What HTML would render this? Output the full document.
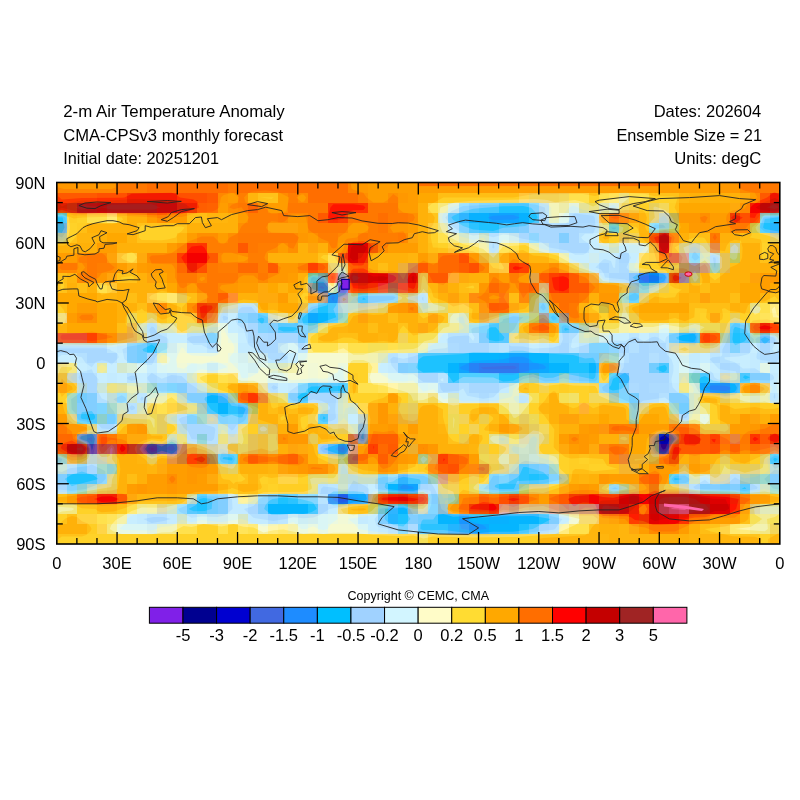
<!DOCTYPE html>
<html><head><meta charset="utf-8"><style>
html,body{margin:0;padding:0;background:#fff;width:800px;height:800px;overflow:hidden}
svg{position:absolute;left:0;top:0;will-change:transform}
text{font-family:"Liberation Sans",sans-serif;fill:#000}
</style></head><body>
<svg width="800" height="800" viewBox="0 0 800 800">

<g shape-rendering="crispEdges">
<rect x="56.8" y="182.5" width="60.6" height="10.4" fill="#FF9100"/>
<rect x="117.0" y="182.5" width="30.5" height="10.4" fill="#FF7D00"/>
<rect x="147.2" y="182.5" width="80.7" height="10.4" fill="#FF6E00"/>
<rect x="227.5" y="182.5" width="10.4" height="10.4" fill="#FF7D00"/>
<rect x="237.6" y="182.5" width="110.9" height="10.4" fill="#FF6E00"/>
<rect x="348.0" y="182.5" width="20.5" height="10.4" fill="#FF9100"/>
<rect x="368.1" y="182.5" width="351.9" height="10.4" fill="#FF9900"/>
<rect x="719.5" y="182.5" width="20.5" height="10.4" fill="#FF9100"/>
<rect x="739.6" y="182.5" width="40.6" height="10.4" fill="#FF7D00"/>
<rect x="56.8" y="192.5" width="40.6" height="10.4" fill="#FF5100"/>
<rect x="97.0" y="192.5" width="30.5" height="10.4" fill="#FF4300"/>
<rect x="127.1" y="192.5" width="50.6" height="10.4" fill="#F02600"/>
<rect x="177.3" y="192.5" width="30.5" height="10.4" fill="#FF4300"/>
<rect x="207.4" y="192.5" width="10.4" height="10.4" fill="#FF5100"/>
<rect x="217.5" y="192.5" width="10.4" height="10.4" fill="#FF9100"/>
<rect x="227.5" y="192.5" width="10.4" height="10.4" fill="#FF9900"/>
<rect x="237.6" y="192.5" width="10.4" height="10.4" fill="#FF8500"/>
<rect x="247.6" y="192.5" width="10.4" height="10.4" fill="#FFBC14"/>
<rect x="257.6" y="192.5" width="20.5" height="10.4" fill="#FFCE25"/>
<rect x="277.7" y="192.5" width="10.4" height="10.4" fill="#FF9900"/>
<rect x="287.8" y="192.5" width="10.4" height="10.4" fill="#FF8500"/>
<rect x="297.8" y="192.5" width="10.4" height="10.4" fill="#FF9900"/>
<rect x="307.8" y="192.5" width="50.6" height="10.4" fill="#FF6E00"/>
<rect x="358.1" y="192.5" width="10.4" height="10.4" fill="#FF8500"/>
<rect x="368.1" y="192.5" width="20.5" height="10.4" fill="#FF9900"/>
<rect x="388.2" y="192.5" width="10.4" height="10.4" fill="#FF8500"/>
<rect x="398.2" y="192.5" width="10.4" height="10.4" fill="#FF9100"/>
<rect x="408.3" y="192.5" width="10.4" height="10.4" fill="#FF9900"/>
<rect x="418.3" y="192.5" width="20.5" height="10.4" fill="#FFA800"/>
<rect x="438.4" y="192.5" width="80.7" height="10.4" fill="#FFC81E"/>
<rect x="518.7" y="192.5" width="10.4" height="10.4" fill="#FFD353"/>
<rect x="528.8" y="192.5" width="30.5" height="10.4" fill="#EFD066"/>
<rect x="558.9" y="192.5" width="10.4" height="10.4" fill="#EFD76D"/>
<rect x="568.9" y="192.5" width="20.5" height="10.4" fill="#FFE459"/>
<rect x="589.0" y="192.5" width="10.4" height="10.4" fill="#FFCE25"/>
<rect x="599.0" y="192.5" width="10.4" height="10.4" fill="#FFE459"/>
<rect x="609.1" y="192.5" width="10.4" height="10.4" fill="#FFE86C"/>
<rect x="619.1" y="192.5" width="10.4" height="10.4" fill="#E6E6A2"/>
<rect x="629.2" y="192.5" width="20.5" height="10.4" fill="#FFE459"/>
<rect x="649.3" y="192.5" width="30.5" height="10.4" fill="#FFCE25"/>
<rect x="679.4" y="192.5" width="10.4" height="10.4" fill="#FFBC14"/>
<rect x="689.4" y="192.5" width="50.6" height="10.4" fill="#FFB60D"/>
<rect x="739.6" y="192.5" width="10.4" height="10.4" fill="#FFAB12"/>
<rect x="749.7" y="192.5" width="10.4" height="10.4" fill="#FF9900"/>
<rect x="759.7" y="192.5" width="10.4" height="10.4" fill="#FF5100"/>
<rect x="769.8" y="192.5" width="10.4" height="10.4" fill="#EA1D00"/>
<rect x="56.8" y="202.6" width="10.4" height="10.4" fill="#D32C00"/>
<rect x="66.8" y="202.6" width="10.4" height="10.4" fill="#C53A0E"/>
<rect x="76.9" y="202.6" width="10.4" height="10.4" fill="#A91B1B"/>
<rect x="86.9" y="202.6" width="10.4" height="10.4" fill="#AE1616"/>
<rect x="97.0" y="202.6" width="10.4" height="10.4" fill="#B60E0E"/>
<rect x="107.0" y="202.6" width="50.6" height="10.4" fill="#A91B1B"/>
<rect x="157.2" y="202.6" width="20.5" height="10.4" fill="#C70D0D"/>
<rect x="177.3" y="202.6" width="10.4" height="10.4" fill="#DE290D"/>
<rect x="187.3" y="202.6" width="10.4" height="10.4" fill="#EA2B00"/>
<rect x="197.4" y="202.6" width="10.4" height="10.4" fill="#FF5700"/>
<rect x="207.4" y="202.6" width="10.4" height="10.4" fill="#FF5E00"/>
<rect x="217.5" y="202.6" width="10.4" height="10.4" fill="#FF9900"/>
<rect x="227.5" y="202.6" width="10.4" height="10.4" fill="#FF8500"/>
<rect x="237.6" y="202.6" width="10.4" height="10.4" fill="#FF7C00"/>
<rect x="247.6" y="202.6" width="10.4" height="10.4" fill="#FF5E00"/>
<rect x="257.6" y="202.6" width="10.4" height="10.4" fill="#FF8500"/>
<rect x="267.7" y="202.6" width="20.5" height="10.4" fill="#FF9900"/>
<rect x="287.8" y="202.6" width="40.6" height="10.4" fill="#FF7D00"/>
<rect x="327.9" y="202.6" width="40.6" height="10.4" fill="#FF1D00"/>
<rect x="368.1" y="202.6" width="30.5" height="10.4" fill="#FF7D00"/>
<rect x="398.2" y="202.6" width="20.5" height="10.4" fill="#FF9900"/>
<rect x="418.3" y="202.6" width="10.4" height="10.4" fill="#FFB60D"/>
<rect x="428.3" y="202.6" width="10.4" height="10.4" fill="#FFE459"/>
<rect x="438.4" y="202.6" width="10.4" height="10.4" fill="#F3EFA2"/>
<rect x="448.4" y="202.6" width="10.4" height="10.4" fill="#D5EEEC"/>
<rect x="458.5" y="202.6" width="10.4" height="10.4" fill="#88D9FF"/>
<rect x="468.5" y="202.6" width="10.4" height="10.4" fill="#76CDFF"/>
<rect x="478.6" y="202.6" width="20.5" height="10.4" fill="#62CBFF"/>
<rect x="498.6" y="202.6" width="30.5" height="10.4" fill="#2AC4FF"/>
<rect x="528.8" y="202.6" width="10.4" height="10.4" fill="#75D4FF"/>
<rect x="538.8" y="202.6" width="10.4" height="10.4" fill="#B9DDF1"/>
<rect x="548.8" y="202.6" width="10.4" height="10.4" fill="#EFF1B4"/>
<rect x="558.9" y="202.6" width="10.4" height="10.4" fill="#E6E59C"/>
<rect x="568.9" y="202.6" width="10.4" height="10.4" fill="#D7EFEA"/>
<rect x="579.0" y="202.6" width="10.4" height="10.4" fill="#DAD882"/>
<rect x="589.0" y="202.6" width="10.4" height="10.4" fill="#E6D967"/>
<rect x="599.0" y="202.6" width="10.4" height="10.4" fill="#CEDFB7"/>
<rect x="609.1" y="202.6" width="10.4" height="10.4" fill="#CEEAEC"/>
<rect x="619.1" y="202.6" width="10.4" height="10.4" fill="#EDD470"/>
<rect x="629.2" y="202.6" width="10.4" height="10.4" fill="#F3D056"/>
<rect x="639.2" y="202.6" width="10.4" height="10.4" fill="#FFCE25"/>
<rect x="649.3" y="202.6" width="10.4" height="10.4" fill="#DECB6D"/>
<rect x="659.3" y="202.6" width="10.4" height="10.4" fill="#EFD76D"/>
<rect x="669.3" y="202.6" width="10.4" height="10.4" fill="#FFC81E"/>
<rect x="679.4" y="202.6" width="50.6" height="10.4" fill="#FFA800"/>
<rect x="729.6" y="202.6" width="10.4" height="10.4" fill="#FFAB12"/>
<rect x="739.6" y="202.6" width="10.4" height="10.4" fill="#FF9100"/>
<rect x="749.7" y="202.6" width="10.4" height="10.4" fill="#F00000"/>
<rect x="759.7" y="202.6" width="10.4" height="10.4" fill="#BB0909"/>
<rect x="769.8" y="202.6" width="10.4" height="10.4" fill="#A91B1B"/>
<rect x="56.8" y="212.6" width="10.4" height="10.4" fill="#2AC4FF"/>
<rect x="66.8" y="212.6" width="10.4" height="10.4" fill="#FFC81E"/>
<rect x="76.9" y="212.6" width="10.4" height="10.4" fill="#FFCE25"/>
<rect x="86.9" y="212.6" width="20.5" height="10.4" fill="#FFE459"/>
<rect x="107.0" y="212.6" width="10.4" height="10.4" fill="#FFF08E"/>
<rect x="117.0" y="212.6" width="10.4" height="10.4" fill="#FFCE25"/>
<rect x="127.1" y="212.6" width="20.5" height="10.4" fill="#FFB60D"/>
<rect x="147.2" y="212.6" width="10.4" height="10.4" fill="#FF9900"/>
<rect x="157.2" y="212.6" width="10.4" height="10.4" fill="#FF8500"/>
<rect x="167.3" y="212.6" width="20.5" height="10.4" fill="#FF9900"/>
<rect x="187.3" y="212.6" width="20.5" height="10.4" fill="#FFC81E"/>
<rect x="207.4" y="212.6" width="20.5" height="10.4" fill="#FFBC14"/>
<rect x="227.5" y="212.6" width="10.4" height="10.4" fill="#FFB60D"/>
<rect x="237.6" y="212.6" width="10.4" height="10.4" fill="#FF9900"/>
<rect x="247.6" y="212.6" width="30.5" height="10.4" fill="#FF8500"/>
<rect x="277.7" y="212.6" width="10.4" height="10.4" fill="#FF7D00"/>
<rect x="287.8" y="212.6" width="20.5" height="10.4" fill="#FF9100"/>
<rect x="307.8" y="212.6" width="10.4" height="10.4" fill="#FF7D00"/>
<rect x="317.9" y="212.6" width="10.4" height="10.4" fill="#FF5100"/>
<rect x="327.9" y="212.6" width="10.4" height="10.4" fill="#FF1D00"/>
<rect x="338.0" y="212.6" width="10.4" height="10.4" fill="#FF2B00"/>
<rect x="348.0" y="212.6" width="30.5" height="10.4" fill="#FF7D00"/>
<rect x="378.1" y="212.6" width="10.4" height="10.4" fill="#FF6E00"/>
<rect x="388.2" y="212.6" width="20.5" height="10.4" fill="#FF7D00"/>
<rect x="408.3" y="212.6" width="10.4" height="10.4" fill="#FF8500"/>
<rect x="418.3" y="212.6" width="10.4" height="10.4" fill="#FFB60D"/>
<rect x="428.3" y="212.6" width="10.4" height="10.4" fill="#FFBC14"/>
<rect x="438.4" y="212.6" width="10.4" height="10.4" fill="#CEEAEC"/>
<rect x="448.4" y="212.6" width="10.4" height="10.4" fill="#51C5FF"/>
<rect x="458.5" y="212.6" width="10.4" height="10.4" fill="#44B2FF"/>
<rect x="468.5" y="212.6" width="20.5" height="10.4" fill="#0CABFF"/>
<rect x="488.6" y="212.6" width="30.5" height="10.4" fill="#1699FF"/>
<rect x="518.7" y="212.6" width="10.4" height="10.4" fill="#0CABFF"/>
<rect x="528.8" y="212.6" width="10.4" height="10.4" fill="#2AC4FF"/>
<rect x="538.8" y="212.6" width="10.4" height="10.4" fill="#B4E0FF"/>
<rect x="548.8" y="212.6" width="10.4" height="10.4" fill="#EFF1B4"/>
<rect x="558.9" y="212.6" width="10.4" height="10.4" fill="#E4F8EA"/>
<rect x="568.9" y="212.6" width="30.5" height="10.4" fill="#ADDBFF"/>
<rect x="599.0" y="212.6" width="10.4" height="10.4" fill="#FFA325"/>
<rect x="609.1" y="212.6" width="10.4" height="10.4" fill="#FF600D"/>
<rect x="619.1" y="212.6" width="10.4" height="10.4" fill="#FF8114"/>
<rect x="629.2" y="212.6" width="10.4" height="10.4" fill="#FFA10D"/>
<rect x="639.2" y="212.6" width="10.4" height="10.4" fill="#FFBC14"/>
<rect x="649.3" y="212.6" width="10.4" height="10.4" fill="#DEC466"/>
<rect x="659.3" y="212.6" width="10.4" height="10.4" fill="#B9C7BD"/>
<rect x="669.3" y="212.6" width="10.4" height="10.4" fill="#A6A159"/>
<rect x="679.4" y="212.6" width="20.5" height="10.4" fill="#FF9100"/>
<rect x="699.5" y="212.6" width="10.4" height="10.4" fill="#FF8500"/>
<rect x="709.5" y="212.6" width="20.5" height="10.4" fill="#FF9900"/>
<rect x="729.6" y="212.6" width="10.4" height="10.4" fill="#EA2B00"/>
<rect x="739.6" y="212.6" width="10.4" height="10.4" fill="#FF4300"/>
<rect x="749.7" y="212.6" width="10.4" height="10.4" fill="#FF2B00"/>
<rect x="759.7" y="212.6" width="10.4" height="10.4" fill="#62CBFF"/>
<rect x="769.8" y="212.6" width="10.4" height="10.4" fill="#3EC6FF"/>
<rect x="56.8" y="222.7" width="10.4" height="10.4" fill="#58A1CA"/>
<rect x="66.8" y="222.7" width="10.4" height="10.4" fill="#FFCE25"/>
<rect x="76.9" y="222.7" width="10.4" height="10.4" fill="#FFC81E"/>
<rect x="86.9" y="222.7" width="50.6" height="10.4" fill="#FFB60D"/>
<rect x="137.1" y="222.7" width="50.6" height="10.4" fill="#FFCE25"/>
<rect x="187.3" y="222.7" width="50.6" height="10.4" fill="#FFB60D"/>
<rect x="237.6" y="222.7" width="30.5" height="10.4" fill="#FF8500"/>
<rect x="267.7" y="222.7" width="30.5" height="10.4" fill="#FFA10D"/>
<rect x="297.8" y="222.7" width="10.4" height="10.4" fill="#FF9900"/>
<rect x="307.8" y="222.7" width="40.6" height="10.4" fill="#FF7D00"/>
<rect x="348.0" y="222.7" width="20.5" height="10.4" fill="#FF9900"/>
<rect x="368.1" y="222.7" width="10.4" height="10.4" fill="#FF8500"/>
<rect x="378.1" y="222.7" width="10.4" height="10.4" fill="#FF7D00"/>
<rect x="388.2" y="222.7" width="20.5" height="10.4" fill="#FF9100"/>
<rect x="408.3" y="222.7" width="10.4" height="10.4" fill="#FF9900"/>
<rect x="418.3" y="222.7" width="10.4" height="10.4" fill="#FFB60D"/>
<rect x="428.3" y="222.7" width="10.4" height="10.4" fill="#FFD248"/>
<rect x="438.4" y="222.7" width="10.4" height="10.4" fill="#E6E6A2"/>
<rect x="448.4" y="222.7" width="10.4" height="10.4" fill="#BEE7FF"/>
<rect x="458.5" y="222.7" width="10.4" height="10.4" fill="#75D4FF"/>
<rect x="468.5" y="222.7" width="10.4" height="10.4" fill="#3EC6FF"/>
<rect x="478.6" y="222.7" width="20.5" height="10.4" fill="#2AC4FF"/>
<rect x="498.6" y="222.7" width="20.5" height="10.4" fill="#62CBFF"/>
<rect x="518.7" y="222.7" width="10.4" height="10.4" fill="#76CDFF"/>
<rect x="528.8" y="222.7" width="50.6" height="10.4" fill="#ADDBFF"/>
<rect x="579.0" y="222.7" width="20.5" height="10.4" fill="#B4E0FF"/>
<rect x="599.0" y="222.7" width="10.4" height="10.4" fill="#DAD882"/>
<rect x="609.1" y="222.7" width="10.4" height="10.4" fill="#42B9BD"/>
<rect x="619.1" y="222.7" width="10.4" height="10.4" fill="#BDC054"/>
<rect x="629.2" y="222.7" width="10.4" height="10.4" fill="#FFCE25"/>
<rect x="639.2" y="222.7" width="10.4" height="10.4" fill="#FFBC14"/>
<rect x="649.3" y="222.7" width="10.4" height="10.4" fill="#73D7FF"/>
<rect x="659.3" y="222.7" width="10.4" height="10.4" fill="#81C0BD"/>
<rect x="669.3" y="222.7" width="10.4" height="10.4" fill="#A6BE66"/>
<rect x="679.4" y="222.7" width="10.4" height="10.4" fill="#FFA800"/>
<rect x="689.4" y="222.7" width="20.5" height="10.4" fill="#FF9400"/>
<rect x="709.5" y="222.7" width="20.5" height="10.4" fill="#FF9900"/>
<rect x="729.6" y="222.7" width="20.5" height="10.4" fill="#FF7D00"/>
<rect x="749.7" y="222.7" width="10.4" height="10.4" fill="#BDC256"/>
<rect x="759.7" y="222.7" width="10.4" height="10.4" fill="#2AC4FF"/>
<rect x="769.8" y="222.7" width="10.4" height="10.4" fill="#34B2FF"/>
<rect x="56.8" y="232.7" width="10.4" height="10.4" fill="#B0B26D"/>
<rect x="66.8" y="232.7" width="10.4" height="10.4" fill="#FFCE25"/>
<rect x="76.9" y="232.7" width="20.5" height="10.4" fill="#FFBC14"/>
<rect x="97.0" y="232.7" width="10.4" height="10.4" fill="#FFB60D"/>
<rect x="107.0" y="232.7" width="20.5" height="10.4" fill="#FFA800"/>
<rect x="127.1" y="232.7" width="10.4" height="10.4" fill="#FFBC14"/>
<rect x="137.1" y="232.7" width="40.6" height="10.4" fill="#FFCE25"/>
<rect x="177.3" y="232.7" width="10.4" height="10.4" fill="#FFBC14"/>
<rect x="187.3" y="232.7" width="10.4" height="10.4" fill="#FF9900"/>
<rect x="197.4" y="232.7" width="20.5" height="10.4" fill="#FF8500"/>
<rect x="217.5" y="232.7" width="10.4" height="10.4" fill="#FF9900"/>
<rect x="227.5" y="232.7" width="10.4" height="10.4" fill="#FF8500"/>
<rect x="237.6" y="232.7" width="60.6" height="10.4" fill="#FF7D00"/>
<rect x="297.8" y="232.7" width="10.4" height="10.4" fill="#FF9100"/>
<rect x="307.8" y="232.7" width="10.4" height="10.4" fill="#FF9900"/>
<rect x="317.9" y="232.7" width="20.5" height="10.4" fill="#FF8500"/>
<rect x="338.0" y="232.7" width="20.5" height="10.4" fill="#FF9100"/>
<rect x="358.1" y="232.7" width="10.4" height="10.4" fill="#FF7D00"/>
<rect x="368.1" y="232.7" width="30.5" height="10.4" fill="#FF8500"/>
<rect x="398.2" y="232.7" width="10.4" height="10.4" fill="#FF7D00"/>
<rect x="408.3" y="232.7" width="10.4" height="10.4" fill="#FFA412"/>
<rect x="418.3" y="232.7" width="10.4" height="10.4" fill="#FFB60D"/>
<rect x="428.3" y="232.7" width="10.4" height="10.4" fill="#FFCE25"/>
<rect x="438.4" y="232.7" width="10.4" height="10.4" fill="#FFE459"/>
<rect x="448.4" y="232.7" width="10.4" height="10.4" fill="#F3EFA2"/>
<rect x="458.5" y="232.7" width="10.4" height="10.4" fill="#D5E3B7"/>
<rect x="468.5" y="232.7" width="10.4" height="10.4" fill="#D5EEEC"/>
<rect x="478.6" y="232.7" width="10.4" height="10.4" fill="#D5E3B7"/>
<rect x="488.6" y="232.7" width="10.4" height="10.4" fill="#BEE7FF"/>
<rect x="498.6" y="232.7" width="10.4" height="10.4" fill="#DEF7F1"/>
<rect x="508.7" y="232.7" width="10.4" height="10.4" fill="#D2EBEA"/>
<rect x="518.7" y="232.7" width="10.4" height="10.4" fill="#ADDBFF"/>
<rect x="528.8" y="232.7" width="10.4" height="10.4" fill="#88D9FF"/>
<rect x="538.8" y="232.7" width="20.5" height="10.4" fill="#ADDBFF"/>
<rect x="558.9" y="232.7" width="10.4" height="10.4" fill="#76CDFF"/>
<rect x="568.9" y="232.7" width="10.4" height="10.4" fill="#ADDBFF"/>
<rect x="579.0" y="232.7" width="20.5" height="10.4" fill="#C5ECFF"/>
<rect x="599.0" y="232.7" width="10.4" height="10.4" fill="#FFB60D"/>
<rect x="609.1" y="232.7" width="10.4" height="10.4" fill="#FFC81E"/>
<rect x="619.1" y="232.7" width="10.4" height="10.4" fill="#DEB759"/>
<rect x="629.2" y="232.7" width="10.4" height="10.4" fill="#EFD066"/>
<rect x="639.2" y="232.7" width="10.4" height="10.4" fill="#FFBA12"/>
<rect x="649.3" y="232.7" width="10.4" height="10.4" fill="#F04200"/>
<rect x="659.3" y="232.7" width="10.4" height="10.4" fill="#B60E0E"/>
<rect x="669.3" y="232.7" width="10.4" height="10.4" fill="#FF8114"/>
<rect x="679.4" y="232.7" width="10.4" height="10.4" fill="#FFB60D"/>
<rect x="689.4" y="232.7" width="20.5" height="10.4" fill="#FFC81E"/>
<rect x="709.5" y="232.7" width="10.4" height="10.4" fill="#FF6600"/>
<rect x="719.5" y="232.7" width="20.5" height="10.4" fill="#FFB60D"/>
<rect x="739.6" y="232.7" width="30.5" height="10.4" fill="#FFC81E"/>
<rect x="769.8" y="232.7" width="10.4" height="10.4" fill="#DEC466"/>
<rect x="56.8" y="242.8" width="40.6" height="10.4" fill="#FFB60D"/>
<rect x="97.0" y="242.8" width="20.5" height="10.4" fill="#FF9900"/>
<rect x="117.0" y="242.8" width="50.6" height="10.4" fill="#FFB60D"/>
<rect x="167.3" y="242.8" width="10.4" height="10.4" fill="#FF9900"/>
<rect x="177.3" y="242.8" width="10.4" height="10.4" fill="#FF8500"/>
<rect x="187.3" y="242.8" width="20.5" height="10.4" fill="#FF1D00"/>
<rect x="207.4" y="242.8" width="30.5" height="10.4" fill="#FF8500"/>
<rect x="237.6" y="242.8" width="10.4" height="10.4" fill="#FF5100"/>
<rect x="247.6" y="242.8" width="10.4" height="10.4" fill="#FF7D00"/>
<rect x="257.6" y="242.8" width="20.5" height="10.4" fill="#FF8500"/>
<rect x="277.7" y="242.8" width="10.4" height="10.4" fill="#FF9900"/>
<rect x="287.8" y="242.8" width="10.4" height="10.4" fill="#FF8500"/>
<rect x="297.8" y="242.8" width="10.4" height="10.4" fill="#FFB60D"/>
<rect x="307.8" y="242.8" width="10.4" height="10.4" fill="#FFA10D"/>
<rect x="317.9" y="242.8" width="10.4" height="10.4" fill="#FFB60D"/>
<rect x="327.9" y="242.8" width="10.4" height="10.4" fill="#FF8500"/>
<rect x="338.0" y="242.8" width="10.4" height="10.4" fill="#FF9900"/>
<rect x="348.0" y="242.8" width="20.5" height="10.4" fill="#D30000"/>
<rect x="368.1" y="242.8" width="10.4" height="10.4" fill="#F05100"/>
<rect x="378.1" y="242.8" width="10.4" height="10.4" fill="#FF8500"/>
<rect x="388.2" y="242.8" width="30.5" height="10.4" fill="#FF9900"/>
<rect x="418.3" y="242.8" width="10.4" height="10.4" fill="#FFB60D"/>
<rect x="428.3" y="242.8" width="10.4" height="10.4" fill="#FFC81E"/>
<rect x="438.4" y="242.8" width="10.4" height="10.4" fill="#FFCE25"/>
<rect x="448.4" y="242.8" width="10.4" height="10.4" fill="#FFD248"/>
<rect x="458.5" y="242.8" width="10.4" height="10.4" fill="#FFE459"/>
<rect x="468.5" y="242.8" width="10.4" height="10.4" fill="#FFE86C"/>
<rect x="478.6" y="242.8" width="10.4" height="10.4" fill="#F3EFA2"/>
<rect x="488.6" y="242.8" width="10.4" height="10.4" fill="#B4E0FF"/>
<rect x="498.6" y="242.8" width="10.4" height="10.4" fill="#FFE86C"/>
<rect x="508.7" y="242.8" width="10.4" height="10.4" fill="#FFE459"/>
<rect x="518.7" y="242.8" width="10.4" height="10.4" fill="#FFCE25"/>
<rect x="528.8" y="242.8" width="10.4" height="10.4" fill="#EFEDA1"/>
<rect x="538.8" y="242.8" width="10.4" height="10.4" fill="#D2EBEA"/>
<rect x="548.8" y="242.8" width="10.4" height="10.4" fill="#B4E0FF"/>
<rect x="558.9" y="242.8" width="30.5" height="10.4" fill="#ADDBFF"/>
<rect x="589.0" y="242.8" width="10.4" height="10.4" fill="#C5ECFF"/>
<rect x="599.0" y="242.8" width="10.4" height="10.4" fill="#CEEAEC"/>
<rect x="609.1" y="242.8" width="10.4" height="10.4" fill="#CEDFB7"/>
<rect x="619.1" y="242.8" width="10.4" height="10.4" fill="#C5ECFF"/>
<rect x="629.2" y="242.8" width="10.4" height="10.4" fill="#CCEBF1"/>
<rect x="639.2" y="242.8" width="10.4" height="10.4" fill="#D5EEEC"/>
<rect x="649.3" y="242.8" width="10.4" height="10.4" fill="#F3BC42"/>
<rect x="659.3" y="242.8" width="10.4" height="10.4" fill="#C70D0D"/>
<rect x="669.3" y="242.8" width="10.4" height="10.4" fill="#FFD248"/>
<rect x="679.4" y="242.8" width="10.4" height="10.4" fill="#CECCA6"/>
<rect x="689.4" y="242.8" width="10.4" height="10.4" fill="#B9C7BD"/>
<rect x="699.5" y="242.8" width="10.4" height="10.4" fill="#D5D1A6"/>
<rect x="709.5" y="242.8" width="10.4" height="10.4" fill="#DA7E63"/>
<rect x="719.5" y="242.8" width="10.4" height="10.4" fill="#FFBC14"/>
<rect x="729.6" y="242.8" width="10.4" height="10.4" fill="#B9C7BD"/>
<rect x="739.6" y="242.8" width="20.5" height="10.4" fill="#FFB60D"/>
<rect x="759.7" y="242.8" width="10.4" height="10.4" fill="#FFCE25"/>
<rect x="769.8" y="242.8" width="10.4" height="10.4" fill="#FFB60D"/>
<rect x="56.8" y="252.8" width="20.5" height="10.4" fill="#FF9900"/>
<rect x="76.9" y="252.8" width="10.4" height="10.4" fill="#FF8500"/>
<rect x="86.9" y="252.8" width="20.5" height="10.4" fill="#FF7D00"/>
<rect x="107.0" y="252.8" width="10.4" height="10.4" fill="#FFA10D"/>
<rect x="117.0" y="252.8" width="10.4" height="10.4" fill="#FFD248"/>
<rect x="127.1" y="252.8" width="10.4" height="10.4" fill="#FFE459"/>
<rect x="137.1" y="252.8" width="10.4" height="10.4" fill="#FFAB12"/>
<rect x="147.2" y="252.8" width="30.5" height="10.4" fill="#FF7D00"/>
<rect x="177.3" y="252.8" width="10.4" height="10.4" fill="#FF2B00"/>
<rect x="187.3" y="252.8" width="20.5" height="10.4" fill="#F00000"/>
<rect x="207.4" y="252.8" width="10.4" height="10.4" fill="#FF5100"/>
<rect x="217.5" y="252.8" width="20.5" height="10.4" fill="#FF9100"/>
<rect x="237.6" y="252.8" width="10.4" height="10.4" fill="#FF9900"/>
<rect x="247.6" y="252.8" width="20.5" height="10.4" fill="#FF8500"/>
<rect x="267.7" y="252.8" width="50.6" height="10.4" fill="#FFB60D"/>
<rect x="317.9" y="252.8" width="10.4" height="10.4" fill="#FFCE25"/>
<rect x="327.9" y="252.8" width="10.4" height="10.4" fill="#FFE86C"/>
<rect x="338.0" y="252.8" width="10.4" height="10.4" fill="#F04D12"/>
<rect x="348.0" y="252.8" width="10.4" height="10.4" fill="#D30000"/>
<rect x="358.1" y="252.8" width="10.4" height="10.4" fill="#EA1D00"/>
<rect x="368.1" y="252.8" width="40.6" height="10.4" fill="#FFB60D"/>
<rect x="408.3" y="252.8" width="10.4" height="10.4" fill="#FFBC14"/>
<rect x="418.3" y="252.8" width="10.4" height="10.4" fill="#FF9900"/>
<rect x="428.3" y="252.8" width="10.4" height="10.4" fill="#FFAB12"/>
<rect x="438.4" y="252.8" width="20.5" height="10.4" fill="#FF6600"/>
<rect x="458.5" y="252.8" width="10.4" height="10.4" fill="#FF4300"/>
<rect x="468.5" y="252.8" width="10.4" height="10.4" fill="#FF9100"/>
<rect x="478.6" y="252.8" width="10.4" height="10.4" fill="#E6B342"/>
<rect x="488.6" y="252.8" width="10.4" height="10.4" fill="#DACB75"/>
<rect x="498.6" y="252.8" width="10.4" height="10.4" fill="#FFAB12"/>
<rect x="508.7" y="252.8" width="10.4" height="10.4" fill="#FF9100"/>
<rect x="518.7" y="252.8" width="10.4" height="10.4" fill="#FFAB12"/>
<rect x="528.8" y="252.8" width="20.5" height="10.4" fill="#FFBC14"/>
<rect x="548.8" y="252.8" width="10.4" height="10.4" fill="#FFCE25"/>
<rect x="558.9" y="252.8" width="10.4" height="10.4" fill="#F3EE9C"/>
<rect x="568.9" y="252.8" width="20.5" height="10.4" fill="#C5ECFF"/>
<rect x="589.0" y="252.8" width="10.4" height="10.4" fill="#CEEAEC"/>
<rect x="599.0" y="252.8" width="20.5" height="10.4" fill="#BEE7FF"/>
<rect x="619.1" y="252.8" width="10.4" height="10.4" fill="#ADDBFF"/>
<rect x="629.2" y="252.8" width="10.4" height="10.4" fill="#C5ECFF"/>
<rect x="639.2" y="252.8" width="10.4" height="10.4" fill="#FFDA5A"/>
<rect x="649.3" y="252.8" width="10.4" height="10.4" fill="#FFD353"/>
<rect x="659.3" y="252.8" width="10.4" height="10.4" fill="#FF7912"/>
<rect x="669.3" y="252.8" width="10.4" height="10.4" fill="#DA5263"/>
<rect x="679.4" y="252.8" width="10.4" height="10.4" fill="#C5809C"/>
<rect x="689.4" y="252.8" width="10.4" height="10.4" fill="#75D4FF"/>
<rect x="699.5" y="252.8" width="10.4" height="10.4" fill="#D5E3B7"/>
<rect x="709.5" y="252.8" width="10.4" height="10.4" fill="#ADDBFF"/>
<rect x="719.5" y="252.8" width="10.4" height="10.4" fill="#DAB863"/>
<rect x="729.6" y="252.8" width="10.4" height="10.4" fill="#A6BE66"/>
<rect x="739.6" y="252.8" width="20.5" height="10.4" fill="#FFB60D"/>
<rect x="759.7" y="252.8" width="10.4" height="10.4" fill="#FFCE25"/>
<rect x="769.8" y="252.8" width="10.4" height="10.4" fill="#FFB60D"/>
<rect x="56.8" y="262.8" width="20.5" height="10.4" fill="#FF7D00"/>
<rect x="76.9" y="262.8" width="10.4" height="10.4" fill="#FF9100"/>
<rect x="86.9" y="262.8" width="10.4" height="10.4" fill="#FF7D00"/>
<rect x="97.0" y="262.8" width="20.5" height="10.4" fill="#FF8500"/>
<rect x="117.0" y="262.8" width="10.4" height="10.4" fill="#FF9900"/>
<rect x="127.1" y="262.8" width="10.4" height="10.4" fill="#FFAB12"/>
<rect x="137.1" y="262.8" width="10.4" height="10.4" fill="#FF9900"/>
<rect x="147.2" y="262.8" width="30.5" height="10.4" fill="#FF9100"/>
<rect x="177.3" y="262.8" width="10.4" height="10.4" fill="#FF6600"/>
<rect x="187.3" y="262.8" width="10.4" height="10.4" fill="#E82600"/>
<rect x="197.4" y="262.8" width="10.4" height="10.4" fill="#FF4300"/>
<rect x="207.4" y="262.8" width="10.4" height="10.4" fill="#FF7D00"/>
<rect x="217.5" y="262.8" width="20.5" height="10.4" fill="#FF8500"/>
<rect x="237.6" y="262.8" width="20.5" height="10.4" fill="#FF6800"/>
<rect x="257.6" y="262.8" width="10.4" height="10.4" fill="#FF8500"/>
<rect x="267.7" y="262.8" width="10.4" height="10.4" fill="#FF5100"/>
<rect x="277.7" y="262.8" width="20.5" height="10.4" fill="#FF9100"/>
<rect x="297.8" y="262.8" width="10.4" height="10.4" fill="#FF7D00"/>
<rect x="307.8" y="262.8" width="10.4" height="10.4" fill="#FF2B00"/>
<rect x="317.9" y="262.8" width="10.4" height="10.4" fill="#FF5700"/>
<rect x="327.9" y="262.8" width="10.4" height="10.4" fill="#E6D490"/>
<rect x="338.0" y="262.8" width="10.4" height="10.4" fill="#DAE0A9"/>
<rect x="348.0" y="262.8" width="10.4" height="10.4" fill="#FF5700"/>
<rect x="358.1" y="262.8" width="10.4" height="10.4" fill="#FF5100"/>
<rect x="368.1" y="262.8" width="10.4" height="10.4" fill="#FFB60D"/>
<rect x="378.1" y="262.8" width="10.4" height="10.4" fill="#FFC81E"/>
<rect x="388.2" y="262.8" width="10.4" height="10.4" fill="#FFB60D"/>
<rect x="398.2" y="262.8" width="10.4" height="10.4" fill="#E6B356"/>
<rect x="408.3" y="262.8" width="10.4" height="10.4" fill="#C57E63"/>
<rect x="418.3" y="262.8" width="10.4" height="10.4" fill="#FF5100"/>
<rect x="428.3" y="262.8" width="10.4" height="10.4" fill="#FF7D00"/>
<rect x="438.4" y="262.8" width="20.5" height="10.4" fill="#FF6600"/>
<rect x="458.5" y="262.8" width="10.4" height="10.4" fill="#FF5700"/>
<rect x="468.5" y="262.8" width="10.4" height="10.4" fill="#FF4300"/>
<rect x="478.6" y="262.8" width="10.4" height="10.4" fill="#FF7D00"/>
<rect x="488.6" y="262.8" width="10.4" height="10.4" fill="#FFD248"/>
<rect x="498.6" y="262.8" width="10.4" height="10.4" fill="#FFD65B"/>
<rect x="508.7" y="262.8" width="10.4" height="10.4" fill="#FF1D00"/>
<rect x="518.7" y="262.8" width="10.4" height="10.4" fill="#FF2B00"/>
<rect x="528.8" y="262.8" width="20.5" height="10.4" fill="#FF9900"/>
<rect x="548.8" y="262.8" width="10.4" height="10.4" fill="#FF8500"/>
<rect x="558.9" y="262.8" width="10.4" height="10.4" fill="#FFA814"/>
<rect x="568.9" y="262.8" width="10.4" height="10.4" fill="#F3D056"/>
<rect x="579.0" y="262.8" width="10.4" height="10.4" fill="#D5E3B7"/>
<rect x="589.0" y="262.8" width="10.4" height="10.4" fill="#BEE7FF"/>
<rect x="599.0" y="262.8" width="10.4" height="10.4" fill="#ADDBFF"/>
<rect x="609.1" y="262.8" width="10.4" height="10.4" fill="#BEE7FF"/>
<rect x="619.1" y="262.8" width="10.4" height="10.4" fill="#B4E0FF"/>
<rect x="629.2" y="262.8" width="10.4" height="10.4" fill="#DEEECA"/>
<rect x="639.2" y="262.8" width="20.5" height="10.4" fill="#FFCE25"/>
<rect x="659.3" y="262.8" width="10.4" height="10.4" fill="#FFC81E"/>
<rect x="669.3" y="262.8" width="10.4" height="10.4" fill="#E6C554"/>
<rect x="679.4" y="262.8" width="10.4" height="10.4" fill="#987163"/>
<rect x="689.4" y="262.8" width="10.4" height="10.4" fill="#81689C"/>
<rect x="699.5" y="262.8" width="10.4" height="10.4" fill="#BA92A6"/>
<rect x="709.5" y="262.8" width="10.4" height="10.4" fill="#81C0BD"/>
<rect x="719.5" y="262.8" width="10.4" height="10.4" fill="#DAB863"/>
<rect x="729.6" y="262.8" width="50.6" height="10.4" fill="#FFB60D"/>
<rect x="56.8" y="272.9" width="10.4" height="10.4" fill="#FFC81E"/>
<rect x="66.8" y="272.9" width="10.4" height="10.4" fill="#FFBC14"/>
<rect x="76.9" y="272.9" width="20.5" height="10.4" fill="#FF7D00"/>
<rect x="97.0" y="272.9" width="10.4" height="10.4" fill="#FF9100"/>
<rect x="107.0" y="272.9" width="10.4" height="10.4" fill="#FFA412"/>
<rect x="117.0" y="272.9" width="20.5" height="10.4" fill="#FFCE25"/>
<rect x="137.1" y="272.9" width="10.4" height="10.4" fill="#FFB60D"/>
<rect x="147.2" y="272.9" width="10.4" height="10.4" fill="#FFA10D"/>
<rect x="157.2" y="272.9" width="10.4" height="10.4" fill="#FFA800"/>
<rect x="167.3" y="272.9" width="10.4" height="10.4" fill="#FF9400"/>
<rect x="177.3" y="272.9" width="20.5" height="10.4" fill="#FF7D00"/>
<rect x="197.4" y="272.9" width="10.4" height="10.4" fill="#FF9100"/>
<rect x="207.4" y="272.9" width="30.5" height="10.4" fill="#FF7D00"/>
<rect x="237.6" y="272.9" width="20.5" height="10.4" fill="#FF9100"/>
<rect x="257.6" y="272.9" width="10.4" height="10.4" fill="#FF7D00"/>
<rect x="267.7" y="272.9" width="20.5" height="10.4" fill="#FF9100"/>
<rect x="287.8" y="272.9" width="10.4" height="10.4" fill="#FF9900"/>
<rect x="297.8" y="272.9" width="10.4" height="10.4" fill="#FFB60D"/>
<rect x="307.8" y="272.9" width="10.4" height="10.4" fill="#42B9BD"/>
<rect x="317.9" y="272.9" width="10.4" height="10.4" fill="#428DBD"/>
<rect x="327.9" y="272.9" width="10.4" height="10.4" fill="#FF4234"/>
<rect x="338.0" y="272.9" width="10.4" height="10.4" fill="#CD9BA0"/>
<rect x="348.0" y="272.9" width="10.4" height="10.4" fill="#A91B1B"/>
<rect x="358.1" y="272.9" width="10.4" height="10.4" fill="#C70D0D"/>
<rect x="368.1" y="272.9" width="10.4" height="10.4" fill="#DB0000"/>
<rect x="378.1" y="272.9" width="10.4" height="10.4" fill="#D30000"/>
<rect x="388.2" y="272.9" width="10.4" height="10.4" fill="#BB3742"/>
<rect x="398.2" y="272.9" width="10.4" height="10.4" fill="#964359"/>
<rect x="408.3" y="272.9" width="10.4" height="10.4" fill="#D30000"/>
<rect x="418.3" y="272.9" width="10.4" height="10.4" fill="#DEC466"/>
<rect x="428.3" y="272.9" width="20.5" height="10.4" fill="#FF5100"/>
<rect x="448.4" y="272.9" width="10.4" height="10.4" fill="#FFAF46"/>
<rect x="458.5" y="272.9" width="10.4" height="10.4" fill="#FFAB12"/>
<rect x="468.5" y="272.9" width="20.5" height="10.4" fill="#FFB60D"/>
<rect x="488.6" y="272.9" width="10.4" height="10.4" fill="#FF8500"/>
<rect x="498.6" y="272.9" width="10.4" height="10.4" fill="#FF9900"/>
<rect x="508.7" y="272.9" width="10.4" height="10.4" fill="#FF8500"/>
<rect x="518.7" y="272.9" width="10.4" height="10.4" fill="#FF9900"/>
<rect x="528.8" y="272.9" width="10.4" height="10.4" fill="#DAA463"/>
<rect x="538.8" y="272.9" width="10.4" height="10.4" fill="#FF5100"/>
<rect x="548.8" y="272.9" width="10.4" height="10.4" fill="#FF2B00"/>
<rect x="558.9" y="272.9" width="10.4" height="10.4" fill="#FF1D00"/>
<rect x="568.9" y="272.9" width="10.4" height="10.4" fill="#FF5100"/>
<rect x="579.0" y="272.9" width="10.4" height="10.4" fill="#FF7D00"/>
<rect x="589.0" y="272.9" width="10.4" height="10.4" fill="#F3A542"/>
<rect x="599.0" y="272.9" width="10.4" height="10.4" fill="#BEE7FF"/>
<rect x="609.1" y="272.9" width="20.5" height="10.4" fill="#ADDBFF"/>
<rect x="629.2" y="272.9" width="10.4" height="10.4" fill="#7FC3FF"/>
<rect x="639.2" y="272.9" width="10.4" height="10.4" fill="#3468ED"/>
<rect x="649.3" y="272.9" width="10.4" height="10.4" fill="#086FEF"/>
<rect x="659.3" y="272.9" width="10.4" height="10.4" fill="#409EFF"/>
<rect x="669.3" y="272.9" width="10.4" height="10.4" fill="#D32C00"/>
<rect x="679.4" y="272.9" width="10.4" height="10.4" fill="#767DDE"/>
<rect x="689.4" y="272.9" width="10.4" height="10.4" fill="#B0AC66"/>
<rect x="699.5" y="272.9" width="10.4" height="10.4" fill="#FFB60D"/>
<rect x="709.5" y="272.9" width="10.4" height="10.4" fill="#FFCE25"/>
<rect x="719.5" y="272.9" width="30.5" height="10.4" fill="#FFB60D"/>
<rect x="749.7" y="272.9" width="10.4" height="10.4" fill="#FFA10D"/>
<rect x="759.7" y="272.9" width="10.4" height="10.4" fill="#FF9900"/>
<rect x="769.8" y="272.9" width="10.4" height="10.4" fill="#FF9100"/>
<rect x="56.8" y="282.9" width="10.4" height="10.4" fill="#FFCE25"/>
<rect x="66.8" y="282.9" width="10.4" height="10.4" fill="#FFB60D"/>
<rect x="76.9" y="282.9" width="10.4" height="10.4" fill="#FFC81E"/>
<rect x="86.9" y="282.9" width="10.4" height="10.4" fill="#FFB60D"/>
<rect x="97.0" y="282.9" width="10.4" height="10.4" fill="#FFE459"/>
<rect x="107.0" y="282.9" width="10.4" height="10.4" fill="#FFD248"/>
<rect x="117.0" y="282.9" width="40.6" height="10.4" fill="#FFB60D"/>
<rect x="157.2" y="282.9" width="10.4" height="10.4" fill="#FFBA12"/>
<rect x="167.3" y="282.9" width="10.4" height="10.4" fill="#FFA800"/>
<rect x="177.3" y="282.9" width="10.4" height="10.4" fill="#FF8500"/>
<rect x="187.3" y="282.9" width="10.4" height="10.4" fill="#FF9900"/>
<rect x="197.4" y="282.9" width="20.5" height="10.4" fill="#FF7D00"/>
<rect x="217.5" y="282.9" width="20.5" height="10.4" fill="#FF9100"/>
<rect x="237.6" y="282.9" width="20.5" height="10.4" fill="#FF9900"/>
<rect x="257.6" y="282.9" width="10.4" height="10.4" fill="#FFAB12"/>
<rect x="267.7" y="282.9" width="10.4" height="10.4" fill="#FFA800"/>
<rect x="277.7" y="282.9" width="10.4" height="10.4" fill="#FFBA12"/>
<rect x="287.8" y="282.9" width="10.4" height="10.4" fill="#FFA800"/>
<rect x="297.8" y="282.9" width="10.4" height="10.4" fill="#FFBC14"/>
<rect x="307.8" y="282.9" width="10.4" height="10.4" fill="#A6815C"/>
<rect x="317.9" y="282.9" width="10.4" height="10.4" fill="#4E62AC"/>
<rect x="327.9" y="282.9" width="10.4" height="10.4" fill="#FFF4A1"/>
<rect x="338.0" y="282.9" width="10.4" height="10.4" fill="#906DD5"/>
<rect x="348.0" y="282.9" width="10.4" height="10.4" fill="#FF2C00"/>
<rect x="358.1" y="282.9" width="10.4" height="10.4" fill="#EA2C00"/>
<rect x="368.1" y="282.9" width="10.4" height="10.4" fill="#F03B00"/>
<rect x="378.1" y="282.9" width="10.4" height="10.4" fill="#E63742"/>
<rect x="388.2" y="282.9" width="10.4" height="10.4" fill="#8F4359"/>
<rect x="398.2" y="282.9" width="10.4" height="10.4" fill="#E63742"/>
<rect x="408.3" y="282.9" width="10.4" height="10.4" fill="#F02600"/>
<rect x="418.3" y="282.9" width="10.4" height="10.4" fill="#DAC670"/>
<rect x="428.3" y="282.9" width="10.4" height="10.4" fill="#FFBC14"/>
<rect x="438.4" y="282.9" width="10.4" height="10.4" fill="#FFA10D"/>
<rect x="448.4" y="282.9" width="10.4" height="10.4" fill="#FFB60D"/>
<rect x="458.5" y="282.9" width="10.4" height="10.4" fill="#FFC81E"/>
<rect x="468.5" y="282.9" width="10.4" height="10.4" fill="#FFCE25"/>
<rect x="478.6" y="282.9" width="10.4" height="10.4" fill="#FF9100"/>
<rect x="488.6" y="282.9" width="10.4" height="10.4" fill="#FF6600"/>
<rect x="498.6" y="282.9" width="10.4" height="10.4" fill="#FF7D00"/>
<rect x="508.7" y="282.9" width="10.4" height="10.4" fill="#FF9100"/>
<rect x="518.7" y="282.9" width="10.4" height="10.4" fill="#FF6800"/>
<rect x="528.8" y="282.9" width="10.4" height="10.4" fill="#FF5700"/>
<rect x="538.8" y="282.9" width="10.4" height="10.4" fill="#CEB8A6"/>
<rect x="548.8" y="282.9" width="10.4" height="10.4" fill="#FF2B00"/>
<rect x="558.9" y="282.9" width="10.4" height="10.4" fill="#FF1D00"/>
<rect x="568.9" y="282.9" width="20.5" height="10.4" fill="#FF5100"/>
<rect x="589.0" y="282.9" width="10.4" height="10.4" fill="#FF8200"/>
<rect x="599.0" y="282.9" width="20.5" height="10.4" fill="#FF9900"/>
<rect x="619.1" y="282.9" width="10.4" height="10.4" fill="#E6B342"/>
<rect x="629.2" y="282.9" width="10.4" height="10.4" fill="#83A8A6"/>
<rect x="639.2" y="282.9" width="10.4" height="10.4" fill="#81CECA"/>
<rect x="649.3" y="282.9" width="10.4" height="10.4" fill="#C5D6AF"/>
<rect x="659.3" y="282.9" width="10.4" height="10.4" fill="#E6C756"/>
<rect x="669.3" y="282.9" width="10.4" height="10.4" fill="#FFCE25"/>
<rect x="679.4" y="282.9" width="10.4" height="10.4" fill="#FFC81E"/>
<rect x="689.4" y="282.9" width="10.4" height="10.4" fill="#FFB60D"/>
<rect x="699.5" y="282.9" width="10.4" height="10.4" fill="#FFC81E"/>
<rect x="709.5" y="282.9" width="30.5" height="10.4" fill="#FFB60D"/>
<rect x="739.6" y="282.9" width="20.5" height="10.4" fill="#FFA800"/>
<rect x="759.7" y="282.9" width="10.4" height="10.4" fill="#FF9900"/>
<rect x="769.8" y="282.9" width="10.4" height="10.4" fill="#FFA800"/>
<rect x="56.8" y="293.0" width="40.6" height="10.4" fill="#FFA800"/>
<rect x="97.0" y="293.0" width="20.5" height="10.4" fill="#FFBA12"/>
<rect x="117.0" y="293.0" width="10.4" height="10.4" fill="#FFB60D"/>
<rect x="127.1" y="293.0" width="10.4" height="10.4" fill="#FFC81E"/>
<rect x="137.1" y="293.0" width="10.4" height="10.4" fill="#FFB60D"/>
<rect x="147.2" y="293.0" width="10.4" height="10.4" fill="#FFD65B"/>
<rect x="157.2" y="293.0" width="10.4" height="10.4" fill="#FFE86C"/>
<rect x="167.3" y="293.0" width="10.4" height="10.4" fill="#FFF08E"/>
<rect x="177.3" y="293.0" width="10.4" height="10.4" fill="#DEC466"/>
<rect x="187.3" y="293.0" width="10.4" height="10.4" fill="#FFC81E"/>
<rect x="197.4" y="293.0" width="10.4" height="10.4" fill="#FFA412"/>
<rect x="207.4" y="293.0" width="10.4" height="10.4" fill="#FF7D00"/>
<rect x="217.5" y="293.0" width="10.4" height="10.4" fill="#FF5700"/>
<rect x="227.5" y="293.0" width="10.4" height="10.4" fill="#FF8346"/>
<rect x="237.6" y="293.0" width="20.5" height="10.4" fill="#FFB60D"/>
<rect x="257.6" y="293.0" width="20.5" height="10.4" fill="#FFAB12"/>
<rect x="277.7" y="293.0" width="10.4" height="10.4" fill="#FF9900"/>
<rect x="287.8" y="293.0" width="10.4" height="10.4" fill="#FFBC14"/>
<rect x="297.8" y="293.0" width="10.4" height="10.4" fill="#FFCE25"/>
<rect x="307.8" y="293.0" width="10.4" height="10.4" fill="#FF8F12"/>
<rect x="317.9" y="293.0" width="10.4" height="10.4" fill="#BD7F54"/>
<rect x="327.9" y="293.0" width="10.4" height="10.4" fill="#2A81EF"/>
<rect x="338.0" y="293.0" width="10.4" height="10.4" fill="#9884A6"/>
<rect x="348.0" y="293.0" width="10.4" height="10.4" fill="#98BEA6"/>
<rect x="358.1" y="293.0" width="10.4" height="10.4" fill="#2AC4FF"/>
<rect x="368.1" y="293.0" width="30.5" height="10.4" fill="#76CDFF"/>
<rect x="398.2" y="293.0" width="10.4" height="10.4" fill="#DACB75"/>
<rect x="408.3" y="293.0" width="10.4" height="10.4" fill="#B9C7BD"/>
<rect x="418.3" y="293.0" width="10.4" height="10.4" fill="#B4E0FF"/>
<rect x="428.3" y="293.0" width="10.4" height="10.4" fill="#FFC81E"/>
<rect x="438.4" y="293.0" width="10.4" height="10.4" fill="#FFB60D"/>
<rect x="448.4" y="293.0" width="10.4" height="10.4" fill="#FFA10D"/>
<rect x="458.5" y="293.0" width="10.4" height="10.4" fill="#FFBC14"/>
<rect x="468.5" y="293.0" width="10.4" height="10.4" fill="#FF8114"/>
<rect x="478.6" y="293.0" width="10.4" height="10.4" fill="#FF8500"/>
<rect x="488.6" y="293.0" width="10.4" height="10.4" fill="#FF9100"/>
<rect x="498.6" y="293.0" width="10.4" height="10.4" fill="#FF7812"/>
<rect x="508.7" y="293.0" width="10.4" height="10.4" fill="#FFC81E"/>
<rect x="518.7" y="293.0" width="10.4" height="10.4" fill="#FF7B0D"/>
<rect x="528.8" y="293.0" width="10.4" height="10.4" fill="#A6A159"/>
<rect x="538.8" y="293.0" width="10.4" height="10.4" fill="#98BEA6"/>
<rect x="548.8" y="293.0" width="30.5" height="10.4" fill="#FF6E00"/>
<rect x="579.0" y="293.0" width="10.4" height="10.4" fill="#FF7D00"/>
<rect x="589.0" y="293.0" width="10.4" height="10.4" fill="#FFB60D"/>
<rect x="599.0" y="293.0" width="20.5" height="10.4" fill="#FF9100"/>
<rect x="619.1" y="293.0" width="10.4" height="10.4" fill="#98D1B7"/>
<rect x="629.2" y="293.0" width="10.4" height="10.4" fill="#3EC6FF"/>
<rect x="639.2" y="293.0" width="10.4" height="10.4" fill="#DEC466"/>
<rect x="649.3" y="293.0" width="10.4" height="10.4" fill="#FFBC14"/>
<rect x="659.3" y="293.0" width="20.5" height="10.4" fill="#FFC81E"/>
<rect x="679.4" y="293.0" width="10.4" height="10.4" fill="#FFB60D"/>
<rect x="689.4" y="293.0" width="10.4" height="10.4" fill="#FFBC14"/>
<rect x="699.5" y="293.0" width="10.4" height="10.4" fill="#FFA10D"/>
<rect x="709.5" y="293.0" width="20.5" height="10.4" fill="#FFB60D"/>
<rect x="729.6" y="293.0" width="10.4" height="10.4" fill="#FFC81E"/>
<rect x="739.6" y="293.0" width="20.5" height="10.4" fill="#FFA800"/>
<rect x="759.7" y="293.0" width="10.4" height="10.4" fill="#FFBC14"/>
<rect x="769.8" y="293.0" width="10.4" height="10.4" fill="#FFCE25"/>
<rect x="56.8" y="303.0" width="10.4" height="10.4" fill="#FFC81E"/>
<rect x="66.8" y="303.0" width="10.4" height="10.4" fill="#FFA800"/>
<rect x="76.9" y="303.0" width="20.5" height="10.4" fill="#FF9900"/>
<rect x="97.0" y="303.0" width="20.5" height="10.4" fill="#FFA800"/>
<rect x="117.0" y="303.0" width="20.5" height="10.4" fill="#FFB60D"/>
<rect x="137.1" y="303.0" width="10.4" height="10.4" fill="#FFC81E"/>
<rect x="147.2" y="303.0" width="10.4" height="10.4" fill="#FFA412"/>
<rect x="157.2" y="303.0" width="10.4" height="10.4" fill="#FF7D00"/>
<rect x="167.3" y="303.0" width="10.4" height="10.4" fill="#FFB60D"/>
<rect x="177.3" y="303.0" width="10.4" height="10.4" fill="#FFC81E"/>
<rect x="187.3" y="303.0" width="10.4" height="10.4" fill="#FF8500"/>
<rect x="197.4" y="303.0" width="10.4" height="10.4" fill="#F02600"/>
<rect x="207.4" y="303.0" width="10.4" height="10.4" fill="#E83B00"/>
<rect x="217.5" y="303.0" width="10.4" height="10.4" fill="#C5C29C"/>
<rect x="227.5" y="303.0" width="10.4" height="10.4" fill="#CAD3BD"/>
<rect x="237.6" y="303.0" width="20.5" height="10.4" fill="#ADDBFF"/>
<rect x="257.6" y="303.0" width="10.4" height="10.4" fill="#FFA800"/>
<rect x="267.7" y="303.0" width="10.4" height="10.4" fill="#FFBA12"/>
<rect x="277.7" y="303.0" width="20.5" height="10.4" fill="#FFA800"/>
<rect x="297.8" y="303.0" width="10.4" height="10.4" fill="#E6B342"/>
<rect x="307.8" y="303.0" width="10.4" height="10.4" fill="#76CDFF"/>
<rect x="317.9" y="303.0" width="10.4" height="10.4" fill="#2AC4FF"/>
<rect x="327.9" y="303.0" width="10.4" height="10.4" fill="#62CBFF"/>
<rect x="338.0" y="303.0" width="10.4" height="10.4" fill="#B9D5CA"/>
<rect x="348.0" y="303.0" width="10.4" height="10.4" fill="#C5D6AF"/>
<rect x="358.1" y="303.0" width="10.4" height="10.4" fill="#C5C29C"/>
<rect x="368.1" y="303.0" width="10.4" height="10.4" fill="#D7CE9C"/>
<rect x="378.1" y="303.0" width="10.4" height="10.4" fill="#DACB75"/>
<rect x="388.2" y="303.0" width="10.4" height="10.4" fill="#FF9900"/>
<rect x="398.2" y="303.0" width="10.4" height="10.4" fill="#FF9100"/>
<rect x="408.3" y="303.0" width="10.4" height="10.4" fill="#FF7D00"/>
<rect x="418.3" y="303.0" width="10.4" height="10.4" fill="#C5D6AF"/>
<rect x="428.3" y="303.0" width="10.4" height="10.4" fill="#D7E2AF"/>
<rect x="438.4" y="303.0" width="10.4" height="10.4" fill="#DAD882"/>
<rect x="448.4" y="303.0" width="10.4" height="10.4" fill="#FFD248"/>
<rect x="458.5" y="303.0" width="10.4" height="10.4" fill="#FFD65B"/>
<rect x="468.5" y="303.0" width="10.4" height="10.4" fill="#FFC81E"/>
<rect x="478.6" y="303.0" width="10.4" height="10.4" fill="#FF8F12"/>
<rect x="488.6" y="303.0" width="10.4" height="10.4" fill="#FF5200"/>
<rect x="498.6" y="303.0" width="10.4" height="10.4" fill="#FF5700"/>
<rect x="508.7" y="303.0" width="10.4" height="10.4" fill="#FFA814"/>
<rect x="518.7" y="303.0" width="10.4" height="10.4" fill="#FFBC14"/>
<rect x="528.8" y="303.0" width="10.4" height="10.4" fill="#A6A159"/>
<rect x="538.8" y="303.0" width="10.4" height="10.4" fill="#62CBFF"/>
<rect x="548.8" y="303.0" width="10.4" height="10.4" fill="#FF9900"/>
<rect x="558.9" y="303.0" width="10.4" height="10.4" fill="#FF6E00"/>
<rect x="568.9" y="303.0" width="10.4" height="10.4" fill="#FF7D00"/>
<rect x="579.0" y="303.0" width="10.4" height="10.4" fill="#FFBC14"/>
<rect x="589.0" y="303.0" width="10.4" height="10.4" fill="#FFCE25"/>
<rect x="599.0" y="303.0" width="10.4" height="10.4" fill="#BDAE42"/>
<rect x="609.1" y="303.0" width="10.4" height="10.4" fill="#FFB60D"/>
<rect x="619.1" y="303.0" width="10.4" height="10.4" fill="#DECB6D"/>
<rect x="629.2" y="303.0" width="10.4" height="10.4" fill="#FFB60D"/>
<rect x="639.2" y="303.0" width="50.6" height="10.4" fill="#FFA800"/>
<rect x="689.4" y="303.0" width="40.6" height="10.4" fill="#FFC81E"/>
<rect x="729.6" y="303.0" width="10.4" height="10.4" fill="#FFB60D"/>
<rect x="739.6" y="303.0" width="10.4" height="10.4" fill="#FFBC14"/>
<rect x="749.7" y="303.0" width="10.4" height="10.4" fill="#DEE1A1"/>
<rect x="759.7" y="303.0" width="10.4" height="10.4" fill="#FFE459"/>
<rect x="769.8" y="303.0" width="10.4" height="10.4" fill="#FFF4A1"/>
<rect x="56.8" y="313.0" width="10.4" height="10.4" fill="#EFE4A7"/>
<rect x="66.8" y="313.0" width="10.4" height="10.4" fill="#FF9900"/>
<rect x="76.9" y="313.0" width="20.5" height="10.4" fill="#FF8500"/>
<rect x="97.0" y="313.0" width="20.5" height="10.4" fill="#FFA800"/>
<rect x="117.0" y="313.0" width="10.4" height="10.4" fill="#FFB60D"/>
<rect x="127.1" y="313.0" width="10.4" height="10.4" fill="#E6D967"/>
<rect x="137.1" y="313.0" width="10.4" height="10.4" fill="#FFCE25"/>
<rect x="147.2" y="313.0" width="10.4" height="10.4" fill="#DECB6D"/>
<rect x="157.2" y="313.0" width="10.4" height="10.4" fill="#FFBC14"/>
<rect x="167.3" y="313.0" width="10.4" height="10.4" fill="#FFCE25"/>
<rect x="177.3" y="313.0" width="20.5" height="10.4" fill="#FFD248"/>
<rect x="197.4" y="313.0" width="10.4" height="10.4" fill="#EA4200"/>
<rect x="207.4" y="313.0" width="10.4" height="10.4" fill="#E67842"/>
<rect x="217.5" y="313.0" width="10.4" height="10.4" fill="#ADDBFF"/>
<rect x="227.5" y="313.0" width="10.4" height="10.4" fill="#C5ECFF"/>
<rect x="237.6" y="313.0" width="10.4" height="10.4" fill="#88D9FF"/>
<rect x="247.6" y="313.0" width="10.4" height="10.4" fill="#76CDFF"/>
<rect x="257.6" y="313.0" width="10.4" height="10.4" fill="#3EC6FF"/>
<rect x="267.7" y="313.0" width="10.4" height="10.4" fill="#CCD5BD"/>
<rect x="277.7" y="313.0" width="10.4" height="10.4" fill="#DEE1BD"/>
<rect x="287.8" y="313.0" width="10.4" height="10.4" fill="#F3CE54"/>
<rect x="297.8" y="313.0" width="10.4" height="10.4" fill="#3EC6FF"/>
<rect x="307.8" y="313.0" width="10.4" height="10.4" fill="#12A0FF"/>
<rect x="317.9" y="313.0" width="10.4" height="10.4" fill="#08B2FF"/>
<rect x="327.9" y="313.0" width="10.4" height="10.4" fill="#2AC4FF"/>
<rect x="338.0" y="313.0" width="10.4" height="10.4" fill="#83CEB7"/>
<rect x="348.0" y="313.0" width="10.4" height="10.4" fill="#FFB60D"/>
<rect x="358.1" y="313.0" width="10.4" height="10.4" fill="#FFA10D"/>
<rect x="368.1" y="313.0" width="20.5" height="10.4" fill="#FFB60D"/>
<rect x="388.2" y="313.0" width="10.4" height="10.4" fill="#FFC81E"/>
<rect x="398.2" y="313.0" width="20.5" height="10.4" fill="#FFB60D"/>
<rect x="418.3" y="313.0" width="10.4" height="10.4" fill="#FFC81E"/>
<rect x="428.3" y="313.0" width="10.4" height="10.4" fill="#FFA10D"/>
<rect x="438.4" y="313.0" width="10.4" height="10.4" fill="#FFBC14"/>
<rect x="448.4" y="313.0" width="10.4" height="10.4" fill="#DEEECA"/>
<rect x="458.5" y="313.0" width="10.4" height="10.4" fill="#CCE2CA"/>
<rect x="468.5" y="313.0" width="10.4" height="10.4" fill="#FFB60D"/>
<rect x="478.6" y="313.0" width="10.4" height="10.4" fill="#E69F42"/>
<rect x="488.6" y="313.0" width="10.4" height="10.4" fill="#DAB863"/>
<rect x="498.6" y="313.0" width="10.4" height="10.4" fill="#83CEB7"/>
<rect x="508.7" y="313.0" width="10.4" height="10.4" fill="#76CDFF"/>
<rect x="518.7" y="313.0" width="10.4" height="10.4" fill="#8DCFAF"/>
<rect x="528.8" y="313.0" width="10.4" height="10.4" fill="#A6BE66"/>
<rect x="538.8" y="313.0" width="10.4" height="10.4" fill="#847B9C"/>
<rect x="548.8" y="313.0" width="10.4" height="10.4" fill="#2AC4FF"/>
<rect x="558.9" y="313.0" width="10.4" height="10.4" fill="#8384A6"/>
<rect x="568.9" y="313.0" width="10.4" height="10.4" fill="#FF7D00"/>
<rect x="579.0" y="313.0" width="10.4" height="10.4" fill="#FF9100"/>
<rect x="589.0" y="313.0" width="10.4" height="10.4" fill="#FFAB12"/>
<rect x="599.0" y="313.0" width="10.4" height="10.4" fill="#FFCE25"/>
<rect x="609.1" y="313.0" width="10.4" height="10.4" fill="#FFBC14"/>
<rect x="619.1" y="313.0" width="10.4" height="10.4" fill="#D7E2AF"/>
<rect x="629.2" y="313.0" width="10.4" height="10.4" fill="#E6C756"/>
<rect x="639.2" y="313.0" width="30.5" height="10.4" fill="#FFB60D"/>
<rect x="669.3" y="313.0" width="10.4" height="10.4" fill="#FFC81E"/>
<rect x="679.4" y="313.0" width="10.4" height="10.4" fill="#FFB60D"/>
<rect x="689.4" y="313.0" width="10.4" height="10.4" fill="#FFC81E"/>
<rect x="699.5" y="313.0" width="10.4" height="10.4" fill="#FFCE25"/>
<rect x="709.5" y="313.0" width="10.4" height="10.4" fill="#FFA814"/>
<rect x="719.5" y="313.0" width="10.4" height="10.4" fill="#FFCE25"/>
<rect x="729.6" y="313.0" width="10.4" height="10.4" fill="#DECB6D"/>
<rect x="739.6" y="313.0" width="10.4" height="10.4" fill="#FFCE25"/>
<rect x="749.7" y="313.0" width="10.4" height="10.4" fill="#FFE459"/>
<rect x="759.7" y="313.0" width="10.4" height="10.4" fill="#FFE86C"/>
<rect x="769.8" y="313.0" width="10.4" height="10.4" fill="#FFF08E"/>
<rect x="56.8" y="323.1" width="10.4" height="10.4" fill="#FFBA12"/>
<rect x="66.8" y="323.1" width="50.6" height="10.4" fill="#FFA800"/>
<rect x="117.0" y="323.1" width="10.4" height="10.4" fill="#FFC81E"/>
<rect x="127.1" y="323.1" width="10.4" height="10.4" fill="#E6B356"/>
<rect x="137.1" y="323.1" width="10.4" height="10.4" fill="#CEDFB7"/>
<rect x="147.2" y="323.1" width="10.4" height="10.4" fill="#ADDBFF"/>
<rect x="157.2" y="323.1" width="20.5" height="10.4" fill="#DEE1A1"/>
<rect x="177.3" y="323.1" width="10.4" height="10.4" fill="#FFD248"/>
<rect x="187.3" y="323.1" width="20.5" height="10.4" fill="#DAD882"/>
<rect x="207.4" y="323.1" width="10.4" height="10.4" fill="#C5D6AF"/>
<rect x="217.5" y="323.1" width="10.4" height="10.4" fill="#EDF9DD"/>
<rect x="227.5" y="323.1" width="10.4" height="10.4" fill="#C5ECFF"/>
<rect x="237.6" y="323.1" width="10.4" height="10.4" fill="#BEE7FF"/>
<rect x="247.6" y="323.1" width="10.4" height="10.4" fill="#ADDBFF"/>
<rect x="257.6" y="323.1" width="10.4" height="10.4" fill="#75D4FF"/>
<rect x="267.7" y="323.1" width="10.4" height="10.4" fill="#76CDFF"/>
<rect x="277.7" y="323.1" width="20.5" height="10.4" fill="#3EC6FF"/>
<rect x="297.8" y="323.1" width="10.4" height="10.4" fill="#7CD9FF"/>
<rect x="307.8" y="323.1" width="10.4" height="10.4" fill="#81CECA"/>
<rect x="317.9" y="323.1" width="10.4" height="10.4" fill="#E6D967"/>
<rect x="327.9" y="323.1" width="20.5" height="10.4" fill="#FFBC14"/>
<rect x="348.0" y="323.1" width="20.5" height="10.4" fill="#FFB60D"/>
<rect x="368.1" y="323.1" width="10.4" height="10.4" fill="#FFC81E"/>
<rect x="378.1" y="323.1" width="20.5" height="10.4" fill="#FFB60D"/>
<rect x="398.2" y="323.1" width="10.4" height="10.4" fill="#FFCE25"/>
<rect x="408.3" y="323.1" width="10.4" height="10.4" fill="#FFB60D"/>
<rect x="418.3" y="323.1" width="10.4" height="10.4" fill="#FFA814"/>
<rect x="428.3" y="323.1" width="10.4" height="10.4" fill="#FFBC14"/>
<rect x="438.4" y="323.1" width="20.5" height="10.4" fill="#EDE682"/>
<rect x="458.5" y="323.1" width="10.4" height="10.4" fill="#D5E3B7"/>
<rect x="468.5" y="323.1" width="10.4" height="10.4" fill="#98DCEC"/>
<rect x="478.6" y="323.1" width="10.4" height="10.4" fill="#73D7FF"/>
<rect x="488.6" y="323.1" width="10.4" height="10.4" fill="#2AC4FF"/>
<rect x="498.6" y="323.1" width="10.4" height="10.4" fill="#8DCFAF"/>
<rect x="508.7" y="323.1" width="10.4" height="10.4" fill="#81CECA"/>
<rect x="518.7" y="323.1" width="10.4" height="10.4" fill="#FFB60D"/>
<rect x="528.8" y="323.1" width="10.4" height="10.4" fill="#FF6800"/>
<rect x="538.8" y="323.1" width="10.4" height="10.4" fill="#FF5200"/>
<rect x="548.8" y="323.1" width="10.4" height="10.4" fill="#FF9100"/>
<rect x="558.9" y="323.1" width="10.4" height="10.4" fill="#3EC6FF"/>
<rect x="568.9" y="323.1" width="10.4" height="10.4" fill="#62CBFF"/>
<rect x="579.0" y="323.1" width="10.4" height="10.4" fill="#98BEA6"/>
<rect x="589.0" y="323.1" width="10.4" height="10.4" fill="#CECCA6"/>
<rect x="599.0" y="323.1" width="20.5" height="10.4" fill="#F3E267"/>
<rect x="619.1" y="323.1" width="10.4" height="10.4" fill="#F3EE9C"/>
<rect x="629.2" y="323.1" width="10.4" height="10.4" fill="#FFF08E"/>
<rect x="639.2" y="323.1" width="20.5" height="10.4" fill="#F3EFA2"/>
<rect x="659.3" y="323.1" width="10.4" height="10.4" fill="#DEF7F1"/>
<rect x="669.3" y="323.1" width="10.4" height="10.4" fill="#F3EFA2"/>
<rect x="679.4" y="323.1" width="10.4" height="10.4" fill="#E6D967"/>
<rect x="689.4" y="323.1" width="10.4" height="10.4" fill="#D7E2AF"/>
<rect x="699.5" y="323.1" width="20.5" height="10.4" fill="#E6D967"/>
<rect x="719.5" y="323.1" width="10.4" height="10.4" fill="#E6C756"/>
<rect x="729.6" y="323.1" width="10.4" height="10.4" fill="#3EC6FF"/>
<rect x="739.6" y="323.1" width="10.4" height="10.4" fill="#62CBFF"/>
<rect x="749.7" y="323.1" width="10.4" height="10.4" fill="#F04D12"/>
<rect x="759.7" y="323.1" width="10.4" height="10.4" fill="#E80000"/>
<rect x="769.8" y="323.1" width="10.4" height="10.4" fill="#FF2C00"/>
<rect x="56.8" y="333.1" width="30.5" height="10.4" fill="#E63742"/>
<rect x="86.9" y="333.1" width="10.4" height="10.4" fill="#FF2C00"/>
<rect x="97.0" y="333.1" width="10.4" height="10.4" fill="#FF6800"/>
<rect x="107.0" y="333.1" width="10.4" height="10.4" fill="#FF8500"/>
<rect x="117.0" y="333.1" width="10.4" height="10.4" fill="#E69F42"/>
<rect x="127.1" y="333.1" width="10.4" height="10.4" fill="#DAA463"/>
<rect x="137.1" y="333.1" width="10.4" height="10.4" fill="#DAC670"/>
<rect x="147.2" y="333.1" width="20.5" height="10.4" fill="#B4E0FF"/>
<rect x="167.3" y="333.1" width="20.5" height="10.4" fill="#C5ECFF"/>
<rect x="187.3" y="333.1" width="20.5" height="10.4" fill="#ADDBFF"/>
<rect x="207.4" y="333.1" width="10.4" height="10.4" fill="#75D4FF"/>
<rect x="217.5" y="333.1" width="10.4" height="10.4" fill="#F3FAD6"/>
<rect x="227.5" y="333.1" width="10.4" height="10.4" fill="#E4F8EA"/>
<rect x="237.6" y="333.1" width="10.4" height="10.4" fill="#C5ECFF"/>
<rect x="247.6" y="333.1" width="20.5" height="10.4" fill="#B4E0FF"/>
<rect x="267.7" y="333.1" width="30.5" height="10.4" fill="#ADDBFF"/>
<rect x="297.8" y="333.1" width="10.4" height="10.4" fill="#76CDFF"/>
<rect x="307.8" y="333.1" width="10.4" height="10.4" fill="#FFCE25"/>
<rect x="317.9" y="333.1" width="20.5" height="10.4" fill="#FFBC14"/>
<rect x="338.0" y="333.1" width="20.5" height="10.4" fill="#FFC81E"/>
<rect x="358.1" y="333.1" width="20.5" height="10.4" fill="#FFB60D"/>
<rect x="378.1" y="333.1" width="10.4" height="10.4" fill="#FFBC14"/>
<rect x="388.2" y="333.1" width="10.4" height="10.4" fill="#FFB60D"/>
<rect x="398.2" y="333.1" width="10.4" height="10.4" fill="#EFD066"/>
<rect x="408.3" y="333.1" width="10.4" height="10.4" fill="#FFCE25"/>
<rect x="418.3" y="333.1" width="20.5" height="10.4" fill="#F3E267"/>
<rect x="438.4" y="333.1" width="10.4" height="10.4" fill="#C5ECFF"/>
<rect x="448.4" y="333.1" width="20.5" height="10.4" fill="#ADDBFF"/>
<rect x="468.5" y="333.1" width="10.4" height="10.4" fill="#C5ECFF"/>
<rect x="478.6" y="333.1" width="10.4" height="10.4" fill="#76CDFF"/>
<rect x="488.6" y="333.1" width="10.4" height="10.4" fill="#2AC4FF"/>
<rect x="498.6" y="333.1" width="10.4" height="10.4" fill="#3EC6FF"/>
<rect x="508.7" y="333.1" width="10.4" height="10.4" fill="#EFD76D"/>
<rect x="518.7" y="333.1" width="10.4" height="10.4" fill="#DEC466"/>
<rect x="528.8" y="333.1" width="10.4" height="10.4" fill="#EFD066"/>
<rect x="538.8" y="333.1" width="10.4" height="10.4" fill="#DECB6D"/>
<rect x="548.8" y="333.1" width="10.4" height="10.4" fill="#FFC81E"/>
<rect x="558.9" y="333.1" width="10.4" height="10.4" fill="#B4E0FF"/>
<rect x="568.9" y="333.1" width="10.4" height="10.4" fill="#BEE7FF"/>
<rect x="579.0" y="333.1" width="10.4" height="10.4" fill="#D5E3B7"/>
<rect x="589.0" y="333.1" width="10.4" height="10.4" fill="#CEDFB7"/>
<rect x="599.0" y="333.1" width="10.4" height="10.4" fill="#D5EEEC"/>
<rect x="609.1" y="333.1" width="20.5" height="10.4" fill="#C5ECFF"/>
<rect x="629.2" y="333.1" width="10.4" height="10.4" fill="#B4E0FF"/>
<rect x="639.2" y="333.1" width="10.4" height="10.4" fill="#C5ECFF"/>
<rect x="649.3" y="333.1" width="10.4" height="10.4" fill="#B4E0FF"/>
<rect x="659.3" y="333.1" width="10.4" height="10.4" fill="#C5ECFF"/>
<rect x="669.3" y="333.1" width="10.4" height="10.4" fill="#62CBFF"/>
<rect x="679.4" y="333.1" width="10.4" height="10.4" fill="#08B2FF"/>
<rect x="689.4" y="333.1" width="10.4" height="10.4" fill="#0CABFF"/>
<rect x="699.5" y="333.1" width="10.4" height="10.4" fill="#FF2B00"/>
<rect x="709.5" y="333.1" width="10.4" height="10.4" fill="#FF4300"/>
<rect x="719.5" y="333.1" width="10.4" height="10.4" fill="#98BEA6"/>
<rect x="729.6" y="333.1" width="10.4" height="10.4" fill="#2AC4FF"/>
<rect x="739.6" y="333.1" width="10.4" height="10.4" fill="#3EC6FF"/>
<rect x="749.7" y="333.1" width="10.4" height="10.4" fill="#98D1B7"/>
<rect x="759.7" y="333.1" width="10.4" height="10.4" fill="#49B5FF"/>
<rect x="769.8" y="333.1" width="10.4" height="10.4" fill="#ADDBFF"/>
<rect x="56.8" y="343.2" width="50.6" height="10.4" fill="#ADDBFF"/>
<rect x="107.0" y="343.2" width="10.4" height="10.4" fill="#C5ECFF"/>
<rect x="117.0" y="343.2" width="10.4" height="10.4" fill="#BEE7FF"/>
<rect x="127.1" y="343.2" width="10.4" height="10.4" fill="#76CDFF"/>
<rect x="137.1" y="343.2" width="10.4" height="10.4" fill="#62CBFF"/>
<rect x="147.2" y="343.2" width="10.4" height="10.4" fill="#2AC4FF"/>
<rect x="157.2" y="343.2" width="10.4" height="10.4" fill="#94E4F1"/>
<rect x="167.3" y="343.2" width="10.4" height="10.4" fill="#D2EBEA"/>
<rect x="177.3" y="343.2" width="10.4" height="10.4" fill="#EDF9DD"/>
<rect x="187.3" y="343.2" width="20.5" height="10.4" fill="#C5ECFF"/>
<rect x="207.4" y="343.2" width="10.4" height="10.4" fill="#B4E0FF"/>
<rect x="217.5" y="343.2" width="20.5" height="10.4" fill="#F3FAD6"/>
<rect x="237.6" y="343.2" width="20.5" height="10.4" fill="#BEE7FF"/>
<rect x="257.6" y="343.2" width="20.5" height="10.4" fill="#ADDBFF"/>
<rect x="277.7" y="343.2" width="10.4" height="10.4" fill="#CCEBF1"/>
<rect x="287.8" y="343.2" width="10.4" height="10.4" fill="#DEF7F1"/>
<rect x="297.8" y="343.2" width="10.4" height="10.4" fill="#B4E0FF"/>
<rect x="307.8" y="343.2" width="30.5" height="10.4" fill="#FFE459"/>
<rect x="338.0" y="343.2" width="10.4" height="10.4" fill="#FFF08E"/>
<rect x="348.0" y="343.2" width="20.5" height="10.4" fill="#FFE459"/>
<rect x="368.1" y="343.2" width="20.5" height="10.4" fill="#F3E267"/>
<rect x="388.2" y="343.2" width="10.4" height="10.4" fill="#FFE459"/>
<rect x="398.2" y="343.2" width="20.5" height="10.4" fill="#F3E267"/>
<rect x="418.3" y="343.2" width="10.4" height="10.4" fill="#EDEEA9"/>
<rect x="428.3" y="343.2" width="20.5" height="10.4" fill="#CCEBF1"/>
<rect x="448.4" y="343.2" width="10.4" height="10.4" fill="#B4E0FF"/>
<rect x="458.5" y="343.2" width="30.5" height="10.4" fill="#ADDBFF"/>
<rect x="488.6" y="343.2" width="10.4" height="10.4" fill="#BEE7FF"/>
<rect x="498.6" y="343.2" width="10.4" height="10.4" fill="#C5ECFF"/>
<rect x="508.7" y="343.2" width="20.5" height="10.4" fill="#ADDBFF"/>
<rect x="528.8" y="343.2" width="10.4" height="10.4" fill="#C5ECFF"/>
<rect x="538.8" y="343.2" width="10.4" height="10.4" fill="#BEE7FF"/>
<rect x="548.8" y="343.2" width="10.4" height="10.4" fill="#B4E0FF"/>
<rect x="558.9" y="343.2" width="10.4" height="10.4" fill="#ADDBFF"/>
<rect x="568.9" y="343.2" width="10.4" height="10.4" fill="#C5ECFF"/>
<rect x="579.0" y="343.2" width="10.4" height="10.4" fill="#B4E0FF"/>
<rect x="589.0" y="343.2" width="10.4" height="10.4" fill="#75D4FF"/>
<rect x="599.0" y="343.2" width="10.4" height="10.4" fill="#73D7FF"/>
<rect x="609.1" y="343.2" width="10.4" height="10.4" fill="#88D9FF"/>
<rect x="619.1" y="343.2" width="10.4" height="10.4" fill="#ADDBFF"/>
<rect x="629.2" y="343.2" width="10.4" height="10.4" fill="#BEE7FF"/>
<rect x="639.2" y="343.2" width="10.4" height="10.4" fill="#ADDBFF"/>
<rect x="649.3" y="343.2" width="20.5" height="10.4" fill="#B4E0FF"/>
<rect x="669.3" y="343.2" width="10.4" height="10.4" fill="#D5D1A6"/>
<rect x="679.4" y="343.2" width="10.4" height="10.4" fill="#EFD066"/>
<rect x="689.4" y="343.2" width="20.5" height="10.4" fill="#DECB6D"/>
<rect x="709.5" y="343.2" width="10.4" height="10.4" fill="#CECCA6"/>
<rect x="719.5" y="343.2" width="10.4" height="10.4" fill="#ADDBFF"/>
<rect x="729.6" y="343.2" width="10.4" height="10.4" fill="#75D4FF"/>
<rect x="739.6" y="343.2" width="10.4" height="10.4" fill="#ADDBFF"/>
<rect x="749.7" y="343.2" width="10.4" height="10.4" fill="#C5ECFF"/>
<rect x="759.7" y="343.2" width="10.4" height="10.4" fill="#ADDBFF"/>
<rect x="769.8" y="343.2" width="10.4" height="10.4" fill="#C5ECFF"/>
<rect x="56.8" y="353.2" width="20.5" height="10.4" fill="#C5ECFF"/>
<rect x="76.9" y="353.2" width="10.4" height="10.4" fill="#BEE7FF"/>
<rect x="86.9" y="353.2" width="30.5" height="10.4" fill="#ADDBFF"/>
<rect x="117.0" y="353.2" width="10.4" height="10.4" fill="#C5ECFF"/>
<rect x="127.1" y="353.2" width="10.4" height="10.4" fill="#76CDFF"/>
<rect x="137.1" y="353.2" width="10.4" height="10.4" fill="#62CBFF"/>
<rect x="147.2" y="353.2" width="10.4" height="10.4" fill="#ADDBFF"/>
<rect x="157.2" y="353.2" width="10.4" height="10.4" fill="#F3EFA2"/>
<rect x="167.3" y="353.2" width="10.4" height="10.4" fill="#E4F8EA"/>
<rect x="177.3" y="353.2" width="50.6" height="10.4" fill="#F3FAD6"/>
<rect x="227.5" y="353.2" width="10.4" height="10.4" fill="#E4F8EA"/>
<rect x="237.6" y="353.2" width="10.4" height="10.4" fill="#D7EFEA"/>
<rect x="247.6" y="353.2" width="10.4" height="10.4" fill="#E6F1D6"/>
<rect x="257.6" y="353.2" width="10.4" height="10.4" fill="#D2EBEA"/>
<rect x="267.7" y="353.2" width="20.5" height="10.4" fill="#B4E0FF"/>
<rect x="287.8" y="353.2" width="10.4" height="10.4" fill="#C5ECFF"/>
<rect x="297.8" y="353.2" width="10.4" height="10.4" fill="#E4F8EA"/>
<rect x="307.8" y="353.2" width="40.6" height="10.4" fill="#F3FAD6"/>
<rect x="348.0" y="353.2" width="20.5" height="10.4" fill="#F3EFA2"/>
<rect x="368.1" y="353.2" width="10.4" height="10.4" fill="#EDEEA9"/>
<rect x="378.1" y="353.2" width="10.4" height="10.4" fill="#D5E3B7"/>
<rect x="388.2" y="353.2" width="10.4" height="10.4" fill="#ADDBFF"/>
<rect x="398.2" y="353.2" width="10.4" height="10.4" fill="#BEE7FF"/>
<rect x="408.3" y="353.2" width="10.4" height="10.4" fill="#ADDBFF"/>
<rect x="418.3" y="353.2" width="50.6" height="10.4" fill="#2AC4FF"/>
<rect x="468.5" y="353.2" width="30.5" height="10.4" fill="#08B2FF"/>
<rect x="498.6" y="353.2" width="10.4" height="10.4" fill="#0CABFF"/>
<rect x="508.7" y="353.2" width="20.5" height="10.4" fill="#1699FF"/>
<rect x="528.8" y="353.2" width="20.5" height="10.4" fill="#08B2FF"/>
<rect x="548.8" y="353.2" width="30.5" height="10.4" fill="#2AC4FF"/>
<rect x="579.0" y="353.2" width="20.5" height="10.4" fill="#62CBFF"/>
<rect x="599.0" y="353.2" width="10.4" height="10.4" fill="#98BEA6"/>
<rect x="609.1" y="353.2" width="10.4" height="10.4" fill="#98D1B7"/>
<rect x="619.1" y="353.2" width="10.4" height="10.4" fill="#BEE7FF"/>
<rect x="629.2" y="353.2" width="20.5" height="10.4" fill="#ADDBFF"/>
<rect x="649.3" y="353.2" width="10.4" height="10.4" fill="#BEE7FF"/>
<rect x="659.3" y="353.2" width="10.4" height="10.4" fill="#B4E0FF"/>
<rect x="669.3" y="353.2" width="10.4" height="10.4" fill="#C5ECFF"/>
<rect x="679.4" y="353.2" width="10.4" height="10.4" fill="#D5EEEC"/>
<rect x="689.4" y="353.2" width="10.4" height="10.4" fill="#BEE7FF"/>
<rect x="699.5" y="353.2" width="10.4" height="10.4" fill="#C5ECFF"/>
<rect x="709.5" y="353.2" width="10.4" height="10.4" fill="#B4E0FF"/>
<rect x="719.5" y="353.2" width="10.4" height="10.4" fill="#BEE7FF"/>
<rect x="729.6" y="353.2" width="20.5" height="10.4" fill="#C5ECFF"/>
<rect x="749.7" y="353.2" width="10.4" height="10.4" fill="#BEE7FF"/>
<rect x="759.7" y="353.2" width="20.5" height="10.4" fill="#B4E0FF"/>
<rect x="56.8" y="363.2" width="10.4" height="10.4" fill="#EFD76D"/>
<rect x="66.8" y="363.2" width="10.4" height="10.4" fill="#F3E267"/>
<rect x="76.9" y="363.2" width="10.4" height="10.4" fill="#C5ECFF"/>
<rect x="86.9" y="363.2" width="10.4" height="10.4" fill="#BEE7FF"/>
<rect x="97.0" y="363.2" width="10.4" height="10.4" fill="#EDE682"/>
<rect x="107.0" y="363.2" width="10.4" height="10.4" fill="#C5ECFF"/>
<rect x="117.0" y="363.2" width="10.4" height="10.4" fill="#D5E3B7"/>
<rect x="127.1" y="363.2" width="10.4" height="10.4" fill="#DEEECA"/>
<rect x="137.1" y="363.2" width="10.4" height="10.4" fill="#DEF7F1"/>
<rect x="147.2" y="363.2" width="10.4" height="10.4" fill="#C5ECFF"/>
<rect x="157.2" y="363.2" width="10.4" height="10.4" fill="#DEF7F1"/>
<rect x="167.3" y="363.2" width="10.4" height="10.4" fill="#E4F8EA"/>
<rect x="177.3" y="363.2" width="10.4" height="10.4" fill="#EDF9DD"/>
<rect x="187.3" y="363.2" width="10.4" height="10.4" fill="#DEF7F1"/>
<rect x="197.4" y="363.2" width="10.4" height="10.4" fill="#E4F8EA"/>
<rect x="207.4" y="363.2" width="10.4" height="10.4" fill="#CCEBF1"/>
<rect x="217.5" y="363.2" width="10.4" height="10.4" fill="#E4F8EA"/>
<rect x="227.5" y="363.2" width="10.4" height="10.4" fill="#EDF9DD"/>
<rect x="237.6" y="363.2" width="10.4" height="10.4" fill="#DEF7F1"/>
<rect x="247.6" y="363.2" width="10.4" height="10.4" fill="#D5EEEC"/>
<rect x="257.6" y="363.2" width="10.4" height="10.4" fill="#EDF9DD"/>
<rect x="267.7" y="363.2" width="10.4" height="10.4" fill="#DEEECA"/>
<rect x="277.7" y="363.2" width="10.4" height="10.4" fill="#DEE1A1"/>
<rect x="287.8" y="363.2" width="10.4" height="10.4" fill="#EFEDA1"/>
<rect x="297.8" y="363.2" width="10.4" height="10.4" fill="#F3FAD6"/>
<rect x="307.8" y="363.2" width="10.4" height="10.4" fill="#EDF9DD"/>
<rect x="317.9" y="363.2" width="20.5" height="10.4" fill="#F3FAD6"/>
<rect x="338.0" y="363.2" width="10.4" height="10.4" fill="#E4F8EA"/>
<rect x="348.0" y="363.2" width="20.5" height="10.4" fill="#FFCE25"/>
<rect x="368.1" y="363.2" width="10.4" height="10.4" fill="#FFF08E"/>
<rect x="378.1" y="363.2" width="10.4" height="10.4" fill="#C5ECFF"/>
<rect x="388.2" y="363.2" width="10.4" height="10.4" fill="#BEE7FF"/>
<rect x="398.2" y="363.2" width="10.4" height="10.4" fill="#76CDFF"/>
<rect x="408.3" y="363.2" width="10.4" height="10.4" fill="#75D4FF"/>
<rect x="418.3" y="363.2" width="30.5" height="10.4" fill="#2AC4FF"/>
<rect x="448.4" y="363.2" width="10.4" height="10.4" fill="#08B2FF"/>
<rect x="458.5" y="363.2" width="10.4" height="10.4" fill="#1699FF"/>
<rect x="468.5" y="363.2" width="10.4" height="10.4" fill="#2C7EF3"/>
<rect x="478.6" y="363.2" width="40.6" height="10.4" fill="#3872E9"/>
<rect x="518.7" y="363.2" width="10.4" height="10.4" fill="#2783F7"/>
<rect x="528.8" y="363.2" width="10.4" height="10.4" fill="#1699FF"/>
<rect x="538.8" y="363.2" width="10.4" height="10.4" fill="#12A0FF"/>
<rect x="548.8" y="363.2" width="20.5" height="10.4" fill="#08B2FF"/>
<rect x="568.9" y="363.2" width="20.5" height="10.4" fill="#2AC4FF"/>
<rect x="589.0" y="363.2" width="10.4" height="10.4" fill="#08B2FF"/>
<rect x="599.0" y="363.2" width="10.4" height="10.4" fill="#FF9900"/>
<rect x="609.1" y="363.2" width="10.4" height="10.4" fill="#E68842"/>
<rect x="619.1" y="363.2" width="30.5" height="10.4" fill="#ADDBFF"/>
<rect x="649.3" y="363.2" width="10.4" height="10.4" fill="#62CBFF"/>
<rect x="659.3" y="363.2" width="10.4" height="10.4" fill="#2AC4FF"/>
<rect x="669.3" y="363.2" width="10.4" height="10.4" fill="#C5ECFF"/>
<rect x="679.4" y="363.2" width="10.4" height="10.4" fill="#DEF7F1"/>
<rect x="689.4" y="363.2" width="10.4" height="10.4" fill="#C5ECFF"/>
<rect x="699.5" y="363.2" width="10.4" height="10.4" fill="#DEF7F1"/>
<rect x="709.5" y="363.2" width="10.4" height="10.4" fill="#C5ECFF"/>
<rect x="719.5" y="363.2" width="10.4" height="10.4" fill="#ADDBFF"/>
<rect x="729.6" y="363.2" width="10.4" height="10.4" fill="#B4E0FF"/>
<rect x="739.6" y="363.2" width="10.4" height="10.4" fill="#C5ECFF"/>
<rect x="749.7" y="363.2" width="10.4" height="10.4" fill="#BEE7FF"/>
<rect x="759.7" y="363.2" width="10.4" height="10.4" fill="#EDF9DD"/>
<rect x="769.8" y="363.2" width="10.4" height="10.4" fill="#C5ECFF"/>
<rect x="56.8" y="373.3" width="10.4" height="10.4" fill="#E6B342"/>
<rect x="66.8" y="373.3" width="10.4" height="10.4" fill="#B9C7BD"/>
<rect x="76.9" y="373.3" width="20.5" height="10.4" fill="#ADDBFF"/>
<rect x="97.0" y="373.3" width="10.4" height="10.4" fill="#C5ECFF"/>
<rect x="107.0" y="373.3" width="10.4" height="10.4" fill="#BEE7FF"/>
<rect x="117.0" y="373.3" width="10.4" height="10.4" fill="#C5ECFF"/>
<rect x="127.1" y="373.3" width="10.4" height="10.4" fill="#ADDBFF"/>
<rect x="137.1" y="373.3" width="10.4" height="10.4" fill="#C5ECFF"/>
<rect x="147.2" y="373.3" width="10.4" height="10.4" fill="#B4E0FF"/>
<rect x="157.2" y="373.3" width="10.4" height="10.4" fill="#BEE7FF"/>
<rect x="167.3" y="373.3" width="10.4" height="10.4" fill="#ADDBFF"/>
<rect x="177.3" y="373.3" width="10.4" height="10.4" fill="#B4E0FF"/>
<rect x="187.3" y="373.3" width="10.4" height="10.4" fill="#D5E3B7"/>
<rect x="197.4" y="373.3" width="10.4" height="10.4" fill="#FFE459"/>
<rect x="207.4" y="373.3" width="10.4" height="10.4" fill="#FFCE25"/>
<rect x="217.5" y="373.3" width="10.4" height="10.4" fill="#FFE459"/>
<rect x="227.5" y="373.3" width="10.4" height="10.4" fill="#FFDA5A"/>
<rect x="237.6" y="373.3" width="10.4" height="10.4" fill="#DEF7F1"/>
<rect x="247.6" y="373.3" width="20.5" height="10.4" fill="#EDF9DD"/>
<rect x="267.7" y="373.3" width="20.5" height="10.4" fill="#E4F8EA"/>
<rect x="287.8" y="373.3" width="20.5" height="10.4" fill="#F3FAD6"/>
<rect x="307.8" y="373.3" width="10.4" height="10.4" fill="#EDF9DD"/>
<rect x="317.9" y="373.3" width="10.4" height="10.4" fill="#F3FAD6"/>
<rect x="327.9" y="373.3" width="20.5" height="10.4" fill="#E4F8EA"/>
<rect x="348.0" y="373.3" width="10.4" height="10.4" fill="#FFC81E"/>
<rect x="358.1" y="373.3" width="10.4" height="10.4" fill="#FFCE25"/>
<rect x="368.1" y="373.3" width="20.5" height="10.4" fill="#F3FAD6"/>
<rect x="388.2" y="373.3" width="20.5" height="10.4" fill="#DEF7F1"/>
<rect x="408.3" y="373.3" width="10.4" height="10.4" fill="#E4F8EA"/>
<rect x="418.3" y="373.3" width="20.5" height="10.4" fill="#ADDBFF"/>
<rect x="438.4" y="373.3" width="10.4" height="10.4" fill="#C5ECFF"/>
<rect x="448.4" y="373.3" width="10.4" height="10.4" fill="#2AC4FF"/>
<rect x="458.5" y="373.3" width="40.6" height="10.4" fill="#73D7FF"/>
<rect x="498.6" y="373.3" width="20.5" height="10.4" fill="#2AC4FF"/>
<rect x="518.7" y="373.3" width="10.4" height="10.4" fill="#83CEB7"/>
<rect x="528.8" y="373.3" width="10.4" height="10.4" fill="#83BCA6"/>
<rect x="538.8" y="373.3" width="20.5" height="10.4" fill="#62CBFF"/>
<rect x="558.9" y="373.3" width="10.4" height="10.4" fill="#98D1B7"/>
<rect x="568.9" y="373.3" width="10.4" height="10.4" fill="#76CDFF"/>
<rect x="579.0" y="373.3" width="10.4" height="10.4" fill="#62CBFF"/>
<rect x="589.0" y="373.3" width="10.4" height="10.4" fill="#3EC6FF"/>
<rect x="599.0" y="373.3" width="10.4" height="10.4" fill="#FFC81E"/>
<rect x="609.1" y="373.3" width="10.4" height="10.4" fill="#2AC4FF"/>
<rect x="619.1" y="373.3" width="10.4" height="10.4" fill="#49B5FF"/>
<rect x="629.2" y="373.3" width="40.6" height="10.4" fill="#ADDBFF"/>
<rect x="669.3" y="373.3" width="10.4" height="10.4" fill="#C5ECFF"/>
<rect x="679.4" y="373.3" width="10.4" height="10.4" fill="#DAE0A9"/>
<rect x="689.4" y="373.3" width="10.4" height="10.4" fill="#63CAAF"/>
<rect x="699.5" y="373.3" width="10.4" height="10.4" fill="#2AC4FF"/>
<rect x="709.5" y="373.3" width="10.4" height="10.4" fill="#BEE7FF"/>
<rect x="719.5" y="373.3" width="10.4" height="10.4" fill="#D5D1A6"/>
<rect x="729.6" y="373.3" width="10.4" height="10.4" fill="#CEDFB7"/>
<rect x="739.6" y="373.3" width="10.4" height="10.4" fill="#2AC4FF"/>
<rect x="749.7" y="373.3" width="20.5" height="10.4" fill="#76CDFF"/>
<rect x="769.8" y="373.3" width="10.4" height="10.4" fill="#BEE7FF"/>
<rect x="56.8" y="383.3" width="10.4" height="10.4" fill="#FFA10D"/>
<rect x="66.8" y="383.3" width="10.4" height="10.4" fill="#FFB60D"/>
<rect x="76.9" y="383.3" width="10.4" height="10.4" fill="#B9D5CA"/>
<rect x="86.9" y="383.3" width="10.4" height="10.4" fill="#ADDBFF"/>
<rect x="97.0" y="383.3" width="10.4" height="10.4" fill="#CAE1CA"/>
<rect x="107.0" y="383.3" width="10.4" height="10.4" fill="#E6D967"/>
<rect x="117.0" y="383.3" width="10.4" height="10.4" fill="#DAD882"/>
<rect x="127.1" y="383.3" width="10.4" height="10.4" fill="#E4EBAF"/>
<rect x="137.1" y="383.3" width="10.4" height="10.4" fill="#D5E3B7"/>
<rect x="147.2" y="383.3" width="10.4" height="10.4" fill="#98D1B7"/>
<rect x="157.2" y="383.3" width="10.4" height="10.4" fill="#88D9FF"/>
<rect x="167.3" y="383.3" width="10.4" height="10.4" fill="#73D7FF"/>
<rect x="177.3" y="383.3" width="10.4" height="10.4" fill="#76CDFF"/>
<rect x="187.3" y="383.3" width="10.4" height="10.4" fill="#ADDBFF"/>
<rect x="197.4" y="383.3" width="10.4" height="10.4" fill="#CAE1CA"/>
<rect x="207.4" y="383.3" width="10.4" height="10.4" fill="#E6D967"/>
<rect x="217.5" y="383.3" width="10.4" height="10.4" fill="#FFCE25"/>
<rect x="227.5" y="383.3" width="10.4" height="10.4" fill="#FFB60D"/>
<rect x="237.6" y="383.3" width="10.4" height="10.4" fill="#FF9900"/>
<rect x="247.6" y="383.3" width="10.4" height="10.4" fill="#FFA412"/>
<rect x="257.6" y="383.3" width="10.4" height="10.4" fill="#E4D79C"/>
<rect x="267.7" y="383.3" width="10.4" height="10.4" fill="#ADDBFF"/>
<rect x="277.7" y="383.3" width="10.4" height="10.4" fill="#C5ECFF"/>
<rect x="287.8" y="383.3" width="10.4" height="10.4" fill="#BEE7FF"/>
<rect x="297.8" y="383.3" width="10.4" height="10.4" fill="#73D7FF"/>
<rect x="307.8" y="383.3" width="10.4" height="10.4" fill="#2AC4FF"/>
<rect x="317.9" y="383.3" width="20.5" height="10.4" fill="#3EC6FF"/>
<rect x="338.0" y="383.3" width="10.4" height="10.4" fill="#2AC4FF"/>
<rect x="348.0" y="383.3" width="10.4" height="10.4" fill="#FFBC14"/>
<rect x="358.1" y="383.3" width="20.5" height="10.4" fill="#FFE459"/>
<rect x="378.1" y="383.3" width="10.4" height="10.4" fill="#FFE86C"/>
<rect x="388.2" y="383.3" width="10.4" height="10.4" fill="#FFF4A1"/>
<rect x="398.2" y="383.3" width="20.5" height="10.4" fill="#EFEDA1"/>
<rect x="418.3" y="383.3" width="10.4" height="10.4" fill="#DEF7F1"/>
<rect x="428.3" y="383.3" width="10.4" height="10.4" fill="#E4F8EA"/>
<rect x="438.4" y="383.3" width="20.5" height="10.4" fill="#ADDBFF"/>
<rect x="458.5" y="383.3" width="10.4" height="10.4" fill="#BEE7FF"/>
<rect x="468.5" y="383.3" width="30.5" height="10.4" fill="#ADDBFF"/>
<rect x="498.6" y="383.3" width="10.4" height="10.4" fill="#BEE7FF"/>
<rect x="508.7" y="383.3" width="10.4" height="10.4" fill="#DEEECA"/>
<rect x="518.7" y="383.3" width="10.4" height="10.4" fill="#FFBC14"/>
<rect x="528.8" y="383.3" width="10.4" height="10.4" fill="#FFC81E"/>
<rect x="538.8" y="383.3" width="10.4" height="10.4" fill="#F3D056"/>
<rect x="548.8" y="383.3" width="10.4" height="10.4" fill="#FFCE25"/>
<rect x="558.9" y="383.3" width="10.4" height="10.4" fill="#FFC81E"/>
<rect x="568.9" y="383.3" width="20.5" height="10.4" fill="#FFCE25"/>
<rect x="589.0" y="383.3" width="10.4" height="10.4" fill="#FFC81E"/>
<rect x="599.0" y="383.3" width="10.4" height="10.4" fill="#76CDFF"/>
<rect x="609.1" y="383.3" width="10.4" height="10.4" fill="#2AC4FF"/>
<rect x="619.1" y="383.3" width="10.4" height="10.4" fill="#75D4FF"/>
<rect x="629.2" y="383.3" width="10.4" height="10.4" fill="#B4E0FF"/>
<rect x="639.2" y="383.3" width="10.4" height="10.4" fill="#ADDBFF"/>
<rect x="649.3" y="383.3" width="20.5" height="10.4" fill="#B4E0FF"/>
<rect x="669.3" y="383.3" width="10.4" height="10.4" fill="#BEE7FF"/>
<rect x="679.4" y="383.3" width="10.4" height="10.4" fill="#F3E267"/>
<rect x="689.4" y="383.3" width="10.4" height="10.4" fill="#DEEECA"/>
<rect x="699.5" y="383.3" width="10.4" height="10.4" fill="#12A0FF"/>
<rect x="709.5" y="383.3" width="10.4" height="10.4" fill="#2783F7"/>
<rect x="719.5" y="383.3" width="10.4" height="10.4" fill="#2C7EF3"/>
<rect x="729.6" y="383.3" width="10.4" height="10.4" fill="#0CABFF"/>
<rect x="739.6" y="383.3" width="10.4" height="10.4" fill="#FF9900"/>
<rect x="749.7" y="383.3" width="10.4" height="10.4" fill="#FF7D00"/>
<rect x="759.7" y="383.3" width="10.4" height="10.4" fill="#F3BC42"/>
<rect x="769.8" y="383.3" width="10.4" height="10.4" fill="#C5ECFF"/>
<rect x="56.8" y="393.4" width="10.4" height="10.4" fill="#FFCE25"/>
<rect x="66.8" y="393.4" width="10.4" height="10.4" fill="#8DCFAF"/>
<rect x="76.9" y="393.4" width="10.4" height="10.4" fill="#62CBFF"/>
<rect x="86.9" y="393.4" width="10.4" height="10.4" fill="#76CDFF"/>
<rect x="97.0" y="393.4" width="10.4" height="10.4" fill="#BEE7FF"/>
<rect x="107.0" y="393.4" width="10.4" height="10.4" fill="#B9D5CA"/>
<rect x="117.0" y="393.4" width="10.4" height="10.4" fill="#88D9FF"/>
<rect x="127.1" y="393.4" width="10.4" height="10.4" fill="#CEDFB7"/>
<rect x="137.1" y="393.4" width="10.4" height="10.4" fill="#B4E0FF"/>
<rect x="147.2" y="393.4" width="10.4" height="10.4" fill="#DEEECA"/>
<rect x="157.2" y="393.4" width="10.4" height="10.4" fill="#E4EBAF"/>
<rect x="167.3" y="393.4" width="10.4" height="10.4" fill="#FFE459"/>
<rect x="177.3" y="393.4" width="10.4" height="10.4" fill="#C5D6AF"/>
<rect x="187.3" y="393.4" width="20.5" height="10.4" fill="#76CDFF"/>
<rect x="207.4" y="393.4" width="10.4" height="10.4" fill="#08B2FF"/>
<rect x="217.5" y="393.4" width="10.4" height="10.4" fill="#44B2FF"/>
<rect x="227.5" y="393.4" width="10.4" height="10.4" fill="#83BCA6"/>
<rect x="237.6" y="393.4" width="10.4" height="10.4" fill="#FF5100"/>
<rect x="247.6" y="393.4" width="10.4" height="10.4" fill="#FF1D00"/>
<rect x="257.6" y="393.4" width="10.4" height="10.4" fill="#E67842"/>
<rect x="267.7" y="393.4" width="10.4" height="10.4" fill="#E6C756"/>
<rect x="277.7" y="393.4" width="10.4" height="10.4" fill="#E6D967"/>
<rect x="287.8" y="393.4" width="10.4" height="10.4" fill="#76CDFF"/>
<rect x="297.8" y="393.4" width="10.4" height="10.4" fill="#2AC4FF"/>
<rect x="307.8" y="393.4" width="30.5" height="10.4" fill="#ADDBFF"/>
<rect x="338.0" y="393.4" width="10.4" height="10.4" fill="#CEDFB7"/>
<rect x="348.0" y="393.4" width="30.5" height="10.4" fill="#FFCE25"/>
<rect x="378.1" y="393.4" width="10.4" height="10.4" fill="#FFC81E"/>
<rect x="388.2" y="393.4" width="10.4" height="10.4" fill="#FF9900"/>
<rect x="398.2" y="393.4" width="10.4" height="10.4" fill="#FFCE25"/>
<rect x="408.3" y="393.4" width="10.4" height="10.4" fill="#E6D967"/>
<rect x="418.3" y="393.4" width="10.4" height="10.4" fill="#EFEDA1"/>
<rect x="428.3" y="393.4" width="10.4" height="10.4" fill="#EFD76D"/>
<rect x="438.4" y="393.4" width="10.4" height="10.4" fill="#DEF7F1"/>
<rect x="448.4" y="393.4" width="10.4" height="10.4" fill="#D5E3B7"/>
<rect x="458.5" y="393.4" width="20.5" height="10.4" fill="#BEE7FF"/>
<rect x="478.6" y="393.4" width="10.4" height="10.4" fill="#B4E0FF"/>
<rect x="488.6" y="393.4" width="10.4" height="10.4" fill="#BEE7FF"/>
<rect x="498.6" y="393.4" width="20.5" height="10.4" fill="#DEEECA"/>
<rect x="518.7" y="393.4" width="10.4" height="10.4" fill="#B4E0FF"/>
<rect x="528.8" y="393.4" width="10.4" height="10.4" fill="#F3E267"/>
<rect x="538.8" y="393.4" width="10.4" height="10.4" fill="#FFCE25"/>
<rect x="548.8" y="393.4" width="10.4" height="10.4" fill="#FFB60D"/>
<rect x="558.9" y="393.4" width="10.4" height="10.4" fill="#F3E267"/>
<rect x="568.9" y="393.4" width="10.4" height="10.4" fill="#EDE682"/>
<rect x="579.0" y="393.4" width="10.4" height="10.4" fill="#FFCE25"/>
<rect x="589.0" y="393.4" width="20.5" height="10.4" fill="#EFD76D"/>
<rect x="609.1" y="393.4" width="10.4" height="10.4" fill="#9BBD9C"/>
<rect x="619.1" y="393.4" width="10.4" height="10.4" fill="#73D7FF"/>
<rect x="629.2" y="393.4" width="10.4" height="10.4" fill="#62CBFF"/>
<rect x="639.2" y="393.4" width="20.5" height="10.4" fill="#ADDBFF"/>
<rect x="659.3" y="393.4" width="10.4" height="10.4" fill="#BEE7FF"/>
<rect x="669.3" y="393.4" width="20.5" height="10.4" fill="#76CDFF"/>
<rect x="689.4" y="393.4" width="10.4" height="10.4" fill="#D5E3B7"/>
<rect x="699.5" y="393.4" width="10.4" height="10.4" fill="#FFB60D"/>
<rect x="709.5" y="393.4" width="10.4" height="10.4" fill="#FFBC14"/>
<rect x="719.5" y="393.4" width="10.4" height="10.4" fill="#DEC466"/>
<rect x="729.6" y="393.4" width="10.4" height="10.4" fill="#EFD76D"/>
<rect x="739.6" y="393.4" width="10.4" height="10.4" fill="#E4EBAF"/>
<rect x="749.7" y="393.4" width="10.4" height="10.4" fill="#CCE2CA"/>
<rect x="759.7" y="393.4" width="10.4" height="10.4" fill="#E4EBAF"/>
<rect x="769.8" y="393.4" width="10.4" height="10.4" fill="#B4E0FF"/>
<rect x="56.8" y="403.4" width="10.4" height="10.4" fill="#FFB60D"/>
<rect x="66.8" y="403.4" width="10.4" height="10.4" fill="#8DCFAF"/>
<rect x="76.9" y="403.4" width="20.5" height="10.4" fill="#76CDFF"/>
<rect x="97.0" y="403.4" width="10.4" height="10.4" fill="#73D7FF"/>
<rect x="107.0" y="403.4" width="10.4" height="10.4" fill="#98D1B7"/>
<rect x="117.0" y="403.4" width="10.4" height="10.4" fill="#CEDFB7"/>
<rect x="127.1" y="403.4" width="10.4" height="10.4" fill="#ADDBFF"/>
<rect x="137.1" y="403.4" width="10.4" height="10.4" fill="#D2DFAF"/>
<rect x="147.2" y="403.4" width="10.4" height="10.4" fill="#F3D056"/>
<rect x="157.2" y="403.4" width="10.4" height="10.4" fill="#FFE459"/>
<rect x="167.3" y="403.4" width="10.4" height="10.4" fill="#FFD248"/>
<rect x="177.3" y="403.4" width="10.4" height="10.4" fill="#E6C756"/>
<rect x="187.3" y="403.4" width="10.4" height="10.4" fill="#E6D967"/>
<rect x="197.4" y="403.4" width="10.4" height="10.4" fill="#98BEA6"/>
<rect x="207.4" y="403.4" width="10.4" height="10.4" fill="#2AC4FF"/>
<rect x="217.5" y="403.4" width="10.4" height="10.4" fill="#08B2FF"/>
<rect x="227.5" y="403.4" width="10.4" height="10.4" fill="#3EC6FF"/>
<rect x="237.6" y="403.4" width="10.4" height="10.4" fill="#34B2FF"/>
<rect x="247.6" y="403.4" width="10.4" height="10.4" fill="#9CB163"/>
<rect x="257.6" y="403.4" width="10.4" height="10.4" fill="#FFB60D"/>
<rect x="267.7" y="403.4" width="10.4" height="10.4" fill="#FFC81E"/>
<rect x="277.7" y="403.4" width="10.4" height="10.4" fill="#FFBC14"/>
<rect x="287.8" y="403.4" width="10.4" height="10.4" fill="#FFC81E"/>
<rect x="297.8" y="403.4" width="10.4" height="10.4" fill="#FFB60D"/>
<rect x="307.8" y="403.4" width="10.4" height="10.4" fill="#FFBC14"/>
<rect x="317.9" y="403.4" width="10.4" height="10.4" fill="#CEDFB7"/>
<rect x="327.9" y="403.4" width="10.4" height="10.4" fill="#B4E0FF"/>
<rect x="338.0" y="403.4" width="10.4" height="10.4" fill="#D5E3B7"/>
<rect x="348.0" y="403.4" width="10.4" height="10.4" fill="#CAE1CA"/>
<rect x="358.1" y="403.4" width="10.4" height="10.4" fill="#FFDA5A"/>
<rect x="368.1" y="403.4" width="10.4" height="10.4" fill="#FFAB12"/>
<rect x="378.1" y="403.4" width="10.4" height="10.4" fill="#FF9100"/>
<rect x="388.2" y="403.4" width="10.4" height="10.4" fill="#FFB60D"/>
<rect x="398.2" y="403.4" width="10.4" height="10.4" fill="#E6C756"/>
<rect x="408.3" y="403.4" width="10.4" height="10.4" fill="#DAC670"/>
<rect x="418.3" y="403.4" width="20.5" height="10.4" fill="#FFB60D"/>
<rect x="438.4" y="403.4" width="10.4" height="10.4" fill="#FFC81E"/>
<rect x="448.4" y="403.4" width="10.4" height="10.4" fill="#EFD76D"/>
<rect x="458.5" y="403.4" width="20.5" height="10.4" fill="#FFC81E"/>
<rect x="478.6" y="403.4" width="10.4" height="10.4" fill="#FFB60D"/>
<rect x="488.6" y="403.4" width="10.4" height="10.4" fill="#FFBC14"/>
<rect x="498.6" y="403.4" width="10.4" height="10.4" fill="#F3E267"/>
<rect x="508.7" y="403.4" width="10.4" height="10.4" fill="#E4EBAF"/>
<rect x="518.7" y="403.4" width="10.4" height="10.4" fill="#EDE682"/>
<rect x="528.8" y="403.4" width="10.4" height="10.4" fill="#FFCE25"/>
<rect x="538.8" y="403.4" width="10.4" height="10.4" fill="#FFBC14"/>
<rect x="548.8" y="403.4" width="20.5" height="10.4" fill="#FFB60D"/>
<rect x="568.9" y="403.4" width="10.4" height="10.4" fill="#FFC81E"/>
<rect x="579.0" y="403.4" width="10.4" height="10.4" fill="#FFB646"/>
<rect x="589.0" y="403.4" width="10.4" height="10.4" fill="#FFC81E"/>
<rect x="599.0" y="403.4" width="30.5" height="10.4" fill="#FFB60D"/>
<rect x="629.2" y="403.4" width="10.4" height="10.4" fill="#81C0BD"/>
<rect x="639.2" y="403.4" width="10.4" height="10.4" fill="#DEC466"/>
<rect x="649.3" y="403.4" width="20.5" height="10.4" fill="#FFB60D"/>
<rect x="669.3" y="403.4" width="10.4" height="10.4" fill="#98D1B7"/>
<rect x="679.4" y="403.4" width="10.4" height="10.4" fill="#62CBFF"/>
<rect x="689.4" y="403.4" width="10.4" height="10.4" fill="#D5E3B7"/>
<rect x="699.5" y="403.4" width="10.4" height="10.4" fill="#EDE682"/>
<rect x="709.5" y="403.4" width="10.4" height="10.4" fill="#FFCE25"/>
<rect x="719.5" y="403.4" width="10.4" height="10.4" fill="#FFB60D"/>
<rect x="729.6" y="403.4" width="20.5" height="10.4" fill="#FFC81E"/>
<rect x="749.7" y="403.4" width="10.4" height="10.4" fill="#FFBC14"/>
<rect x="759.7" y="403.4" width="20.5" height="10.4" fill="#FFC81E"/>
<rect x="56.8" y="413.5" width="10.4" height="10.4" fill="#FF9900"/>
<rect x="66.8" y="413.5" width="10.4" height="10.4" fill="#DEC466"/>
<rect x="76.9" y="413.5" width="10.4" height="10.4" fill="#3EC6FF"/>
<rect x="86.9" y="413.5" width="10.4" height="10.4" fill="#2AC4FF"/>
<rect x="97.0" y="413.5" width="10.4" height="10.4" fill="#83CEB7"/>
<rect x="107.0" y="413.5" width="10.4" height="10.4" fill="#62CBFF"/>
<rect x="117.0" y="413.5" width="10.4" height="10.4" fill="#DAC670"/>
<rect x="127.1" y="413.5" width="20.5" height="10.4" fill="#DECB6D"/>
<rect x="147.2" y="413.5" width="10.4" height="10.4" fill="#E6D967"/>
<rect x="157.2" y="413.5" width="10.4" height="10.4" fill="#DAC670"/>
<rect x="167.3" y="413.5" width="10.4" height="10.4" fill="#C5D6AF"/>
<rect x="177.3" y="413.5" width="10.4" height="10.4" fill="#ADDBFF"/>
<rect x="187.3" y="413.5" width="10.4" height="10.4" fill="#75D4FF"/>
<rect x="197.4" y="413.5" width="10.4" height="10.4" fill="#98D1B7"/>
<rect x="207.4" y="413.5" width="10.4" height="10.4" fill="#CECCA6"/>
<rect x="217.5" y="413.5" width="10.4" height="10.4" fill="#75D4FF"/>
<rect x="227.5" y="413.5" width="10.4" height="10.4" fill="#7CD9FF"/>
<rect x="237.6" y="413.5" width="10.4" height="10.4" fill="#62CBFF"/>
<rect x="247.6" y="413.5" width="10.4" height="10.4" fill="#DAB863"/>
<rect x="257.6" y="413.5" width="20.5" height="10.4" fill="#FFB60D"/>
<rect x="277.7" y="413.5" width="10.4" height="10.4" fill="#FFCE25"/>
<rect x="287.8" y="413.5" width="10.4" height="10.4" fill="#FFB60D"/>
<rect x="297.8" y="413.5" width="10.4" height="10.4" fill="#FFCE25"/>
<rect x="307.8" y="413.5" width="10.4" height="10.4" fill="#F3D056"/>
<rect x="317.9" y="413.5" width="10.4" height="10.4" fill="#2AC4FF"/>
<rect x="327.9" y="413.5" width="10.4" height="10.4" fill="#ADDBFF"/>
<rect x="338.0" y="413.5" width="10.4" height="10.4" fill="#D7E2AF"/>
<rect x="348.0" y="413.5" width="10.4" height="10.4" fill="#C5ECFF"/>
<rect x="358.1" y="413.5" width="10.4" height="10.4" fill="#B9C7BD"/>
<rect x="368.1" y="413.5" width="10.4" height="10.4" fill="#FFAB12"/>
<rect x="378.1" y="413.5" width="10.4" height="10.4" fill="#FF9100"/>
<rect x="388.2" y="413.5" width="10.4" height="10.4" fill="#FFA10D"/>
<rect x="398.2" y="413.5" width="10.4" height="10.4" fill="#E6B342"/>
<rect x="408.3" y="413.5" width="10.4" height="10.4" fill="#DAB863"/>
<rect x="418.3" y="413.5" width="20.5" height="10.4" fill="#FFB60D"/>
<rect x="438.4" y="413.5" width="10.4" height="10.4" fill="#FFC81E"/>
<rect x="448.4" y="413.5" width="10.4" height="10.4" fill="#E6D967"/>
<rect x="458.5" y="413.5" width="10.4" height="10.4" fill="#EFD066"/>
<rect x="468.5" y="413.5" width="10.4" height="10.4" fill="#FFBC14"/>
<rect x="478.6" y="413.5" width="10.4" height="10.4" fill="#E6C756"/>
<rect x="488.6" y="413.5" width="10.4" height="10.4" fill="#FFC81E"/>
<rect x="498.6" y="413.5" width="10.4" height="10.4" fill="#FFB60D"/>
<rect x="508.7" y="413.5" width="10.4" height="10.4" fill="#E6D967"/>
<rect x="518.7" y="413.5" width="10.4" height="10.4" fill="#DAC670"/>
<rect x="528.8" y="413.5" width="10.4" height="10.4" fill="#E6D967"/>
<rect x="538.8" y="413.5" width="10.4" height="10.4" fill="#FFCE25"/>
<rect x="548.8" y="413.5" width="10.4" height="10.4" fill="#FFB60D"/>
<rect x="558.9" y="413.5" width="20.5" height="10.4" fill="#FFA10D"/>
<rect x="579.0" y="413.5" width="20.5" height="10.4" fill="#FFB60D"/>
<rect x="599.0" y="413.5" width="10.4" height="10.4" fill="#FFA800"/>
<rect x="609.1" y="413.5" width="20.5" height="10.4" fill="#FFB60D"/>
<rect x="629.2" y="413.5" width="10.4" height="10.4" fill="#81C0BD"/>
<rect x="639.2" y="413.5" width="20.5" height="10.4" fill="#FFA800"/>
<rect x="659.3" y="413.5" width="10.4" height="10.4" fill="#FFB60D"/>
<rect x="669.3" y="413.5" width="10.4" height="10.4" fill="#DAB863"/>
<rect x="679.4" y="413.5" width="10.4" height="10.4" fill="#ADDBFF"/>
<rect x="689.4" y="413.5" width="10.4" height="10.4" fill="#EDEEA9"/>
<rect x="699.5" y="413.5" width="10.4" height="10.4" fill="#DEF7F1"/>
<rect x="709.5" y="413.5" width="10.4" height="10.4" fill="#FFCE25"/>
<rect x="719.5" y="413.5" width="20.5" height="10.4" fill="#FFB60D"/>
<rect x="739.6" y="413.5" width="10.4" height="10.4" fill="#FF9900"/>
<rect x="749.7" y="413.5" width="10.4" height="10.4" fill="#FFA10D"/>
<rect x="759.7" y="413.5" width="10.4" height="10.4" fill="#FFB60D"/>
<rect x="769.8" y="413.5" width="10.4" height="10.4" fill="#FF9900"/>
<rect x="56.8" y="423.5" width="10.4" height="10.4" fill="#FF7D00"/>
<rect x="66.8" y="423.5" width="20.5" height="10.4" fill="#FF9100"/>
<rect x="86.9" y="423.5" width="10.4" height="10.4" fill="#E6C756"/>
<rect x="97.0" y="423.5" width="20.5" height="10.4" fill="#ADDBFF"/>
<rect x="117.0" y="423.5" width="10.4" height="10.4" fill="#FFC81E"/>
<rect x="127.1" y="423.5" width="10.4" height="10.4" fill="#FF9900"/>
<rect x="137.1" y="423.5" width="10.4" height="10.4" fill="#FF9100"/>
<rect x="147.2" y="423.5" width="10.4" height="10.4" fill="#E6D967"/>
<rect x="157.2" y="423.5" width="10.4" height="10.4" fill="#DAC670"/>
<rect x="167.3" y="423.5" width="10.4" height="10.4" fill="#FFCE25"/>
<rect x="177.3" y="423.5" width="10.4" height="10.4" fill="#B9D5CA"/>
<rect x="187.3" y="423.5" width="30.5" height="10.4" fill="#ADDBFF"/>
<rect x="217.5" y="423.5" width="10.4" height="10.4" fill="#D7E2AF"/>
<rect x="227.5" y="423.5" width="10.4" height="10.4" fill="#ADDBFF"/>
<rect x="237.6" y="423.5" width="10.4" height="10.4" fill="#EFD76D"/>
<rect x="247.6" y="423.5" width="10.4" height="10.4" fill="#FFC81E"/>
<rect x="257.6" y="423.5" width="10.4" height="10.4" fill="#C5C29C"/>
<rect x="267.7" y="423.5" width="10.4" height="10.4" fill="#DAB863"/>
<rect x="277.7" y="423.5" width="10.4" height="10.4" fill="#FFB60D"/>
<rect x="287.8" y="423.5" width="10.4" height="10.4" fill="#FF9900"/>
<rect x="297.8" y="423.5" width="10.4" height="10.4" fill="#FFCE25"/>
<rect x="307.8" y="423.5" width="10.4" height="10.4" fill="#FFB60D"/>
<rect x="317.9" y="423.5" width="10.4" height="10.4" fill="#FFBC14"/>
<rect x="327.9" y="423.5" width="10.4" height="10.4" fill="#DECB6D"/>
<rect x="338.0" y="423.5" width="10.4" height="10.4" fill="#DEC466"/>
<rect x="348.0" y="423.5" width="10.4" height="10.4" fill="#D7E2AF"/>
<rect x="358.1" y="423.5" width="10.4" height="10.4" fill="#8BAFBD"/>
<rect x="368.1" y="423.5" width="20.5" height="10.4" fill="#FF9900"/>
<rect x="388.2" y="423.5" width="10.4" height="10.4" fill="#FF9100"/>
<rect x="398.2" y="423.5" width="10.4" height="10.4" fill="#FFB60D"/>
<rect x="408.3" y="423.5" width="10.4" height="10.4" fill="#FF9900"/>
<rect x="418.3" y="423.5" width="20.5" height="10.4" fill="#FFB60D"/>
<rect x="438.4" y="423.5" width="10.4" height="10.4" fill="#FFBC14"/>
<rect x="448.4" y="423.5" width="10.4" height="10.4" fill="#E6D967"/>
<rect x="458.5" y="423.5" width="10.4" height="10.4" fill="#FFCE25"/>
<rect x="468.5" y="423.5" width="10.4" height="10.4" fill="#EFD066"/>
<rect x="478.6" y="423.5" width="10.4" height="10.4" fill="#FFC81E"/>
<rect x="488.6" y="423.5" width="10.4" height="10.4" fill="#FFB60D"/>
<rect x="498.6" y="423.5" width="10.4" height="10.4" fill="#FF9900"/>
<rect x="508.7" y="423.5" width="10.4" height="10.4" fill="#FFA412"/>
<rect x="518.7" y="423.5" width="10.4" height="10.4" fill="#E6B342"/>
<rect x="528.8" y="423.5" width="10.4" height="10.4" fill="#DAC670"/>
<rect x="538.8" y="423.5" width="10.4" height="10.4" fill="#EFD76D"/>
<rect x="548.8" y="423.5" width="10.4" height="10.4" fill="#FFC81E"/>
<rect x="558.9" y="423.5" width="20.5" height="10.4" fill="#FFB60D"/>
<rect x="579.0" y="423.5" width="10.4" height="10.4" fill="#FF9900"/>
<rect x="589.0" y="423.5" width="10.4" height="10.4" fill="#FF9100"/>
<rect x="599.0" y="423.5" width="10.4" height="10.4" fill="#FF8F12"/>
<rect x="609.1" y="423.5" width="10.4" height="10.4" fill="#FF6600"/>
<rect x="619.1" y="423.5" width="20.5" height="10.4" fill="#FF6D00"/>
<rect x="639.2" y="423.5" width="30.5" height="10.4" fill="#FF9900"/>
<rect x="669.3" y="423.5" width="10.4" height="10.4" fill="#FF6600"/>
<rect x="679.4" y="423.5" width="10.4" height="10.4" fill="#FF5700"/>
<rect x="689.4" y="423.5" width="10.4" height="10.4" fill="#FF7812"/>
<rect x="699.5" y="423.5" width="20.5" height="10.4" fill="#E6C756"/>
<rect x="719.5" y="423.5" width="10.4" height="10.4" fill="#DEC466"/>
<rect x="729.6" y="423.5" width="20.5" height="10.4" fill="#FF9900"/>
<rect x="749.7" y="423.5" width="10.4" height="10.4" fill="#FF9100"/>
<rect x="759.7" y="423.5" width="10.4" height="10.4" fill="#FF7C00"/>
<rect x="769.8" y="423.5" width="10.4" height="10.4" fill="#FF7D00"/>
<rect x="56.8" y="433.5" width="10.4" height="10.4" fill="#FF6800"/>
<rect x="66.8" y="433.5" width="10.4" height="10.4" fill="#FF6600"/>
<rect x="76.9" y="433.5" width="10.4" height="10.4" fill="#6171A5"/>
<rect x="86.9" y="433.5" width="10.4" height="10.4" fill="#4E62AC"/>
<rect x="97.0" y="433.5" width="10.4" height="10.4" fill="#FF4200"/>
<rect x="107.0" y="433.5" width="10.4" height="10.4" fill="#FF6600"/>
<rect x="117.0" y="433.5" width="10.4" height="10.4" fill="#FF9100"/>
<rect x="127.1" y="433.5" width="20.5" height="10.4" fill="#FFAB12"/>
<rect x="147.2" y="433.5" width="20.5" height="10.4" fill="#FFBC14"/>
<rect x="167.3" y="433.5" width="10.4" height="10.4" fill="#C5D6AF"/>
<rect x="177.3" y="433.5" width="10.4" height="10.4" fill="#E6D967"/>
<rect x="187.3" y="433.5" width="10.4" height="10.4" fill="#ADDBFF"/>
<rect x="197.4" y="433.5" width="10.4" height="10.4" fill="#81CECA"/>
<rect x="207.4" y="433.5" width="10.4" height="10.4" fill="#ADDBFF"/>
<rect x="217.5" y="433.5" width="10.4" height="10.4" fill="#E6D967"/>
<rect x="227.5" y="433.5" width="10.4" height="10.4" fill="#CAD3BD"/>
<rect x="237.6" y="433.5" width="10.4" height="10.4" fill="#E6D967"/>
<rect x="247.6" y="433.5" width="10.4" height="10.4" fill="#DAB863"/>
<rect x="257.6" y="433.5" width="10.4" height="10.4" fill="#E6B342"/>
<rect x="267.7" y="433.5" width="10.4" height="10.4" fill="#DACB75"/>
<rect x="277.7" y="433.5" width="10.4" height="10.4" fill="#FF8500"/>
<rect x="287.8" y="433.5" width="20.5" height="10.4" fill="#FF9100"/>
<rect x="307.8" y="433.5" width="10.4" height="10.4" fill="#DEC466"/>
<rect x="317.9" y="433.5" width="10.4" height="10.4" fill="#FFB60D"/>
<rect x="327.9" y="433.5" width="10.4" height="10.4" fill="#FFBC14"/>
<rect x="338.0" y="433.5" width="10.4" height="10.4" fill="#FFC81E"/>
<rect x="348.0" y="433.5" width="10.4" height="10.4" fill="#BD4236"/>
<rect x="358.1" y="433.5" width="10.4" height="10.4" fill="#65719A"/>
<rect x="368.1" y="433.5" width="10.4" height="10.4" fill="#FF5100"/>
<rect x="378.1" y="433.5" width="20.5" height="10.4" fill="#FF5700"/>
<rect x="398.2" y="433.5" width="10.4" height="10.4" fill="#FF9900"/>
<rect x="408.3" y="433.5" width="10.4" height="10.4" fill="#FFAB12"/>
<rect x="418.3" y="433.5" width="30.5" height="10.4" fill="#FFB60D"/>
<rect x="448.4" y="433.5" width="10.4" height="10.4" fill="#FFCE25"/>
<rect x="458.5" y="433.5" width="10.4" height="10.4" fill="#E6C756"/>
<rect x="468.5" y="433.5" width="10.4" height="10.4" fill="#FFB60D"/>
<rect x="478.6" y="433.5" width="10.4" height="10.4" fill="#FFC81E"/>
<rect x="488.6" y="433.5" width="10.4" height="10.4" fill="#D7E2AF"/>
<rect x="498.6" y="433.5" width="10.4" height="10.4" fill="#C5D6AF"/>
<rect x="508.7" y="433.5" width="10.4" height="10.4" fill="#F3E267"/>
<rect x="518.7" y="433.5" width="10.4" height="10.4" fill="#D5D1A6"/>
<rect x="528.8" y="433.5" width="10.4" height="10.4" fill="#C5D6AF"/>
<rect x="538.8" y="433.5" width="10.4" height="10.4" fill="#DECB6D"/>
<rect x="548.8" y="433.5" width="10.4" height="10.4" fill="#FFC81E"/>
<rect x="558.9" y="433.5" width="10.4" height="10.4" fill="#FF9900"/>
<rect x="568.9" y="433.5" width="10.4" height="10.4" fill="#FF8500"/>
<rect x="579.0" y="433.5" width="10.4" height="10.4" fill="#FF9100"/>
<rect x="589.0" y="433.5" width="10.4" height="10.4" fill="#FF9900"/>
<rect x="599.0" y="433.5" width="20.5" height="10.4" fill="#FFB60D"/>
<rect x="619.1" y="433.5" width="10.4" height="10.4" fill="#DEB759"/>
<rect x="629.2" y="433.5" width="20.5" height="10.4" fill="#FFA800"/>
<rect x="649.3" y="433.5" width="10.4" height="10.4" fill="#BD6825"/>
<rect x="659.3" y="433.5" width="10.4" height="10.4" fill="#0000A1"/>
<rect x="669.3" y="433.5" width="10.4" height="10.4" fill="#9C3B38"/>
<rect x="679.4" y="433.5" width="10.4" height="10.4" fill="#F02600"/>
<rect x="689.4" y="433.5" width="10.4" height="10.4" fill="#E82600"/>
<rect x="699.5" y="433.5" width="10.4" height="10.4" fill="#FF5100"/>
<rect x="709.5" y="433.5" width="10.4" height="10.4" fill="#FF2B00"/>
<rect x="719.5" y="433.5" width="10.4" height="10.4" fill="#FF6A12"/>
<rect x="729.6" y="433.5" width="10.4" height="10.4" fill="#DE7459"/>
<rect x="739.6" y="433.5" width="10.4" height="10.4" fill="#FF7D00"/>
<rect x="749.7" y="433.5" width="10.4" height="10.4" fill="#FF1D00"/>
<rect x="759.7" y="433.5" width="10.4" height="10.4" fill="#FF5100"/>
<rect x="769.8" y="433.5" width="10.4" height="10.4" fill="#EA1D00"/>
<rect x="56.8" y="443.6" width="10.4" height="10.4" fill="#E83B00"/>
<rect x="66.8" y="443.6" width="10.4" height="10.4" fill="#BB0909"/>
<rect x="76.9" y="443.6" width="10.4" height="10.4" fill="#A91B1B"/>
<rect x="86.9" y="443.6" width="10.4" height="10.4" fill="#4C007F"/>
<rect x="97.0" y="443.6" width="10.4" height="10.4" fill="#A4164A"/>
<rect x="107.0" y="443.6" width="10.4" height="10.4" fill="#9D1967"/>
<rect x="117.0" y="443.6" width="10.4" height="10.4" fill="#E80000"/>
<rect x="127.1" y="443.6" width="10.4" height="10.4" fill="#A80025"/>
<rect x="137.1" y="443.6" width="10.4" height="10.4" fill="#870038"/>
<rect x="147.2" y="443.6" width="10.4" height="10.4" fill="#630058"/>
<rect x="157.2" y="443.6" width="10.4" height="10.4" fill="#4C247A"/>
<rect x="167.3" y="443.6" width="10.4" height="10.4" fill="#4E3796"/>
<rect x="177.3" y="443.6" width="10.4" height="10.4" fill="#B05D59"/>
<rect x="187.3" y="443.6" width="10.4" height="10.4" fill="#E69F42"/>
<rect x="197.4" y="443.6" width="10.4" height="10.4" fill="#DAB863"/>
<rect x="207.4" y="443.6" width="10.4" height="10.4" fill="#C5C29C"/>
<rect x="217.5" y="443.6" width="10.4" height="10.4" fill="#CAD3BD"/>
<rect x="227.5" y="443.6" width="10.4" height="10.4" fill="#E6B342"/>
<rect x="237.6" y="443.6" width="10.4" height="10.4" fill="#DACB75"/>
<rect x="247.6" y="443.6" width="10.4" height="10.4" fill="#DAB863"/>
<rect x="257.6" y="443.6" width="10.4" height="10.4" fill="#E6B342"/>
<rect x="267.7" y="443.6" width="10.4" height="10.4" fill="#DACB75"/>
<rect x="277.7" y="443.6" width="10.4" height="10.4" fill="#FFB60D"/>
<rect x="287.8" y="443.6" width="10.4" height="10.4" fill="#FFA412"/>
<rect x="297.8" y="443.6" width="10.4" height="10.4" fill="#FFAB12"/>
<rect x="307.8" y="443.6" width="10.4" height="10.4" fill="#FFB60D"/>
<rect x="317.9" y="443.6" width="10.4" height="10.4" fill="#7EC0FF"/>
<rect x="327.9" y="443.6" width="10.4" height="10.4" fill="#35B0FF"/>
<rect x="338.0" y="443.6" width="10.4" height="10.4" fill="#2A81D8"/>
<rect x="348.0" y="443.6" width="10.4" height="10.4" fill="#CE92A6"/>
<rect x="358.1" y="443.6" width="10.4" height="10.4" fill="#FF9900"/>
<rect x="368.1" y="443.6" width="10.4" height="10.4" fill="#FF2B00"/>
<rect x="378.1" y="443.6" width="10.4" height="10.4" fill="#FF6800"/>
<rect x="388.2" y="443.6" width="10.4" height="10.4" fill="#FF5200"/>
<rect x="398.2" y="443.6" width="10.4" height="10.4" fill="#FFAB12"/>
<rect x="408.3" y="443.6" width="10.4" height="10.4" fill="#E6B342"/>
<rect x="418.3" y="443.6" width="10.4" height="10.4" fill="#FF8500"/>
<rect x="428.3" y="443.6" width="10.4" height="10.4" fill="#FF9100"/>
<rect x="438.4" y="443.6" width="30.5" height="10.4" fill="#FFB60D"/>
<rect x="468.5" y="443.6" width="10.4" height="10.4" fill="#FFBC14"/>
<rect x="478.6" y="443.6" width="10.4" height="10.4" fill="#E6C756"/>
<rect x="488.6" y="443.6" width="10.4" height="10.4" fill="#FFC81E"/>
<rect x="498.6" y="443.6" width="10.4" height="10.4" fill="#EFD066"/>
<rect x="508.7" y="443.6" width="10.4" height="10.4" fill="#C5D6AF"/>
<rect x="518.7" y="443.6" width="10.4" height="10.4" fill="#CEDFB7"/>
<rect x="528.8" y="443.6" width="10.4" height="10.4" fill="#C5D6AF"/>
<rect x="538.8" y="443.6" width="20.5" height="10.4" fill="#FFC81E"/>
<rect x="558.9" y="443.6" width="10.4" height="10.4" fill="#FFAB12"/>
<rect x="568.9" y="443.6" width="10.4" height="10.4" fill="#FF9900"/>
<rect x="579.0" y="443.6" width="10.4" height="10.4" fill="#FF9100"/>
<rect x="589.0" y="443.6" width="10.4" height="10.4" fill="#FFAB12"/>
<rect x="599.0" y="443.6" width="10.4" height="10.4" fill="#FF7912"/>
<rect x="609.1" y="443.6" width="10.4" height="10.4" fill="#FF6600"/>
<rect x="619.1" y="443.6" width="10.4" height="10.4" fill="#FF6D00"/>
<rect x="629.2" y="443.6" width="20.5" height="10.4" fill="#FFA800"/>
<rect x="649.3" y="443.6" width="10.4" height="10.4" fill="#BD7C25"/>
<rect x="659.3" y="443.6" width="10.4" height="10.4" fill="#42006B"/>
<rect x="669.3" y="443.6" width="10.4" height="10.4" fill="#EA1D00"/>
<rect x="679.4" y="443.6" width="30.5" height="10.4" fill="#FF5100"/>
<rect x="709.5" y="443.6" width="10.4" height="10.4" fill="#FF4300"/>
<rect x="719.5" y="443.6" width="10.4" height="10.4" fill="#FF7D00"/>
<rect x="729.6" y="443.6" width="10.4" height="10.4" fill="#FF5E00"/>
<rect x="739.6" y="443.6" width="10.4" height="10.4" fill="#FF8500"/>
<rect x="749.7" y="443.6" width="10.4" height="10.4" fill="#FF6600"/>
<rect x="759.7" y="443.6" width="10.4" height="10.4" fill="#FF6A12"/>
<rect x="769.8" y="443.6" width="10.4" height="10.4" fill="#DE7459"/>
<rect x="56.8" y="453.6" width="10.4" height="10.4" fill="#81C0BD"/>
<rect x="66.8" y="453.6" width="10.4" height="10.4" fill="#E69F42"/>
<rect x="76.9" y="453.6" width="10.4" height="10.4" fill="#BD9A42"/>
<rect x="86.9" y="453.6" width="10.4" height="10.4" fill="#B9C7BD"/>
<rect x="97.0" y="453.6" width="10.4" height="10.4" fill="#C5C29C"/>
<rect x="107.0" y="453.6" width="10.4" height="10.4" fill="#DEC466"/>
<rect x="117.0" y="453.6" width="20.5" height="10.4" fill="#FFB60D"/>
<rect x="137.1" y="453.6" width="10.4" height="10.4" fill="#FFBC14"/>
<rect x="147.2" y="453.6" width="10.4" height="10.4" fill="#DEC466"/>
<rect x="157.2" y="453.6" width="10.4" height="10.4" fill="#FFB60D"/>
<rect x="167.3" y="453.6" width="10.4" height="10.4" fill="#DE8B59"/>
<rect x="177.3" y="453.6" width="10.4" height="10.4" fill="#BD6C42"/>
<rect x="187.3" y="453.6" width="10.4" height="10.4" fill="#FF2C00"/>
<rect x="197.4" y="453.6" width="10.4" height="10.4" fill="#DB4200"/>
<rect x="207.4" y="453.6" width="10.4" height="10.4" fill="#8F6F59"/>
<rect x="217.5" y="453.6" width="10.4" height="10.4" fill="#3EC6FF"/>
<rect x="227.5" y="453.6" width="10.4" height="10.4" fill="#2AC4FF"/>
<rect x="237.6" y="453.6" width="10.4" height="10.4" fill="#FF8500"/>
<rect x="247.6" y="453.6" width="10.4" height="10.4" fill="#FF5100"/>
<rect x="257.6" y="453.6" width="10.4" height="10.4" fill="#FF6800"/>
<rect x="267.7" y="453.6" width="10.4" height="10.4" fill="#FF7D00"/>
<rect x="277.7" y="453.6" width="10.4" height="10.4" fill="#FF6800"/>
<rect x="287.8" y="453.6" width="10.4" height="10.4" fill="#FF5700"/>
<rect x="297.8" y="453.6" width="10.4" height="10.4" fill="#FF8500"/>
<rect x="307.8" y="453.6" width="10.4" height="10.4" fill="#FFB60D"/>
<rect x="317.9" y="453.6" width="10.4" height="10.4" fill="#FFCE25"/>
<rect x="327.9" y="453.6" width="10.4" height="10.4" fill="#DEC466"/>
<rect x="338.0" y="453.6" width="10.4" height="10.4" fill="#9CB163"/>
<rect x="348.0" y="453.6" width="10.4" height="10.4" fill="#874A63"/>
<rect x="358.1" y="453.6" width="10.4" height="10.4" fill="#FF6600"/>
<rect x="368.1" y="453.6" width="10.4" height="10.4" fill="#FF9900"/>
<rect x="378.1" y="453.6" width="10.4" height="10.4" fill="#FF5700"/>
<rect x="388.2" y="453.6" width="10.4" height="10.4" fill="#FF8500"/>
<rect x="398.2" y="453.6" width="10.4" height="10.4" fill="#FF9100"/>
<rect x="408.3" y="453.6" width="10.4" height="10.4" fill="#FF9900"/>
<rect x="418.3" y="453.6" width="10.4" height="10.4" fill="#8DBB9C"/>
<rect x="428.3" y="453.6" width="10.4" height="10.4" fill="#DAA463"/>
<rect x="438.4" y="453.6" width="10.4" height="10.4" fill="#FF2B00"/>
<rect x="448.4" y="453.6" width="10.4" height="10.4" fill="#FF5700"/>
<rect x="458.5" y="453.6" width="10.4" height="10.4" fill="#FF6600"/>
<rect x="468.5" y="453.6" width="10.4" height="10.4" fill="#FF9900"/>
<rect x="478.6" y="453.6" width="10.4" height="10.4" fill="#E6D967"/>
<rect x="488.6" y="453.6" width="10.4" height="10.4" fill="#EFD066"/>
<rect x="498.6" y="453.6" width="10.4" height="10.4" fill="#D7E2AF"/>
<rect x="508.7" y="453.6" width="10.4" height="10.4" fill="#DECB6D"/>
<rect x="518.7" y="453.6" width="10.4" height="10.4" fill="#C5D6AF"/>
<rect x="528.8" y="453.6" width="10.4" height="10.4" fill="#CAE1CA"/>
<rect x="538.8" y="453.6" width="10.4" height="10.4" fill="#CEDFB7"/>
<rect x="548.8" y="453.6" width="10.4" height="10.4" fill="#E6E59C"/>
<rect x="558.9" y="453.6" width="10.4" height="10.4" fill="#FFCE25"/>
<rect x="568.9" y="453.6" width="10.4" height="10.4" fill="#FFC81E"/>
<rect x="579.0" y="453.6" width="10.4" height="10.4" fill="#FFCE25"/>
<rect x="589.0" y="453.6" width="20.5" height="10.4" fill="#FFC81E"/>
<rect x="609.1" y="453.6" width="10.4" height="10.4" fill="#FF7912"/>
<rect x="619.1" y="453.6" width="10.4" height="10.4" fill="#E67842"/>
<rect x="629.2" y="453.6" width="20.5" height="10.4" fill="#E6B342"/>
<rect x="649.3" y="453.6" width="10.4" height="10.4" fill="#C4A142"/>
<rect x="659.3" y="453.6" width="10.4" height="10.4" fill="#FF6600"/>
<rect x="669.3" y="453.6" width="10.4" height="10.4" fill="#EA4200"/>
<rect x="679.4" y="453.6" width="10.4" height="10.4" fill="#FFB60D"/>
<rect x="689.4" y="453.6" width="10.4" height="10.4" fill="#FFA10D"/>
<rect x="699.5" y="453.6" width="10.4" height="10.4" fill="#FFB60D"/>
<rect x="709.5" y="453.6" width="10.4" height="10.4" fill="#FFBC14"/>
<rect x="719.5" y="453.6" width="10.4" height="10.4" fill="#DEC466"/>
<rect x="729.6" y="453.6" width="10.4" height="10.4" fill="#FFBC14"/>
<rect x="739.6" y="453.6" width="10.4" height="10.4" fill="#FFB60D"/>
<rect x="749.7" y="453.6" width="10.4" height="10.4" fill="#FFC81E"/>
<rect x="759.7" y="453.6" width="10.4" height="10.4" fill="#DACB75"/>
<rect x="769.8" y="453.6" width="10.4" height="10.4" fill="#2AC4FF"/>
<rect x="56.8" y="463.7" width="10.4" height="10.4" fill="#CAE1CA"/>
<rect x="66.8" y="463.7" width="10.4" height="10.4" fill="#ADDBFF"/>
<rect x="76.9" y="463.7" width="10.4" height="10.4" fill="#76CDFF"/>
<rect x="86.9" y="463.7" width="10.4" height="10.4" fill="#ADDBFF"/>
<rect x="97.0" y="463.7" width="10.4" height="10.4" fill="#98D1B7"/>
<rect x="107.0" y="463.7" width="10.4" height="10.4" fill="#7AC0BD"/>
<rect x="117.0" y="463.7" width="30.5" height="10.4" fill="#FFB60D"/>
<rect x="147.2" y="463.7" width="10.4" height="10.4" fill="#FFBC14"/>
<rect x="157.2" y="463.7" width="10.4" height="10.4" fill="#FFAB12"/>
<rect x="167.3" y="463.7" width="20.5" height="10.4" fill="#FF9900"/>
<rect x="187.3" y="463.7" width="20.5" height="10.4" fill="#FF9100"/>
<rect x="207.4" y="463.7" width="10.4" height="10.4" fill="#FF9900"/>
<rect x="217.5" y="463.7" width="10.4" height="10.4" fill="#E6C554"/>
<rect x="227.5" y="463.7" width="10.4" height="10.4" fill="#DACB75"/>
<rect x="237.6" y="463.7" width="30.5" height="10.4" fill="#FFB60D"/>
<rect x="267.7" y="463.7" width="10.4" height="10.4" fill="#FFBC14"/>
<rect x="277.7" y="463.7" width="10.4" height="10.4" fill="#FFA10D"/>
<rect x="287.8" y="463.7" width="10.4" height="10.4" fill="#FF9900"/>
<rect x="297.8" y="463.7" width="10.4" height="10.4" fill="#FF9100"/>
<rect x="307.8" y="463.7" width="20.5" height="10.4" fill="#FF8500"/>
<rect x="327.9" y="463.7" width="10.4" height="10.4" fill="#FFA412"/>
<rect x="338.0" y="463.7" width="10.4" height="10.4" fill="#B9D5CA"/>
<rect x="348.0" y="463.7" width="10.4" height="10.4" fill="#E6C756"/>
<rect x="358.1" y="463.7" width="10.4" height="10.4" fill="#FFBC14"/>
<rect x="368.1" y="463.7" width="10.4" height="10.4" fill="#FFB60D"/>
<rect x="378.1" y="463.7" width="10.4" height="10.4" fill="#FF8500"/>
<rect x="388.2" y="463.7" width="10.4" height="10.4" fill="#FF9100"/>
<rect x="398.2" y="463.7" width="10.4" height="10.4" fill="#FFB60D"/>
<rect x="408.3" y="463.7" width="10.4" height="10.4" fill="#FFCE25"/>
<rect x="418.3" y="463.7" width="10.4" height="10.4" fill="#FFC81E"/>
<rect x="428.3" y="463.7" width="10.4" height="10.4" fill="#FF8114"/>
<rect x="438.4" y="463.7" width="10.4" height="10.4" fill="#FF5100"/>
<rect x="448.4" y="463.7" width="10.4" height="10.4" fill="#FF4300"/>
<rect x="458.5" y="463.7" width="10.4" height="10.4" fill="#FF7C00"/>
<rect x="468.5" y="463.7" width="10.4" height="10.4" fill="#FF7912"/>
<rect x="478.6" y="463.7" width="10.4" height="10.4" fill="#D27842"/>
<rect x="488.6" y="463.7" width="10.4" height="10.4" fill="#E6C756"/>
<rect x="498.6" y="463.7" width="10.4" height="10.4" fill="#DAC670"/>
<rect x="508.7" y="463.7" width="10.4" height="10.4" fill="#C5D6AF"/>
<rect x="518.7" y="463.7" width="10.4" height="10.4" fill="#3EC6FF"/>
<rect x="528.8" y="463.7" width="10.4" height="10.4" fill="#62CBFF"/>
<rect x="538.8" y="463.7" width="10.4" height="10.4" fill="#76CDFF"/>
<rect x="548.8" y="463.7" width="10.4" height="10.4" fill="#98D1B7"/>
<rect x="558.9" y="463.7" width="10.4" height="10.4" fill="#FFCE25"/>
<rect x="568.9" y="463.7" width="20.5" height="10.4" fill="#FFC81E"/>
<rect x="589.0" y="463.7" width="30.5" height="10.4" fill="#FFCE25"/>
<rect x="619.1" y="463.7" width="20.5" height="10.4" fill="#F3BC42"/>
<rect x="639.2" y="463.7" width="10.4" height="10.4" fill="#FFB60D"/>
<rect x="649.3" y="463.7" width="10.4" height="10.4" fill="#FF9100"/>
<rect x="659.3" y="463.7" width="20.5" height="10.4" fill="#FF9900"/>
<rect x="679.4" y="463.7" width="10.4" height="10.4" fill="#DAB863"/>
<rect x="689.4" y="463.7" width="10.4" height="10.4" fill="#FF9900"/>
<rect x="699.5" y="463.7" width="10.4" height="10.4" fill="#FFA10D"/>
<rect x="709.5" y="463.7" width="10.4" height="10.4" fill="#E6C756"/>
<rect x="719.5" y="463.7" width="10.4" height="10.4" fill="#E6D967"/>
<rect x="729.6" y="463.7" width="10.4" height="10.4" fill="#DAC670"/>
<rect x="739.6" y="463.7" width="10.4" height="10.4" fill="#E6C756"/>
<rect x="749.7" y="463.7" width="10.4" height="10.4" fill="#DAC670"/>
<rect x="759.7" y="463.7" width="10.4" height="10.4" fill="#E6D967"/>
<rect x="769.8" y="463.7" width="10.4" height="10.4" fill="#B9D5CA"/>
<rect x="56.8" y="473.7" width="10.4" height="10.4" fill="#76CDFF"/>
<rect x="66.8" y="473.7" width="30.5" height="10.4" fill="#2AC4FF"/>
<rect x="97.0" y="473.7" width="10.4" height="10.4" fill="#76CDFF"/>
<rect x="107.0" y="473.7" width="10.4" height="10.4" fill="#DACB75"/>
<rect x="117.0" y="473.7" width="10.4" height="10.4" fill="#FFB60D"/>
<rect x="127.1" y="473.7" width="10.4" height="10.4" fill="#FFC81E"/>
<rect x="137.1" y="473.7" width="10.4" height="10.4" fill="#FFB60D"/>
<rect x="147.2" y="473.7" width="20.5" height="10.4" fill="#FF9900"/>
<rect x="167.3" y="473.7" width="10.4" height="10.4" fill="#FF8500"/>
<rect x="177.3" y="473.7" width="10.4" height="10.4" fill="#FF9900"/>
<rect x="187.3" y="473.7" width="10.4" height="10.4" fill="#FF9100"/>
<rect x="197.4" y="473.7" width="10.4" height="10.4" fill="#FF9900"/>
<rect x="207.4" y="473.7" width="10.4" height="10.4" fill="#FFAB12"/>
<rect x="217.5" y="473.7" width="20.5" height="10.4" fill="#FFC81E"/>
<rect x="237.6" y="473.7" width="10.4" height="10.4" fill="#FFCE25"/>
<rect x="247.6" y="473.7" width="10.4" height="10.4" fill="#FFBC14"/>
<rect x="257.6" y="473.7" width="10.4" height="10.4" fill="#FFCE25"/>
<rect x="267.7" y="473.7" width="10.4" height="10.4" fill="#FFC81E"/>
<rect x="277.7" y="473.7" width="20.5" height="10.4" fill="#FFD353"/>
<rect x="297.8" y="473.7" width="10.4" height="10.4" fill="#FFCE25"/>
<rect x="307.8" y="473.7" width="20.5" height="10.4" fill="#DAD882"/>
<rect x="327.9" y="473.7" width="10.4" height="10.4" fill="#E6D967"/>
<rect x="338.0" y="473.7" width="10.4" height="10.4" fill="#C5D6AF"/>
<rect x="348.0" y="473.7" width="10.4" height="10.4" fill="#B9D5CA"/>
<rect x="358.1" y="473.7" width="20.5" height="10.4" fill="#C5D6AF"/>
<rect x="378.1" y="473.7" width="10.4" height="10.4" fill="#62CBFF"/>
<rect x="388.2" y="473.7" width="10.4" height="10.4" fill="#88D9FF"/>
<rect x="398.2" y="473.7" width="10.4" height="10.4" fill="#44B2FF"/>
<rect x="408.3" y="473.7" width="20.5" height="10.4" fill="#62CBFF"/>
<rect x="428.3" y="473.7" width="10.4" height="10.4" fill="#83BCA6"/>
<rect x="438.4" y="473.7" width="10.4" height="10.4" fill="#CE92A6"/>
<rect x="448.4" y="473.7" width="10.4" height="10.4" fill="#F3BC56"/>
<rect x="458.5" y="473.7" width="10.4" height="10.4" fill="#FFC81E"/>
<rect x="468.5" y="473.7" width="10.4" height="10.4" fill="#EFD066"/>
<rect x="478.6" y="473.7" width="10.4" height="10.4" fill="#FFCE25"/>
<rect x="488.6" y="473.7" width="10.4" height="10.4" fill="#62CBFF"/>
<rect x="498.6" y="473.7" width="10.4" height="10.4" fill="#73D7FF"/>
<rect x="508.7" y="473.7" width="10.4" height="10.4" fill="#62CBFF"/>
<rect x="518.7" y="473.7" width="10.4" height="10.4" fill="#3EC6FF"/>
<rect x="528.8" y="473.7" width="10.4" height="10.4" fill="#2AC4FF"/>
<rect x="538.8" y="473.7" width="10.4" height="10.4" fill="#3EC6FF"/>
<rect x="548.8" y="473.7" width="10.4" height="10.4" fill="#75D4FF"/>
<rect x="558.9" y="473.7" width="10.4" height="10.4" fill="#B0B26D"/>
<rect x="568.9" y="473.7" width="10.4" height="10.4" fill="#FFB60D"/>
<rect x="579.0" y="473.7" width="10.4" height="10.4" fill="#FFBC14"/>
<rect x="589.0" y="473.7" width="10.4" height="10.4" fill="#FFB60D"/>
<rect x="599.0" y="473.7" width="10.4" height="10.4" fill="#FF9100"/>
<rect x="609.1" y="473.7" width="30.5" height="10.4" fill="#FF9900"/>
<rect x="639.2" y="473.7" width="10.4" height="10.4" fill="#FF6800"/>
<rect x="649.3" y="473.7" width="10.4" height="10.4" fill="#FF5700"/>
<rect x="659.3" y="473.7" width="10.4" height="10.4" fill="#FF9100"/>
<rect x="669.3" y="473.7" width="10.4" height="10.4" fill="#2AC4FF"/>
<rect x="679.4" y="473.7" width="10.4" height="10.4" fill="#62CBFF"/>
<rect x="689.4" y="473.7" width="10.4" height="10.4" fill="#DAE0A9"/>
<rect x="699.5" y="473.7" width="10.4" height="10.4" fill="#BEE7FF"/>
<rect x="709.5" y="473.7" width="10.4" height="10.4" fill="#DACE97"/>
<rect x="719.5" y="473.7" width="10.4" height="10.4" fill="#CECCA6"/>
<rect x="729.6" y="473.7" width="10.4" height="10.4" fill="#ADDBFF"/>
<rect x="739.6" y="473.7" width="10.4" height="10.4" fill="#98BEA6"/>
<rect x="749.7" y="473.7" width="10.4" height="10.4" fill="#83BCA6"/>
<rect x="759.7" y="473.7" width="10.4" height="10.4" fill="#83CEB7"/>
<rect x="769.8" y="473.7" width="10.4" height="10.4" fill="#76CDFF"/>
<rect x="56.8" y="483.8" width="10.4" height="10.4" fill="#ADDBFF"/>
<rect x="66.8" y="483.8" width="10.4" height="10.4" fill="#75D4FF"/>
<rect x="76.9" y="483.8" width="10.4" height="10.4" fill="#81CECA"/>
<rect x="86.9" y="483.8" width="10.4" height="10.4" fill="#C5D6AF"/>
<rect x="97.0" y="483.8" width="10.4" height="10.4" fill="#DECB6D"/>
<rect x="107.0" y="483.8" width="10.4" height="10.4" fill="#DEC466"/>
<rect x="117.0" y="483.8" width="10.4" height="10.4" fill="#FFB60D"/>
<rect x="127.1" y="483.8" width="10.4" height="10.4" fill="#FF9900"/>
<rect x="137.1" y="483.8" width="10.4" height="10.4" fill="#FF9100"/>
<rect x="147.2" y="483.8" width="20.5" height="10.4" fill="#FF9900"/>
<rect x="167.3" y="483.8" width="10.4" height="10.4" fill="#FF9100"/>
<rect x="177.3" y="483.8" width="40.6" height="10.4" fill="#FF9900"/>
<rect x="217.5" y="483.8" width="10.4" height="10.4" fill="#FFB60D"/>
<rect x="227.5" y="483.8" width="10.4" height="10.4" fill="#FFC81E"/>
<rect x="237.6" y="483.8" width="20.5" height="10.4" fill="#FFB60D"/>
<rect x="257.6" y="483.8" width="10.4" height="10.4" fill="#FFC81E"/>
<rect x="267.7" y="483.8" width="10.4" height="10.4" fill="#FFCE25"/>
<rect x="277.7" y="483.8" width="30.5" height="10.4" fill="#FFC81E"/>
<rect x="307.8" y="483.8" width="10.4" height="10.4" fill="#E6D967"/>
<rect x="317.9" y="483.8" width="10.4" height="10.4" fill="#ADDBFF"/>
<rect x="327.9" y="483.8" width="10.4" height="10.4" fill="#B4E0FF"/>
<rect x="338.0" y="483.8" width="10.4" height="10.4" fill="#CEDFB7"/>
<rect x="348.0" y="483.8" width="10.4" height="10.4" fill="#ADDBFF"/>
<rect x="358.1" y="483.8" width="10.4" height="10.4" fill="#B4E0FF"/>
<rect x="368.1" y="483.8" width="10.4" height="10.4" fill="#C5ECFF"/>
<rect x="378.1" y="483.8" width="10.4" height="10.4" fill="#76CDFF"/>
<rect x="388.2" y="483.8" width="10.4" height="10.4" fill="#08B2FF"/>
<rect x="398.2" y="483.8" width="10.4" height="10.4" fill="#1D95F7"/>
<rect x="408.3" y="483.8" width="10.4" height="10.4" fill="#1699FF"/>
<rect x="418.3" y="483.8" width="10.4" height="10.4" fill="#ADDBFF"/>
<rect x="428.3" y="483.8" width="10.4" height="10.4" fill="#B4E0FF"/>
<rect x="438.4" y="483.8" width="10.4" height="10.4" fill="#DECB6D"/>
<rect x="448.4" y="483.8" width="10.4" height="10.4" fill="#EFD066"/>
<rect x="458.5" y="483.8" width="10.4" height="10.4" fill="#FFCE25"/>
<rect x="468.5" y="483.8" width="10.4" height="10.4" fill="#E6D967"/>
<rect x="478.6" y="483.8" width="10.4" height="10.4" fill="#98DCEC"/>
<rect x="488.6" y="483.8" width="10.4" height="10.4" fill="#62CBFF"/>
<rect x="498.6" y="483.8" width="20.5" height="10.4" fill="#3EC6FF"/>
<rect x="518.7" y="483.8" width="10.4" height="10.4" fill="#A6C46D"/>
<rect x="528.8" y="483.8" width="20.5" height="10.4" fill="#DEC466"/>
<rect x="548.8" y="483.8" width="10.4" height="10.4" fill="#FFCE25"/>
<rect x="558.9" y="483.8" width="10.4" height="10.4" fill="#FFAB12"/>
<rect x="568.9" y="483.8" width="10.4" height="10.4" fill="#FF9900"/>
<rect x="579.0" y="483.8" width="10.4" height="10.4" fill="#FF9100"/>
<rect x="589.0" y="483.8" width="10.4" height="10.4" fill="#FF9900"/>
<rect x="599.0" y="483.8" width="10.4" height="10.4" fill="#E6C554"/>
<rect x="609.1" y="483.8" width="10.4" height="10.4" fill="#76CDFF"/>
<rect x="619.1" y="483.8" width="10.4" height="10.4" fill="#98BEA6"/>
<rect x="629.2" y="483.8" width="10.4" height="10.4" fill="#DAB863"/>
<rect x="639.2" y="483.8" width="10.4" height="10.4" fill="#FFA10D"/>
<rect x="649.3" y="483.8" width="10.4" height="10.4" fill="#EA7B0D"/>
<rect x="659.3" y="483.8" width="10.4" height="10.4" fill="#E6C756"/>
<rect x="669.3" y="483.8" width="10.4" height="10.4" fill="#E6C554"/>
<rect x="679.4" y="483.8" width="10.4" height="10.4" fill="#CECCA6"/>
<rect x="689.4" y="483.8" width="10.4" height="10.4" fill="#ADDBFF"/>
<rect x="699.5" y="483.8" width="20.5" height="10.4" fill="#76CDFF"/>
<rect x="719.5" y="483.8" width="10.4" height="10.4" fill="#62CBFF"/>
<rect x="729.6" y="483.8" width="10.4" height="10.4" fill="#76CDFF"/>
<rect x="739.6" y="483.8" width="10.4" height="10.4" fill="#3EC6FF"/>
<rect x="749.7" y="483.8" width="10.4" height="10.4" fill="#ADDBFF"/>
<rect x="759.7" y="483.8" width="10.4" height="10.4" fill="#D2DFAF"/>
<rect x="769.8" y="483.8" width="10.4" height="10.4" fill="#94DCCA"/>
<rect x="56.8" y="493.8" width="10.4" height="10.4" fill="#FFB60D"/>
<rect x="66.8" y="493.8" width="10.4" height="10.4" fill="#FF9900"/>
<rect x="76.9" y="493.8" width="10.4" height="10.4" fill="#FF5100"/>
<rect x="86.9" y="493.8" width="10.4" height="10.4" fill="#FF4300"/>
<rect x="97.0" y="493.8" width="20.5" height="10.4" fill="#F00000"/>
<rect x="117.0" y="493.8" width="10.4" height="10.4" fill="#FF5100"/>
<rect x="127.1" y="493.8" width="10.4" height="10.4" fill="#FFA814"/>
<rect x="137.1" y="493.8" width="30.5" height="10.4" fill="#FFBC14"/>
<rect x="167.3" y="493.8" width="10.4" height="10.4" fill="#FFB60D"/>
<rect x="177.3" y="493.8" width="10.4" height="10.4" fill="#FFBC14"/>
<rect x="187.3" y="493.8" width="10.4" height="10.4" fill="#C5D6AF"/>
<rect x="197.4" y="493.8" width="10.4" height="10.4" fill="#2AC4FF"/>
<rect x="207.4" y="493.8" width="10.4" height="10.4" fill="#62CBFF"/>
<rect x="217.5" y="493.8" width="10.4" height="10.4" fill="#76CDFF"/>
<rect x="227.5" y="493.8" width="10.4" height="10.4" fill="#BEE7FF"/>
<rect x="237.6" y="493.8" width="10.4" height="10.4" fill="#FFF08E"/>
<rect x="247.6" y="493.8" width="10.4" height="10.4" fill="#E6E6A2"/>
<rect x="257.6" y="493.8" width="10.4" height="10.4" fill="#88D9FF"/>
<rect x="267.7" y="493.8" width="10.4" height="10.4" fill="#62CBFF"/>
<rect x="277.7" y="493.8" width="10.4" height="10.4" fill="#2AC4FF"/>
<rect x="287.8" y="493.8" width="10.4" height="10.4" fill="#3EC6FF"/>
<rect x="297.8" y="493.8" width="10.4" height="10.4" fill="#75D4FF"/>
<rect x="307.8" y="493.8" width="10.4" height="10.4" fill="#7CD9FF"/>
<rect x="317.9" y="493.8" width="10.4" height="10.4" fill="#C5ECFF"/>
<rect x="327.9" y="493.8" width="10.4" height="10.4" fill="#558CF3"/>
<rect x="338.0" y="493.8" width="10.4" height="10.4" fill="#1F49E2"/>
<rect x="348.0" y="493.8" width="10.4" height="10.4" fill="#1699FF"/>
<rect x="358.1" y="493.8" width="10.4" height="10.4" fill="#12A0FF"/>
<rect x="368.1" y="493.8" width="10.4" height="10.4" fill="#A68459"/>
<rect x="378.1" y="493.8" width="10.4" height="10.4" fill="#E82600"/>
<rect x="388.2" y="493.8" width="10.4" height="10.4" fill="#E80000"/>
<rect x="398.2" y="493.8" width="10.4" height="10.4" fill="#DB0000"/>
<rect x="408.3" y="493.8" width="10.4" height="10.4" fill="#EA1D00"/>
<rect x="418.3" y="493.8" width="10.4" height="10.4" fill="#E63742"/>
<rect x="428.3" y="493.8" width="10.4" height="10.4" fill="#76CDFF"/>
<rect x="438.4" y="493.8" width="10.4" height="10.4" fill="#98BEA6"/>
<rect x="448.4" y="493.8" width="10.4" height="10.4" fill="#83BCA6"/>
<rect x="458.5" y="493.8" width="10.4" height="10.4" fill="#FF8500"/>
<rect x="468.5" y="493.8" width="10.4" height="10.4" fill="#FF7D00"/>
<rect x="478.6" y="493.8" width="10.4" height="10.4" fill="#FF5100"/>
<rect x="488.6" y="493.8" width="10.4" height="10.4" fill="#FF6600"/>
<rect x="498.6" y="493.8" width="10.4" height="10.4" fill="#FF4300"/>
<rect x="508.7" y="493.8" width="10.4" height="10.4" fill="#F02600"/>
<rect x="518.7" y="493.8" width="10.4" height="10.4" fill="#FF4300"/>
<rect x="528.8" y="493.8" width="10.4" height="10.4" fill="#FF7D00"/>
<rect x="538.8" y="493.8" width="10.4" height="10.4" fill="#FF9900"/>
<rect x="548.8" y="493.8" width="10.4" height="10.4" fill="#FF6600"/>
<rect x="558.9" y="493.8" width="10.4" height="10.4" fill="#FF5100"/>
<rect x="568.9" y="493.8" width="10.4" height="10.4" fill="#F02600"/>
<rect x="579.0" y="493.8" width="10.4" height="10.4" fill="#E82600"/>
<rect x="589.0" y="493.8" width="10.4" height="10.4" fill="#F00000"/>
<rect x="599.0" y="493.8" width="20.5" height="10.4" fill="#F02600"/>
<rect x="619.1" y="493.8" width="10.4" height="10.4" fill="#D30000"/>
<rect x="629.2" y="493.8" width="10.4" height="10.4" fill="#BB0909"/>
<rect x="639.2" y="493.8" width="10.4" height="10.4" fill="#F00000"/>
<rect x="649.3" y="493.8" width="10.4" height="10.4" fill="#D30000"/>
<rect x="659.3" y="493.8" width="10.4" height="10.4" fill="#AE1616"/>
<rect x="669.3" y="493.8" width="20.5" height="10.4" fill="#A91B1B"/>
<rect x="689.4" y="493.8" width="10.4" height="10.4" fill="#B60E0E"/>
<rect x="699.5" y="493.8" width="10.4" height="10.4" fill="#D30000"/>
<rect x="709.5" y="493.8" width="20.5" height="10.4" fill="#E80000"/>
<rect x="729.6" y="493.8" width="10.4" height="10.4" fill="#F02600"/>
<rect x="739.6" y="493.8" width="10.4" height="10.4" fill="#FF6600"/>
<rect x="749.7" y="493.8" width="10.4" height="10.4" fill="#FF9100"/>
<rect x="759.7" y="493.8" width="10.4" height="10.4" fill="#FF9900"/>
<rect x="769.8" y="493.8" width="10.4" height="10.4" fill="#FFB60D"/>
<rect x="56.8" y="503.8" width="20.5" height="10.4" fill="#EFEDA1"/>
<rect x="76.9" y="503.8" width="20.5" height="10.4" fill="#FFCE25"/>
<rect x="97.0" y="503.8" width="20.5" height="10.4" fill="#FFBC14"/>
<rect x="117.0" y="503.8" width="10.4" height="10.4" fill="#FFC81E"/>
<rect x="127.1" y="503.8" width="10.4" height="10.4" fill="#FFE459"/>
<rect x="137.1" y="503.8" width="10.4" height="10.4" fill="#EDEEA9"/>
<rect x="147.2" y="503.8" width="10.4" height="10.4" fill="#F3EFA2"/>
<rect x="157.2" y="503.8" width="10.4" height="10.4" fill="#D5D1A6"/>
<rect x="167.3" y="503.8" width="10.4" height="10.4" fill="#CEDFB7"/>
<rect x="177.3" y="503.8" width="10.4" height="10.4" fill="#88D9FF"/>
<rect x="187.3" y="503.8" width="10.4" height="10.4" fill="#3EC6FF"/>
<rect x="197.4" y="503.8" width="10.4" height="10.4" fill="#2AC4FF"/>
<rect x="207.4" y="503.8" width="10.4" height="10.4" fill="#62CBFF"/>
<rect x="217.5" y="503.8" width="10.4" height="10.4" fill="#76CDFF"/>
<rect x="227.5" y="503.8" width="20.5" height="10.4" fill="#BEE7FF"/>
<rect x="247.6" y="503.8" width="10.4" height="10.4" fill="#ADDBFF"/>
<rect x="257.6" y="503.8" width="10.4" height="10.4" fill="#76CDFF"/>
<rect x="267.7" y="503.8" width="40.6" height="10.4" fill="#08B2FF"/>
<rect x="307.8" y="503.8" width="10.4" height="10.4" fill="#2AC4FF"/>
<rect x="317.9" y="503.8" width="10.4" height="10.4" fill="#ADDBFF"/>
<rect x="327.9" y="503.8" width="10.4" height="10.4" fill="#C5ECFF"/>
<rect x="338.0" y="503.8" width="10.4" height="10.4" fill="#EFD066"/>
<rect x="348.0" y="503.8" width="10.4" height="10.4" fill="#FFBC14"/>
<rect x="358.1" y="503.8" width="10.4" height="10.4" fill="#FFB60D"/>
<rect x="368.1" y="503.8" width="10.4" height="10.4" fill="#BDC256"/>
<rect x="378.1" y="503.8" width="10.4" height="10.4" fill="#61BCB7"/>
<rect x="388.2" y="503.8" width="10.4" height="10.4" fill="#44B2FF"/>
<rect x="398.2" y="503.8" width="10.4" height="10.4" fill="#08B2FF"/>
<rect x="408.3" y="503.8" width="10.4" height="10.4" fill="#83A8A6"/>
<rect x="418.3" y="503.8" width="10.4" height="10.4" fill="#D5D1A6"/>
<rect x="428.3" y="503.8" width="10.4" height="10.4" fill="#7CD9FF"/>
<rect x="438.4" y="503.8" width="10.4" height="10.4" fill="#81B1BD"/>
<rect x="448.4" y="503.8" width="10.4" height="10.4" fill="#FF9100"/>
<rect x="458.5" y="503.8" width="10.4" height="10.4" fill="#FF6800"/>
<rect x="468.5" y="503.8" width="10.4" height="10.4" fill="#F02600"/>
<rect x="478.6" y="503.8" width="10.4" height="10.4" fill="#E82600"/>
<rect x="488.6" y="503.8" width="10.4" height="10.4" fill="#F00000"/>
<rect x="498.6" y="503.8" width="10.4" height="10.4" fill="#D596A6"/>
<rect x="508.7" y="503.8" width="10.4" height="10.4" fill="#BA92A6"/>
<rect x="518.7" y="503.8" width="10.4" height="10.4" fill="#D5BDA6"/>
<rect x="528.8" y="503.8" width="20.5" height="10.4" fill="#CEB8A6"/>
<rect x="548.8" y="503.8" width="10.4" height="10.4" fill="#D596A6"/>
<rect x="558.9" y="503.8" width="10.4" height="10.4" fill="#BA92A6"/>
<rect x="568.9" y="503.8" width="10.4" height="10.4" fill="#B4A3B2"/>
<rect x="579.0" y="503.8" width="20.5" height="10.4" fill="#C096A6"/>
<rect x="599.0" y="503.8" width="10.4" height="10.4" fill="#A91B1B"/>
<rect x="609.1" y="503.8" width="10.4" height="10.4" fill="#AE1616"/>
<rect x="619.1" y="503.8" width="10.4" height="10.4" fill="#C70D0D"/>
<rect x="629.2" y="503.8" width="10.4" height="10.4" fill="#EA2C00"/>
<rect x="639.2" y="503.8" width="10.4" height="10.4" fill="#FF8500"/>
<rect x="649.3" y="503.8" width="10.4" height="10.4" fill="#CF0909"/>
<rect x="659.3" y="503.8" width="10.4" height="10.4" fill="#C53E58"/>
<rect x="669.3" y="503.8" width="10.4" height="10.4" fill="#DA4C76"/>
<rect x="679.4" y="503.8" width="10.4" height="10.4" fill="#E65587"/>
<rect x="689.4" y="503.8" width="20.5" height="10.4" fill="#A91B1B"/>
<rect x="709.5" y="503.8" width="20.5" height="10.4" fill="#D30000"/>
<rect x="729.6" y="503.8" width="10.4" height="10.4" fill="#FF1D00"/>
<rect x="739.6" y="503.8" width="10.4" height="10.4" fill="#FFA10D"/>
<rect x="749.7" y="503.8" width="10.4" height="10.4" fill="#CECCA6"/>
<rect x="759.7" y="503.8" width="20.5" height="10.4" fill="#D5E3B7"/>
<rect x="56.8" y="513.9" width="10.4" height="10.4" fill="#FFCE25"/>
<rect x="66.8" y="513.9" width="10.4" height="10.4" fill="#FFB60D"/>
<rect x="76.9" y="513.9" width="20.5" height="10.4" fill="#FFD248"/>
<rect x="97.0" y="513.9" width="10.4" height="10.4" fill="#FFE459"/>
<rect x="107.0" y="513.9" width="10.4" height="10.4" fill="#FFE86C"/>
<rect x="117.0" y="513.9" width="10.4" height="10.4" fill="#F3EE9C"/>
<rect x="127.1" y="513.9" width="10.4" height="10.4" fill="#C5ECFF"/>
<rect x="137.1" y="513.9" width="10.4" height="10.4" fill="#BEE7FF"/>
<rect x="147.2" y="513.9" width="20.5" height="10.4" fill="#ADDBFF"/>
<rect x="167.3" y="513.9" width="10.4" height="10.4" fill="#BEE7FF"/>
<rect x="177.3" y="513.9" width="10.4" height="10.4" fill="#CEDFB7"/>
<rect x="187.3" y="513.9" width="10.4" height="10.4" fill="#C5ECFF"/>
<rect x="197.4" y="513.9" width="10.4" height="10.4" fill="#DEF7F1"/>
<rect x="207.4" y="513.9" width="10.4" height="10.4" fill="#CCEBF1"/>
<rect x="217.5" y="513.9" width="10.4" height="10.4" fill="#D2EBEA"/>
<rect x="227.5" y="513.9" width="10.4" height="10.4" fill="#E4F8EA"/>
<rect x="237.6" y="513.9" width="10.4" height="10.4" fill="#D7E2AF"/>
<rect x="247.6" y="513.9" width="20.5" height="10.4" fill="#BEE7FF"/>
<rect x="267.7" y="513.9" width="10.4" height="10.4" fill="#ADDBFF"/>
<rect x="277.7" y="513.9" width="10.4" height="10.4" fill="#B4E0FF"/>
<rect x="287.8" y="513.9" width="10.4" height="10.4" fill="#DEF7F1"/>
<rect x="297.8" y="513.9" width="10.4" height="10.4" fill="#CCEBF1"/>
<rect x="307.8" y="513.9" width="10.4" height="10.4" fill="#D2EBEA"/>
<rect x="317.9" y="513.9" width="10.4" height="10.4" fill="#DEF7F1"/>
<rect x="327.9" y="513.9" width="10.4" height="10.4" fill="#E4F8EA"/>
<rect x="338.0" y="513.9" width="10.4" height="10.4" fill="#EDF9DD"/>
<rect x="348.0" y="513.9" width="10.4" height="10.4" fill="#E4F8EA"/>
<rect x="358.1" y="513.9" width="10.4" height="10.4" fill="#BEE7FF"/>
<rect x="368.1" y="513.9" width="10.4" height="10.4" fill="#C5ECFF"/>
<rect x="378.1" y="513.9" width="10.4" height="10.4" fill="#76CDFF"/>
<rect x="388.2" y="513.9" width="10.4" height="10.4" fill="#34B2FF"/>
<rect x="398.2" y="513.9" width="10.4" height="10.4" fill="#2AC4FF"/>
<rect x="408.3" y="513.9" width="10.4" height="10.4" fill="#76CDFF"/>
<rect x="418.3" y="513.9" width="20.5" height="10.4" fill="#62CBFF"/>
<rect x="438.4" y="513.9" width="20.5" height="10.4" fill="#08B2FF"/>
<rect x="458.5" y="513.9" width="10.4" height="10.4" fill="#1699FF"/>
<rect x="468.5" y="513.9" width="20.5" height="10.4" fill="#08B2FF"/>
<rect x="488.6" y="513.9" width="20.5" height="10.4" fill="#0CABFF"/>
<rect x="508.7" y="513.9" width="30.5" height="10.4" fill="#08B2FF"/>
<rect x="538.8" y="513.9" width="10.4" height="10.4" fill="#2AC4FF"/>
<rect x="548.8" y="513.9" width="10.4" height="10.4" fill="#76CDFF"/>
<rect x="558.9" y="513.9" width="10.4" height="10.4" fill="#C5ECFF"/>
<rect x="568.9" y="513.9" width="10.4" height="10.4" fill="#EDF9DD"/>
<rect x="579.0" y="513.9" width="20.5" height="10.4" fill="#F3DD90"/>
<rect x="599.0" y="513.9" width="10.4" height="10.4" fill="#FFA814"/>
<rect x="609.1" y="513.9" width="10.4" height="10.4" fill="#FFA10D"/>
<rect x="619.1" y="513.9" width="10.4" height="10.4" fill="#FF9100"/>
<rect x="629.2" y="513.9" width="10.4" height="10.4" fill="#FF2B00"/>
<rect x="639.2" y="513.9" width="10.4" height="10.4" fill="#EA4200"/>
<rect x="649.3" y="513.9" width="10.4" height="10.4" fill="#DB0000"/>
<rect x="659.3" y="513.9" width="10.4" height="10.4" fill="#E80000"/>
<rect x="669.3" y="513.9" width="10.4" height="10.4" fill="#F00000"/>
<rect x="679.4" y="513.9" width="10.4" height="10.4" fill="#FF1D00"/>
<rect x="689.4" y="513.9" width="10.4" height="10.4" fill="#FF7D00"/>
<rect x="699.5" y="513.9" width="10.4" height="10.4" fill="#FF8500"/>
<rect x="709.5" y="513.9" width="20.5" height="10.4" fill="#FF9900"/>
<rect x="729.6" y="513.9" width="10.4" height="10.4" fill="#FF9100"/>
<rect x="739.6" y="513.9" width="10.4" height="10.4" fill="#FFB60D"/>
<rect x="749.7" y="513.9" width="10.4" height="10.4" fill="#F3E267"/>
<rect x="759.7" y="513.9" width="10.4" height="10.4" fill="#EDE682"/>
<rect x="769.8" y="513.9" width="10.4" height="10.4" fill="#F3E267"/>
<rect x="56.8" y="523.9" width="30.5" height="10.4" fill="#FFB60D"/>
<rect x="86.9" y="523.9" width="10.4" height="10.4" fill="#FFC81E"/>
<rect x="97.0" y="523.9" width="10.4" height="10.4" fill="#FFD353"/>
<rect x="107.0" y="523.9" width="10.4" height="10.4" fill="#F3EE9C"/>
<rect x="117.0" y="523.9" width="30.5" height="10.4" fill="#DEF7F1"/>
<rect x="147.2" y="523.9" width="10.4" height="10.4" fill="#D5EEEC"/>
<rect x="157.2" y="523.9" width="20.5" height="10.4" fill="#EFF1B4"/>
<rect x="177.3" y="523.9" width="20.5" height="10.4" fill="#FFE459"/>
<rect x="197.4" y="523.9" width="20.5" height="10.4" fill="#FFCE25"/>
<rect x="217.5" y="523.9" width="10.4" height="10.4" fill="#FFE459"/>
<rect x="227.5" y="523.9" width="10.4" height="10.4" fill="#FFCE25"/>
<rect x="237.6" y="523.9" width="10.4" height="10.4" fill="#FFE86C"/>
<rect x="247.6" y="523.9" width="10.4" height="10.4" fill="#FFE459"/>
<rect x="257.6" y="523.9" width="10.4" height="10.4" fill="#F3FAD6"/>
<rect x="267.7" y="523.9" width="10.4" height="10.4" fill="#FFF4A1"/>
<rect x="277.7" y="523.9" width="10.4" height="10.4" fill="#FFF08E"/>
<rect x="287.8" y="523.9" width="10.4" height="10.4" fill="#F3EFA2"/>
<rect x="297.8" y="523.9" width="10.4" height="10.4" fill="#E4F8EA"/>
<rect x="307.8" y="523.9" width="10.4" height="10.4" fill="#F3FAD6"/>
<rect x="317.9" y="523.9" width="10.4" height="10.4" fill="#DEF7F1"/>
<rect x="327.9" y="523.9" width="30.5" height="10.4" fill="#F3FAD6"/>
<rect x="358.1" y="523.9" width="10.4" height="10.4" fill="#DEF7F1"/>
<rect x="368.1" y="523.9" width="10.4" height="10.4" fill="#C5ECFF"/>
<rect x="378.1" y="523.9" width="10.4" height="10.4" fill="#BEE7FF"/>
<rect x="388.2" y="523.9" width="10.4" height="10.4" fill="#B4E0FF"/>
<rect x="398.2" y="523.9" width="10.4" height="10.4" fill="#75D4FF"/>
<rect x="408.3" y="523.9" width="10.4" height="10.4" fill="#B4E0FF"/>
<rect x="418.3" y="523.9" width="30.5" height="10.4" fill="#3EC6FF"/>
<rect x="448.4" y="523.9" width="10.4" height="10.4" fill="#34B2FF"/>
<rect x="458.5" y="523.9" width="10.4" height="10.4" fill="#40A6F4"/>
<rect x="468.5" y="523.9" width="10.4" height="10.4" fill="#1F94F4"/>
<rect x="478.6" y="523.9" width="10.4" height="10.4" fill="#12A0FF"/>
<rect x="488.6" y="523.9" width="30.5" height="10.4" fill="#08B2FF"/>
<rect x="518.7" y="523.9" width="10.4" height="10.4" fill="#2AC4FF"/>
<rect x="528.8" y="523.9" width="10.4" height="10.4" fill="#62CBFF"/>
<rect x="538.8" y="523.9" width="10.4" height="10.4" fill="#ADDBFF"/>
<rect x="548.8" y="523.9" width="10.4" height="10.4" fill="#B4E0FF"/>
<rect x="558.9" y="523.9" width="10.4" height="10.4" fill="#FFF4A1"/>
<rect x="568.9" y="523.9" width="20.5" height="10.4" fill="#FFE459"/>
<rect x="589.0" y="523.9" width="10.4" height="10.4" fill="#FFBC14"/>
<rect x="599.0" y="523.9" width="20.5" height="10.4" fill="#FFB60D"/>
<rect x="619.1" y="523.9" width="10.4" height="10.4" fill="#FFBC14"/>
<rect x="629.2" y="523.9" width="10.4" height="10.4" fill="#FFA814"/>
<rect x="639.2" y="523.9" width="10.4" height="10.4" fill="#FF9900"/>
<rect x="649.3" y="523.9" width="30.5" height="10.4" fill="#FF7D00"/>
<rect x="679.4" y="523.9" width="10.4" height="10.4" fill="#FF9900"/>
<rect x="689.4" y="523.9" width="10.4" height="10.4" fill="#FFB60D"/>
<rect x="699.5" y="523.9" width="10.4" height="10.4" fill="#FFC81E"/>
<rect x="709.5" y="523.9" width="10.4" height="10.4" fill="#FFCE25"/>
<rect x="719.5" y="523.9" width="10.4" height="10.4" fill="#FFD353"/>
<rect x="729.6" y="523.9" width="10.4" height="10.4" fill="#FFF08E"/>
<rect x="739.6" y="523.9" width="10.4" height="10.4" fill="#FFF4A1"/>
<rect x="749.7" y="523.9" width="10.4" height="10.4" fill="#F3EFA2"/>
<rect x="759.7" y="523.9" width="10.4" height="10.4" fill="#EDEEA9"/>
<rect x="769.8" y="523.9" width="10.4" height="10.4" fill="#EDD470"/>
<rect x="56.8" y="534.0" width="361.9" height="10.4" fill="#FFCE25"/>
<rect x="418.3" y="534.0" width="10.4" height="10.4" fill="#F3E267"/>
<rect x="428.3" y="534.0" width="110.9" height="10.4" fill="#FFCE25"/>
<rect x="538.8" y="534.0" width="70.7" height="10.4" fill="#FFBC14"/>
<rect x="609.1" y="534.0" width="10.4" height="10.4" fill="#FFB60D"/>
<rect x="619.1" y="534.0" width="40.6" height="10.4" fill="#FFBC14"/>
<rect x="659.3" y="534.0" width="30.5" height="10.4" fill="#FFB60D"/>
<rect x="689.4" y="534.0" width="70.7" height="10.4" fill="#FFBC14"/>
<rect x="759.7" y="534.0" width="10.4" height="10.4" fill="#FFCE25"/>
<rect x="769.8" y="534.0" width="10.4" height="10.4" fill="#FFBC14"/>
</g>
<g opacity="0.3">
<clipPath id="mapclip"><rect x="56.8" y="182.5" width="723.0" height="361.5"/></clipPath><g clip-path="url(#mapclip)">
<rect x="56.8" y="182.5" width="723.0" height="361.5" fill="#8020E8"/>
<path fill="#000090" fill-rule="evenodd" d="M778.8 545.0 57.8 545.0 55.8 183.5 778.8 181.5 778.8 545.0Z"/>
<path fill="#0000D0" fill-rule="evenodd" d="M778.8 545.0 57.8 545.0 55.8 183.5 778.8 181.5 778.8 545.0ZM665.5 441.1 666.3 439.1 665.0 437.7 663.0 438.7 663.0 440.6 665.0 442.6 665.5 441.1Z"/>
<path fill="#4169E1" fill-rule="evenodd" d="M778.8 545.0 57.8 545.0 55.8 183.5 778.8 181.5 778.8 545.0ZM344.3 289.4 345.0 287.4 343.4 280.2 340.1 287.4 341.4 289.8 343.4 290.4 344.3 289.4ZM665.3 449.1 669.6 439.1 665.0 435.2 661.0 437.1 659.6 439.1 661.1 447.1 663.0 449.6 665.3 449.1Z"/>
<path fill="#1E8CFF" fill-rule="evenodd" d="M778.8 545.0 57.8 545.0 55.8 183.5 778.8 181.5 778.8 545.0ZM344.1 291.3 346.1 287.4 343.4 276.5 341.4 278.4 338.5 287.4 340.8 291.3 344.1 291.3ZM514.9 369.2 517.1 367.2 513.2 365.7 480.6 367.2 483.2 369.3 514.9 369.2ZM666.5 449.1 671.3 439.1 670.2 437.1 665.0 434.0 659.2 437.1 658.3 441.1 659.8 449.1 663.0 451.1 665.0 451.0 666.5 449.1ZM344.4 449.1 343.4 447.1 339.8 449.1 343.4 450.3 344.4 449.1ZM155.0 449.1 151.7 447.4 150.5 449.1 151.7 450.2 155.0 449.1ZM347.6 499.1 343.4 496.8 338.5 499.1 343.4 500.5 347.6 499.1Z"/>
<path fill="#00BFFF" fill-rule="evenodd" d="M778.8 545.0 57.8 545.0 55.8 183.5 778.8 181.5 778.8 545.0ZM514.4 219.4 519.9 217.5 513.2 214.9 493.2 215.7 487.6 217.5 493.2 220.3 514.4 219.4ZM343.8 293.3 345.9 291.3 347.2 287.4 343.4 273.8 341.4 274.8 340.2 277.4 336.8 289.4 337.4 291.5 339.4 293.2 343.8 293.3ZM655.5 281.4 661.1 279.4 663.1 277.4 653.0 275.1 645.0 275.4 639.7 277.4 640.5 279.4 645.0 282.1 655.5 281.4ZM324.3 287.4 321.4 286.1 319.0 287.4 323.4 288.9 324.3 287.4ZM333.5 301.3 334.7 297.3 333.4 295.9 331.5 297.3 331.6 299.3 333.5 301.3ZM314.3 317.3 313.0 317.3 314.3 317.3ZM517.9 373.2 533.1 369.6 544.4 369.2 546.3 367.2 543.1 364.6 533.1 362.6 529.8 359.3 523.2 356.7 513.2 356.8 503.2 359.3 473.2 360.7 460.0 367.2 460.7 369.2 475.2 372.6 505.2 374.8 513.2 374.8 517.9 373.2ZM730.9 389.2 730.5 387.2 724.9 385.7 712.9 385.3 704.5 387.2 707.3 389.2 714.9 390.3 724.9 390.9 730.9 389.2ZM666.2 451.1 672.9 439.1 671.0 436.0 665.0 432.9 661.0 434.1 657.5 437.1 656.7 439.1 656.9 447.1 657.4 449.1 661.0 451.9 665.0 452.4 666.2 451.1ZM92.2 441.1 92.7 439.1 91.8 436.9 86.7 439.1 89.8 440.1 91.8 442.7 92.2 441.1ZM172.1 451.1 175.1 449.1 173.6 445.8 171.6 444.8 167.6 447.1 166.2 449.1 172.1 451.1ZM344.9 451.1 346.5 449.1 343.4 445.0 337.4 446.8 335.0 449.1 341.4 452.5 343.4 452.7 344.9 451.1ZM156.1 451.1 159.3 449.1 157.7 447.1 153.7 445.4 149.7 446.4 147.7 449.1 151.7 452.6 156.1 451.1ZM413.7 489.1 413.3 486.7 403.3 484.5 400.0 487.1 400.9 489.1 413.7 489.1ZM349.1 501.1 353.4 499.6 362.8 499.1 353.4 497.4 343.4 494.1 335.4 496.2 332.2 499.1 335.4 501.1 341.4 502.7 349.1 501.1ZM486.5 529.0 485.7 527.0 482.9 525.0 471.2 521.3 468.6 519.0 458.5 519.0 461.4 529.0 473.2 530.5 486.5 529.0Z"/>
<path fill="#A0D2FF" fill-rule="evenodd" d="M778.8 545.0 57.8 545.0 57.8 232.1 61.8 233.1 64.6 227.4 62.7 217.5 57.8 217.2 55.8 183.5 778.8 181.5 778.8 217.3 764.8 218.9 763.1 227.4 764.8 229.0 778.8 231.6 778.8 545.0ZM498.3 229.4 503.2 227.8 525.2 226.1 534.4 221.4 537.6 217.5 535.1 212.0 531.1 207.8 523.2 206.1 503.2 206.3 473.2 208.8 463.2 211.4 453.3 215.7 451.4 217.5 453.3 220.1 463.2 225.9 473.2 229.6 493.2 231.0 498.3 229.4ZM313.9 325.3 336.3 317.3 333.4 309.3 336.2 305.3 338.2 297.3 345.4 294.3 348.3 289.4 343.4 271.0 340.0 273.4 333.4 291.9 329.4 292.8 327.8 291.3 327.8 287.4 323.4 281.7 313.4 281.4 311.5 287.4 313.3 289.4 323.4 292.1 327.4 291.7 328.9 293.3 327.4 305.3 313.4 308.9 302.8 317.3 301.9 319.3 303.5 324.2 309.5 325.7 313.9 325.3ZM652.8 285.4 664.2 281.4 665.9 277.4 665.0 275.3 663.0 274.1 655.0 272.7 645.0 272.8 637.0 274.5 632.5 277.4 643.0 285.9 652.8 285.4ZM634.8 297.3 632.8 297.3 634.8 297.3ZM366.1 299.3 363.4 297.6 362.1 299.3 363.4 300.1 366.1 299.3ZM263.3 323.3 264.3 319.3 263.5 318.3 261.5 317.4 257.2 319.3 261.5 323.7 263.3 323.3ZM293.5 331.3 297.5 329.3 295.7 327.3 281.5 326.8 279.2 327.3 277.9 329.3 283.5 331.5 293.5 331.3ZM495.8 341.3 503.2 340.6 504.5 337.3 495.9 327.3 490.8 327.3 487.5 329.3 486.3 337.3 489.2 340.1 495.8 341.3ZM735.3 345.3 744.8 341.3 746.4 339.3 746.4 337.3 743.9 329.3 734.9 326.8 733.5 329.3 732.4 339.3 733.5 343.3 735.3 345.3ZM570.0 329.3 565.1 327.7 564.1 329.3 565.1 330.8 570.0 329.3ZM695.0 341.3 696.0 337.3 694.9 334.3 692.9 333.7 682.9 335.0 676.2 337.3 677.0 339.3 682.9 341.0 692.9 342.0 695.0 341.3ZM766.1 343.3 770.0 339.3 764.8 337.1 760.5 339.3 763.7 343.3 764.8 344.1 766.1 343.3ZM153.2 351.3 155.5 349.3 156.0 347.3 151.7 344.6 142.5 349.3 143.4 351.3 145.7 352.1 151.7 352.4 153.2 351.3ZM507.0 381.2 513.2 380.7 523.2 376.0 533.1 374.3 545.1 378.0 553.1 377.8 565.1 373.6 593.1 379.2 595.1 377.5 595.5 375.2 596.1 367.2 595.3 361.3 593.1 357.8 585.1 358.6 573.1 355.0 533.1 352.8 523.2 350.7 513.2 350.8 503.2 352.6 473.2 351.9 463.2 354.0 423.3 356.3 418.9 359.3 416.3 367.2 417.6 369.2 423.3 372.5 443.3 371.4 448.0 375.2 453.3 382.4 463.2 376.9 493.2 377.6 503.2 381.5 507.0 381.2ZM665.5 371.2 666.9 369.2 666.8 367.2 665.0 364.9 656.7 367.2 656.1 369.2 663.0 372.2 665.5 371.2ZM620.7 389.2 626.3 385.2 629.8 379.2 629.0 376.2 625.0 372.7 613.0 378.7 611.0 385.2 609.2 387.2 609.4 389.2 613.0 390.5 620.7 389.2ZM729.4 393.2 734.9 391.7 736.6 389.2 736.8 387.2 734.9 383.9 712.9 380.5 704.9 376.0 701.0 377.2 699.3 379.2 699.2 387.2 699.9 389.2 702.9 391.1 724.9 394.0 729.4 393.2ZM745.4 379.2 750.2 377.2 744.8 375.2 742.9 377.2 745.4 379.2ZM304.3 399.2 307.1 397.2 307.6 393.2 341.4 390.8 343.4 390.0 343.7 387.2 341.4 386.0 311.4 386.5 306.9 389.2 305.5 392.3 301.5 393.5 296.9 397.2 300.1 399.2 304.3 399.2ZM242.4 417.2 245.7 409.2 243.5 407.3 231.6 405.8 226.6 399.2 221.6 396.1 211.6 395.0 205.3 397.2 204.4 399.2 210.8 409.2 221.6 416.2 223.6 417.1 231.6 414.8 239.5 417.5 242.4 417.2ZM94.3 419.2 95.2 417.2 94.7 415.2 91.8 411.1 81.8 412.2 80.7 417.2 81.8 418.9 91.8 420.0 94.3 419.2ZM325.1 419.2 325.4 417.2 323.4 416.3 322.6 419.2 325.1 419.2ZM363.8 439.1 363.4 431.9 361.0 437.1 361.7 439.1 363.8 439.1ZM665.9 453.1 674.7 439.1 672.3 435.2 665.0 431.7 659.8 433.2 655.8 437.1 654.8 447.1 656.2 451.1 659.0 453.1 663.0 454.1 665.9 453.1ZM92.6 449.1 94.8 439.1 93.3 435.2 91.8 433.8 81.8 435.9 80.4 437.1 80.5 439.1 87.8 441.6 90.6 445.1 91.8 450.8 92.6 449.1ZM173.5 453.1 177.6 449.4 177.6 447.1 175.1 443.1 171.6 441.5 161.7 446.4 151.7 443.1 147.7 445.3 145.0 449.1 147.7 452.5 151.7 455.1 161.7 450.8 171.6 453.7 173.5 453.1ZM345.7 453.1 348.5 449.1 348.2 447.1 343.4 442.8 323.1 449.1 341.4 455.1 343.4 455.1 345.7 453.1ZM232.9 459.1 231.6 457.4 223.6 457.0 222.5 459.1 231.6 460.4 232.9 459.1ZM775.9 461.1 778.1 459.1 774.8 457.7 773.2 459.1 774.8 461.9 775.9 461.1ZM514.0 489.1 517.2 481.1 543.1 480.1 548.7 479.1 548.4 477.1 543.1 471.9 526.4 467.1 523.2 467.1 519.6 475.1 517.2 477.6 507.2 482.8 497.2 484.3 495.2 485.3 494.7 487.1 499.3 489.1 514.0 489.1ZM75.5 485.1 98.4 479.1 93.2 475.1 81.8 471.4 71.8 474.5 64.7 479.1 71.8 486.2 75.5 485.1ZM420.1 489.1 420.6 481.1 419.3 479.2 403.3 476.8 396.4 479.1 393.3 481.6 385.8 483.1 384.6 487.1 386.2 489.1 403.3 490.8 413.3 490.8 420.1 489.1ZM682.4 479.1 674.9 478.0 673.9 479.1 674.9 480.2 682.4 479.1ZM746.4 489.1 744.8 487.1 741.6 489.1 746.4 489.1ZM343.5 505.1 353.4 502.4 363.4 502.0 366.8 499.1 365.9 495.1 363.4 491.9 353.4 491.3 333.4 491.6 328.0 495.1 326.6 499.1 329.4 503.6 333.4 505.2 343.5 505.1ZM204.6 511.0 211.7 509.0 212.4 499.1 203.6 498.0 199.6 499.0 196.0 505.1 188.6 509.0 193.6 511.3 204.6 511.0ZM279.6 515.0 293.5 513.4 303.5 513.9 311.4 512.2 316.9 509.0 313.5 503.1 311.4 501.7 300.2 499.1 283.5 497.5 272.5 499.1 269.0 501.1 265.5 505.1 264.1 509.0 271.5 514.8 279.6 515.0ZM404.7 525.0 410.5 519.0 407.8 515.0 406.9 509.0 403.3 507.8 385.2 509.0 384.6 519.0 387.3 521.8 393.3 524.9 403.3 526.4 404.7 525.0ZM479.7 533.0 493.2 531.8 513.2 531.8 532.9 529.0 551.1 519.0 533.1 515.9 503.2 516.2 485.2 517.5 463.2 516.2 453.3 516.8 443.3 513.9 436.3 515.0 433.3 519.4 423.3 519.4 421.7 521.0 420.6 525.0 420.4 529.0 423.3 530.2 443.3 529.9 465.2 532.8 479.7 533.0Z"/>
<path fill="#D2F5FF" fill-rule="evenodd" d="M778.8 545.0 57.8 545.0 57.8 489.6 71.8 490.7 85.7 489.1 101.7 482.9 105.6 479.1 105.8 477.1 105.2 471.1 91.8 464.4 87.8 465.9 69.8 468.2 61.8 471.9 57.8 471.1 57.8 466.0 60.8 463.1 62.2 459.1 57.8 457.5 57.8 357.5 61.8 355.1 71.8 355.1 81.8 357.2 85.8 363.2 91.8 367.2 95.7 361.9 101.7 360.2 107.7 361.5 111.7 364.7 118.8 357.3 117.7 354.1 115.7 352.3 111.7 351.1 109.8 349.3 103.7 348.2 57.8 348.4 57.8 235.7 62.0 237.4 64.9 233.4 66.9 227.4 65.4 217.5 61.8 216.0 57.8 216.3 55.8 183.5 778.8 181.5 778.8 216.5 763.6 217.5 759.9 227.4 764.8 231.7 778.8 235.0 778.8 348.8 774.8 352.2 772.2 349.3 775.1 343.3 775.3 339.3 773.3 337.3 764.8 336.0 757.8 337.3 755.3 339.3 757.7 349.3 756.4 357.3 757.2 359.3 769.5 361.3 774.8 364.2 778.8 358.9 778.8 456.8 774.8 455.4 769.5 459.1 772.0 465.1 774.8 468.9 778.8 467.0 778.8 470.6 774.8 469.4 764.2 479.1 772.8 488.5 778.8 489.5 778.8 545.0ZM586.0 253.4 590.8 247.4 588.6 243.4 583.1 240.1 581.1 237.4 585.1 233.7 593.1 233.7 595.7 227.4 594.7 217.5 593.1 215.7 575.1 213.6 573.1 214.2 568.4 221.4 565.8 223.4 553.1 225.1 549.1 223.4 546.2 219.4 544.9 207.5 535.1 204.6 523.2 203.3 463.2 205.9 451.3 211.2 445.3 217.5 451.3 225.8 459.2 231.1 465.2 233.5 473.2 235.4 483.2 234.5 493.2 237.3 503.2 234.5 513.2 235.7 521.2 238.4 541.1 242.1 549.0 247.4 567.1 250.5 575.1 254.7 583.1 254.7 586.0 253.4ZM665.7 227.4 663.0 224.7 655.0 224.5 652.5 227.4 655.0 228.4 665.7 227.4ZM616.6 227.4 610.9 227.4 613.0 229.2 615.0 229.3 616.6 227.4ZM494.5 247.4 493.2 240.8 492.2 247.4 493.2 248.6 494.5 247.4ZM646.7 289.4 665.0 283.3 666.9 277.4 665.2 273.4 655.0 271.1 635.0 271.4 629.0 270.2 626.5 267.4 631.0 257.4 628.5 253.4 625.0 251.2 615.8 257.4 615.0 267.9 613.2 267.4 611.0 261.1 605.0 258.9 603.0 259.7 595.4 267.4 601.0 269.6 603.8 273.4 605.0 277.4 625.0 279.4 633.0 282.6 643.0 290.0 646.7 289.4ZM697.2 259.4 699.6 257.4 694.9 251.4 692.9 253.3 691.6 257.4 694.9 260.8 697.2 259.4ZM715.3 267.4 715.8 259.4 715.3 257.4 712.9 257.4 714.5 267.4 715.3 267.4ZM286.0 359.3 287.7 357.3 279.8 349.3 279.9 347.3 281.5 345.6 287.5 343.0 293.5 342.5 301.5 349.9 303.5 349.4 306.4 335.3 309.5 331.4 321.4 325.1 339.4 319.8 343.0 317.3 342.7 309.3 340.5 305.3 339.7 299.3 340.3 297.3 347.4 294.5 349.1 289.4 345.4 273.3 343.4 269.4 339.4 271.4 333.4 289.6 331.4 289.4 323.4 279.1 313.4 277.0 311.4 278.1 309.1 287.4 310.2 289.4 313.4 291.4 325.4 295.0 326.8 297.3 325.9 301.3 323.4 304.1 311.4 307.0 299.5 317.2 297.1 321.3 293.5 323.8 273.5 322.6 267.5 316.9 256.9 313.3 251.5 307.1 241.9 307.3 239.2 309.3 234.9 319.3 237.6 324.9 243.9 329.3 247.5 343.0 249.0 345.3 271.5 360.0 281.5 360.5 286.0 359.3ZM637.5 299.3 639.1 297.3 638.6 295.3 635.0 292.7 625.9 297.3 626.7 299.3 631.0 300.7 635.0 300.8 637.5 299.3ZM368.5 303.3 393.3 299.8 395.7 297.3 393.3 296.3 363.4 296.1 358.0 297.3 356.4 299.3 357.4 301.5 361.4 304.1 368.5 303.3ZM423.4 301.3 423.3 296.8 422.3 297.3 422.1 299.3 423.4 301.3ZM545.3 309.3 545.7 307.3 543.1 302.7 540.2 307.3 543.1 310.5 545.3 309.3ZM228.1 319.3 228.0 317.3 225.6 316.3 223.6 315.7 222.5 317.3 223.6 320.8 228.1 319.3ZM687.1 417.2 689.9 409.2 689.7 399.2 686.9 395.9 676.9 391.7 672.6 387.2 671.4 379.2 673.4 371.2 673.4 365.2 671.5 359.3 667.0 354.4 665.8 345.3 666.1 343.3 669.0 342.6 694.9 344.4 696.7 341.3 697.3 337.3 694.9 330.7 678.9 332.5 669.0 334.9 666.0 337.3 665.0 341.9 657.6 337.3 655.0 336.8 651.6 337.3 645.0 340.9 643.0 340.8 636.6 337.3 633.0 337.0 625.0 340.9 615.0 340.4 593.1 342.7 573.1 348.3 570.9 347.3 572.2 339.3 577.1 334.7 579.6 329.3 577.1 327.1 565.1 325.2 563.1 325.4 561.6 327.3 563.0 339.3 560.5 345.3 553.1 347.5 533.1 348.5 523.2 346.4 511.2 346.3 509.2 345.2 508.4 339.3 509.5 333.3 514.3 329.3 518.4 321.3 523.3 317.3 513.2 316.2 503.2 319.3 502.5 321.3 499.2 323.1 473.2 327.8 471.3 329.3 471.9 333.3 474.5 337.3 473.2 341.0 469.2 336.0 467.2 335.5 453.3 336.3 449.3 337.3 446.6 339.3 447.7 347.3 445.3 348.3 433.3 349.2 413.3 356.5 403.3 358.8 393.3 356.7 390.3 359.3 391.4 365.2 397.3 372.2 403.3 374.5 413.3 374.2 423.3 382.1 439.3 382.6 440.8 389.2 443.3 392.0 459.2 390.8 463.2 388.5 467.2 395.7 483.2 398.8 493.5 397.2 501.2 389.2 513.2 385.3 523.2 378.9 533.1 377.1 545.1 381.6 555.1 381.1 563.1 378.2 575.1 381.1 595.1 381.6 597.4 379.2 599.4 359.3 603.0 354.0 607.0 353.7 615.0 356.4 623.5 357.3 624.3 359.3 623.7 367.2 621.0 371.6 611.3 377.2 607.5 383.2 602.1 387.2 603.0 390.8 629.0 402.1 632.2 405.2 635.0 410.6 637.0 405.8 643.0 400.8 665.0 397.5 672.2 403.2 682.9 417.6 684.9 418.6 687.1 417.2ZM556.5 319.3 556.5 317.3 553.1 315.3 550.6 317.3 553.1 320.5 556.5 319.3ZM730.2 395.2 734.9 394.4 736.9 392.7 739.3 383.2 740.9 381.8 754.8 379.9 770.8 380.5 774.0 379.2 774.1 377.2 772.8 374.9 770.8 373.9 760.8 372.0 754.8 368.3 742.9 368.5 734.9 362.3 724.7 359.3 724.5 357.3 738.9 356.4 748.8 353.9 750.8 351.4 753.0 345.3 754.0 339.3 748.8 335.0 744.8 325.2 734.9 322.9 730.7 327.3 726.7 341.3 722.5 349.3 722.1 355.3 720.9 356.4 712.3 357.3 709.6 359.3 719.1 369.2 735.8 371.2 737.3 375.2 737.1 379.2 734.9 380.3 724.9 380.7 717.5 379.2 714.3 377.2 713.1 373.2 710.9 371.6 704.9 370.8 694.9 370.4 692.9 372.0 690.7 377.2 698.9 391.9 724.9 395.8 730.2 395.2ZM153.0 363.2 155.7 356.7 161.7 351.1 166.5 349.3 168.3 347.3 168.3 339.3 166.3 337.3 157.7 333.6 153.9 327.3 151.7 326.4 149.4 329.3 150.9 337.3 147.7 341.3 141.7 344.4 127.7 346.8 122.4 349.3 124.3 359.3 129.7 362.8 141.7 364.8 151.7 365.1 153.0 363.2ZM213.2 349.3 214.8 347.3 217.2 339.3 216.3 335.3 213.6 331.9 211.6 331.5 201.6 335.8 191.6 336.2 188.5 337.3 186.8 339.3 193.6 345.1 201.6 345.1 209.5 349.3 213.2 349.3ZM111.7 429.2 113.5 427.2 115.8 419.2 115.4 415.2 113.8 411.2 110.4 407.2 108.8 401.2 101.7 398.4 96.8 389.2 98.5 379.2 93.7 373.7 91.8 369.3 81.8 371.7 78.5 377.2 82.9 387.2 79.5 393.2 71.1 399.2 71.6 409.2 75.3 413.2 78.0 419.2 79.8 420.2 97.7 423.8 101.7 428.6 111.7 429.2ZM233.9 429.2 236.4 425.2 243.5 421.5 245.6 419.2 248.6 409.2 246.5 407.2 235.6 403.9 229.0 397.2 223.6 394.1 201.4 391.2 189.6 383.5 181.6 376.1 171.6 375.0 161.7 378.7 151.7 372.8 147.3 377.2 147.4 379.2 155.7 389.5 161.7 391.8 171.6 391.2 175.6 392.1 182.1 395.2 186.5 399.2 191.6 402.0 201.6 403.8 207.6 412.6 213.6 414.8 216.9 417.2 220.4 423.2 227.6 426.6 231.6 430.6 233.9 429.2ZM137.2 379.2 137.4 377.2 133.7 375.7 131.7 375.4 127.2 377.2 127.3 379.2 131.7 380.8 137.2 379.2ZM443.3 381.4 441.3 381.0 440.4 379.2 443.3 377.9 443.3 381.4ZM330.8 421.2 335.1 419.2 335.9 417.2 335.2 409.2 336.1 399.2 343.4 395.0 346.3 389.2 343.4 381.6 311.4 381.9 297.5 385.8 289.6 391.2 288.9 397.2 289.9 399.2 293.5 401.1 303.5 401.8 313.4 399.4 321.4 400.8 327.4 403.8 330.0 407.2 329.9 409.2 323.4 411.3 320.2 415.2 319.2 419.2 323.4 422.1 330.8 421.2ZM276.1 389.2 278.0 387.2 275.5 386.0 273.5 385.2 271.3 387.2 273.5 389.7 276.1 389.2ZM775.4 397.2 774.8 392.6 773.5 397.2 774.8 399.1 775.4 397.2ZM125.3 401.2 126.2 399.2 125.3 397.2 121.7 395.2 113.4 399.2 117.7 402.2 121.7 402.7 125.3 401.2ZM143.6 399.2 143.2 397.2 141.7 396.6 140.1 399.2 141.7 400.8 143.6 399.2ZM523.5 399.2 522.7 399.2 523.5 399.2ZM134.5 409.2 135.0 407.2 133.7 405.9 131.7 405.3 129.4 407.2 130.0 409.2 131.7 410.2 134.5 409.2ZM211.6 441.1 214.0 439.1 215.4 429.2 214.2 427.2 207.0 425.2 203.8 423.2 199.6 416.9 191.6 414.7 181.9 417.2 178.6 419.2 183.6 427.8 187.9 431.2 191.6 439.1 211.6 441.1ZM363.8 441.1 365.6 437.1 365.0 429.2 363.4 422.5 361.4 422.2 359.4 423.7 357.8 427.2 358.1 437.1 359.4 439.8 361.4 441.2 363.8 441.1ZM667.0 453.1 672.5 443.1 676.0 439.1 675.6 437.1 671.0 433.2 663.0 431.2 657.9 433.2 654.7 437.1 653.7 439.1 652.8 449.1 655.5 453.1 659.0 454.5 665.0 454.8 667.0 453.1ZM93.3 455.1 95.6 443.1 95.3 435.2 94.2 433.2 91.8 432.0 81.8 434.3 78.9 437.1 79.0 439.1 88.1 443.1 90.4 447.1 91.8 456.3 93.3 455.1ZM157.0 455.1 161.7 452.9 171.6 455.1 175.6 453.5 179.4 449.1 178.1 443.1 175.6 440.6 171.6 439.5 161.7 444.3 151.7 441.9 147.7 443.5 143.9 447.1 143.3 449.1 144.4 451.1 148.5 455.1 151.7 456.5 157.0 455.1ZM345.3 455.1 349.4 449.9 349.6 447.1 347.4 443.5 343.4 441.5 323.4 445.5 321.0 447.1 320.2 449.1 323.4 452.4 335.4 455.5 343.4 456.5 345.3 455.1ZM232.8 463.1 235.0 459.1 233.6 455.7 223.6 452.5 221.6 453.0 219.8 459.1 221.6 461.9 223.6 463.1 231.6 463.9 232.8 463.1ZM519.5 489.1 525.2 485.1 543.1 483.7 562.4 479.1 551.1 467.3 545.1 463.6 525.2 460.8 521.2 462.5 513.8 471.1 509.2 473.8 503.2 475.7 493.2 475.7 487.6 485.1 483.2 489.1 503.2 490.8 513.2 490.5 519.5 489.1ZM111.9 469.1 108.4 469.1 111.9 469.1ZM477.6 535.0 515.2 533.9 553.1 529.7 555.1 529.0 562.4 519.0 545.1 514.6 533.1 513.4 513.2 514.9 503.2 514.2 493.2 516.3 453.3 515.1 447.3 513.0 441.3 509.0 439.0 499.1 434.9 489.1 431.3 483.3 430.1 479.1 426.3 477.1 423.3 475.7 403.3 474.7 393.3 477.6 383.3 476.9 375.7 479.1 374.8 487.1 375.5 489.1 393.3 491.1 413.3 491.8 423.3 489.4 427.3 489.7 430.5 491.1 431.8 497.1 431.3 504.1 429.6 509.0 427.3 512.1 423.3 514.5 413.3 514.7 409.9 509.0 403.3 506.7 390.3 507.1 379.7 509.0 377.6 515.0 374.5 519.0 376.2 525.0 378.2 527.0 403.3 531.7 413.3 529.8 423.3 533.7 443.3 532.8 477.6 535.0ZM685.7 483.1 688.9 481.4 689.9 479.1 684.9 475.6 674.9 475.7 671.6 479.1 674.9 483.4 685.7 483.1ZM756.9 489.1 757.5 487.1 752.8 483.9 741.7 481.1 734.9 477.2 728.9 482.5 722.9 484.3 712.9 484.5 708.9 483.0 704.9 479.7 693.2 487.1 695.1 489.1 734.9 489.9 744.8 491.0 756.9 489.1ZM285.4 519.0 293.5 517.2 303.5 518.3 313.4 517.4 319.4 515.3 329.6 509.0 353.4 504.2 363.4 503.8 367.4 501.5 368.9 499.1 369.1 489.1 365.4 486.1 353.4 480.6 348.4 489.1 341.4 489.6 333.4 487.5 323.4 486.5 321.0 489.1 320.7 493.1 319.4 494.7 303.5 496.1 281.5 494.9 263.5 496.9 259.2 499.1 253.5 505.9 243.9 509.0 253.5 517.8 273.5 520.9 285.4 519.0ZM618.2 489.1 615.0 487.2 611.7 489.1 618.2 489.1ZM217.8 517.0 225.6 515.1 232.5 509.0 232.0 499.1 223.6 496.7 201.6 496.0 194.0 499.1 187.6 504.9 178.0 509.0 179.6 511.7 191.6 517.7 201.6 516.5 217.8 517.0ZM163.7 521.0 170.9 519.0 163.7 517.1 153.7 516.9 143.3 519.0 151.7 523.0 163.7 521.0Z"/>
<path fill="#FFFCC8" fill-rule="evenodd" d="M778.8 545.0 57.8 545.0 57.8 491.7 71.8 492.2 93.9 489.1 99.5 487.1 106.7 483.1 114.5 469.1 111.7 463.4 103.7 461.6 96.8 457.1 96.7 435.2 95.5 431.2 91.8 430.7 81.8 433.3 77.8 437.1 78.1 439.1 85.8 442.2 89.8 446.9 90.4 459.1 87.8 462.2 81.8 464.4 69.8 465.3 65.9 463.1 64.5 459.1 57.8 456.2 57.8 365.0 59.8 363.2 61.8 362.0 71.8 362.2 77.4 367.2 76.1 371.2 70.9 377.2 71.5 379.2 77.8 383.9 79.2 389.2 68.3 399.2 69.4 409.2 75.3 419.2 77.8 420.7 93.7 425.7 99.7 430.1 111.7 430.6 114.8 429.2 116.1 427.2 119.7 412.1 121.7 409.1 131.7 414.7 135.7 413.9 141.7 410.8 145.7 404.3 151.7 398.2 171.6 394.2 177.6 396.7 186.7 403.2 198.7 407.2 201.2 409.2 173.6 416.3 171.3 417.2 170.4 419.2 176.2 423.2 180.1 431.2 187.6 439.7 213.6 447.1 217.6 444.8 221.6 430.0 223.6 430.1 231.0 437.1 233.8 437.1 239.1 427.2 245.1 423.2 247.5 420.1 250.5 409.2 247.5 406.6 235.6 402.0 231.6 396.8 225.6 393.2 205.6 388.1 195.1 381.2 191.9 377.2 193.6 373.1 197.6 370.2 201.6 369.3 211.6 370.7 217.6 370.2 227.2 367.2 225.6 365.4 217.6 361.9 211.6 360.9 201.6 364.6 191.6 363.6 183.6 368.8 177.1 367.2 175.9 359.3 181.6 347.3 183.6 348.5 186.7 353.3 191.6 355.6 211.6 356.5 216.8 355.3 219.1 353.3 220.6 349.3 221.4 337.3 220.7 329.3 221.6 327.3 224.3 329.3 226.6 335.3 231.6 341.0 234.5 347.3 233.6 352.6 229.7 357.3 229.7 361.3 239.5 371.2 241.5 377.6 243.5 378.3 250.2 377.2 257.5 373.2 261.5 367.1 273.5 368.9 281.5 368.7 303.6 361.3 306.9 357.3 307.8 339.3 309.5 335.3 321.4 327.1 343.4 320.3 349.4 310.8 359.4 307.9 383.3 304.8 397.3 299.7 399.0 297.3 393.3 295.0 363.2 295.3 354.6 297.3 349.4 303.2 343.4 304.8 341.4 301.4 341.4 298.1 348.6 295.3 349.6 289.4 345.4 271.2 343.4 268.3 341.4 268.2 339.0 269.4 337.8 271.4 336.5 279.4 333.4 288.0 331.4 287.5 323.4 277.4 313.4 275.9 309.9 277.4 307.6 287.4 308.3 289.4 311.4 291.9 323.4 295.1 325.6 297.3 325.5 299.3 323.4 302.3 311.1 305.3 299.5 314.8 293.5 321.6 273.5 318.4 268.6 315.3 259.5 312.4 253.5 305.7 243.5 304.9 231.6 309.2 223.6 309.4 220.3 317.3 219.6 326.7 211.6 327.3 201.6 330.6 193.6 330.6 183.6 335.1 177.6 334.2 171.6 328.9 161.7 328.3 151.7 322.0 143.2 327.3 143.0 329.3 146.9 337.3 145.7 339.4 139.7 342.2 121.7 346.1 111.7 346.9 61.8 346.3 57.8 345.4 57.8 238.2 61.8 240.0 65.1 237.4 68.4 227.4 67.1 217.5 61.8 215.2 57.8 215.7 55.8 183.5 778.8 181.5 778.8 215.9 764.8 216.2 762.6 217.5 760.5 223.4 757.7 227.4 758.8 229.7 762.8 232.6 778.8 237.2 778.8 344.2 774.8 336.5 764.8 335.3 754.8 337.0 752.8 336.2 748.8 332.1 744.8 323.0 734.9 320.3 729.5 325.3 721.7 345.3 714.9 351.6 704.9 353.2 694.9 352.9 684.9 356.0 674.9 353.7 671.0 349.6 671.1 347.3 674.9 345.5 694.9 346.5 696.5 345.3 697.9 341.3 697.9 333.3 696.9 329.4 694.9 328.0 674.9 330.4 665.0 327.7 653.0 331.9 645.0 332.9 625.0 332.8 585.1 338.3 583.4 337.3 584.7 329.3 582.4 327.3 563.1 323.6 560.6 325.3 560.0 339.3 556.7 343.3 553.1 344.7 543.1 343.0 533.1 344.6 523.2 342.4 513.2 342.5 511.0 339.3 511.2 336.9 516.0 331.3 519.2 324.4 522.9 321.3 531.1 317.3 529.1 316.3 513.2 314.6 503.2 316.8 495.2 321.2 485.2 324.0 473.2 325.2 467.2 324.9 465.2 323.7 463.2 316.3 457.8 317.3 456.3 319.3 463.2 326.0 464.0 327.3 462.3 329.3 443.3 333.7 437.3 341.8 425.1 349.3 413.3 352.7 403.3 353.8 393.3 353.2 387.4 355.3 381.3 361.3 378.7 369.2 381.4 374.8 393.3 380.8 403.3 381.5 413.3 380.4 423.3 391.6 433.3 389.3 443.3 399.3 453.3 397.8 463.2 401.2 495.2 400.7 510.3 397.2 512.4 395.2 513.2 389.2 517.2 385.3 523.2 381.3 533.1 379.5 545.1 383.8 555.1 383.3 563.1 381.1 575.1 383.4 597.1 384.0 599.0 385.2 600.4 391.2 603.0 394.1 615.0 399.5 625.0 402.5 629.1 405.2 631.5 409.2 631.5 417.2 633.0 419.6 635.9 419.2 639.1 409.2 645.0 403.8 653.0 401.7 663.0 400.8 668.4 403.2 679.1 417.2 681.3 419.2 684.9 420.3 689.4 419.2 691.8 417.2 694.1 409.2 693.9 393.2 696.9 394.3 714.9 395.4 724.9 397.1 734.9 396.1 738.9 393.2 740.9 385.2 744.8 382.6 754.8 381.2 768.8 384.0 772.0 387.2 772.3 389.2 768.0 397.2 768.0 399.2 774.8 401.8 777.8 399.2 778.1 397.2 776.5 387.2 778.8 368.1 778.8 455.5 774.8 453.9 767.1 459.1 768.8 469.7 764.8 473.2 754.8 476.9 746.8 478.1 744.8 478.4 734.9 473.5 730.9 475.2 726.9 479.7 722.9 481.2 714.9 481.8 704.9 477.0 694.9 479.6 684.9 473.2 674.9 474.4 670.3 479.1 671.8 483.1 674.9 485.5 684.9 486.6 690.2 489.1 694.9 489.7 734.9 490.9 744.8 492.2 764.8 489.2 778.8 491.7 778.8 545.0ZM637.4 301.3 645.0 293.7 665.0 285.0 667.4 279.4 666.4 273.4 663.0 270.9 641.0 269.9 633.9 267.4 639.0 253.7 645.0 247.9 643.0 246.4 633.0 244.5 625.0 244.4 613.0 247.4 603.0 246.1 599.0 244.2 597.1 241.4 596.1 237.4 598.3 231.4 601.0 227.4 598.5 223.4 595.1 212.2 583.1 209.8 573.1 205.6 569.0 207.5 561.5 217.5 554.6 219.4 551.5 217.5 551.2 207.5 548.7 205.5 539.1 202.4 523.2 201.4 463.2 203.5 450.3 207.5 443.3 213.7 441.9 217.5 443.3 222.7 450.7 231.4 459.2 235.9 473.2 240.0 483.2 237.6 485.3 239.4 487.2 247.4 493.2 253.2 498.7 247.4 501.4 241.4 503.2 239.7 505.2 239.7 525.2 242.0 543.1 249.3 561.1 253.3 573.1 260.2 581.1 263.3 584.7 267.4 597.4 271.4 604.1 279.4 623.0 281.4 635.0 286.5 636.2 287.4 635.5 289.4 625.0 294.9 623.0 297.3 623.0 299.3 625.0 302.9 633.0 302.8 637.4 301.3ZM616.5 207.5 615.0 205.4 613.0 204.9 604.0 207.5 613.0 208.3 616.5 207.5ZM655.7 229.4 672.4 227.4 665.0 215.8 663.0 216.1 652.4 223.4 650.4 227.4 653.0 229.2 655.7 229.4ZM616.0 231.4 619.1 229.4 620.0 227.4 613.0 225.4 606.5 227.4 613.0 231.7 616.0 231.4ZM694.9 263.4 704.4 257.4 699.3 249.4 694.9 246.5 691.6 247.4 690.1 249.4 689.2 257.4 691.5 261.4 694.9 263.4ZM735.1 251.4 734.9 246.8 733.9 249.4 734.9 252.7 735.1 251.4ZM717.1 269.4 718.7 267.4 718.6 257.4 714.9 255.2 712.9 255.1 705.5 257.4 709.9 261.4 713.1 269.4 714.9 271.2 717.1 269.4ZM696.0 277.4 694.9 275.5 694.0 277.4 694.9 279.3 696.0 277.4ZM424.9 309.3 430.9 307.3 428.5 305.3 426.5 297.3 423.3 293.0 419.3 296.1 414.4 297.3 421.0 303.3 423.3 309.6 424.9 309.3ZM546.6 311.3 547.2 307.3 543.1 298.2 538.8 303.3 537.9 309.3 539.7 311.3 543.1 312.5 546.6 311.3ZM557.3 321.3 558.5 319.3 558.1 317.3 555.1 314.6 553.1 313.8 549.3 315.3 548.6 317.3 551.1 320.4 553.1 321.8 557.3 321.3ZM163.7 365.5 161.7 365.1 159.0 359.3 161.7 355.5 163.7 355.1 169.6 357.2 170.5 359.3 168.7 363.2 163.7 365.5ZM603.0 383.6 600.7 383.2 599.7 381.2 599.2 367.2 601.1 361.3 605.0 358.2 618.1 361.3 621.0 365.2 620.9 369.2 611.0 375.7 605.0 382.8 603.0 383.6ZM101.7 373.5 97.6 369.2 97.9 367.2 101.7 364.4 106.5 367.2 106.9 369.2 101.7 373.5ZM365.0 441.1 366.6 437.1 366.5 429.2 363.4 417.0 357.6 413.2 353.5 407.2 351.4 406.9 345.4 408.3 343.4 416.2 343.1 399.2 346.0 395.2 348.0 389.2 346.8 383.2 343.5 377.2 343.4 367.0 341.4 366.0 337.4 372.0 330.2 377.2 323.4 378.8 313.4 378.2 291.5 380.1 285.7 377.2 281.5 370.9 273.5 370.5 270.1 373.2 267.3 379.2 266.8 387.2 271.5 392.0 283.5 393.8 286.4 399.2 293.5 403.2 303.5 403.3 313.4 401.8 317.6 403.2 322.2 407.2 322.1 409.2 317.2 417.2 317.1 419.2 319.4 421.7 323.4 423.7 333.4 424.7 339.4 421.9 342.9 419.2 343.4 417.5 353.4 428.8 357.4 440.0 361.4 442.7 363.4 442.9 365.0 441.1ZM726.9 379.3 723.7 379.2 720.5 377.2 724.9 374.5 732.4 377.2 726.9 379.3ZM692.9 393.0 684.9 391.9 679.7 389.2 679.0 387.2 680.7 381.2 682.9 377.1 684.9 376.0 687.2 381.2 693.0 387.2 693.9 391.2 692.9 393.0ZM131.7 395.6 129.7 392.7 123.7 390.8 111.7 393.3 105.8 389.2 105.9 387.2 111.7 383.5 141.7 387.2 141.5 389.2 136.2 391.2 131.7 395.6ZM524.8 403.2 528.4 399.2 527.1 397.0 523.2 395.4 515.2 395.9 513.8 397.2 513.9 399.2 517.2 402.9 523.2 404.2 524.8 403.2ZM757.4 399.2 754.8 398.4 752.0 399.2 757.4 399.2ZM211.6 421.5 208.4 419.2 211.6 416.8 214.7 419.2 213.6 420.9 211.6 421.5ZM705.0 419.2 704.9 417.1 703.3 417.2 705.0 419.2ZM665.3 455.1 667.7 453.1 672.9 443.3 676.9 439.1 676.5 437.1 672.4 433.2 663.0 430.7 657.0 432.9 653.4 437.1 652.2 439.1 651.0 449.1 655.0 454.9 665.3 455.1ZM154.2 457.1 161.7 454.3 171.6 456.0 175.6 454.8 180.5 449.1 179.3 441.1 173.6 437.1 161.7 442.9 151.7 441.1 146.2 443.1 142.5 447.1 142.0 449.1 142.9 451.1 147.7 456.0 151.7 457.6 154.2 457.1ZM515.5 491.1 531.1 486.8 543.1 486.2 553.1 483.9 563.1 481.1 565.9 479.1 565.1 477.0 557.1 469.5 553.1 461.5 539.4 457.1 537.2 455.1 535.5 449.1 537.3 439.1 535.1 436.6 533.1 436.3 530.1 439.1 528.6 443.1 525.2 447.2 523.2 448.0 513.2 446.1 511.5 449.1 513.2 451.9 518.9 455.1 519.3 459.1 510.4 469.1 507.2 471.1 503.2 472.7 493.2 473.2 485.8 483.1 479.4 487.1 478.5 489.1 493.2 491.7 515.5 491.1ZM506.2 439.1 503.2 437.9 496.5 439.1 503.2 440.8 506.2 439.1ZM344.0 457.1 347.4 454.4 350.6 449.1 349.4 444.0 345.4 441.1 341.4 440.8 323.4 443.9 318.9 447.1 318.5 449.1 319.4 450.8 323.4 454.3 337.4 457.3 344.0 457.1ZM233.7 465.1 236.2 459.1 235.0 455.1 233.6 453.5 221.6 448.7 219.6 449.6 218.3 453.1 218.3 459.1 221.6 464.3 231.6 466.3 233.7 465.1ZM424.6 459.1 423.3 458.0 422.4 459.1 423.3 460.5 424.6 459.1ZM522.4 535.0 555.1 531.5 560.0 529.0 563.1 524.8 572.2 519.0 545.1 512.6 535.1 511.8 523.2 512.1 513.2 513.8 503.2 513.0 493.2 515.6 453.3 514.0 446.9 511.0 444.7 509.0 444.6 507.1 445.3 500.6 453.3 499.4 453.3 497.6 443.3 498.2 434.4 479.1 423.3 473.7 403.3 473.3 393.3 476.0 383.3 475.6 373.4 477.4 363.4 477.4 349.4 473.7 343.4 464.8 341.4 467.4 340.1 477.1 338.0 481.1 333.4 482.8 321.4 481.8 317.9 485.1 315.4 490.2 311.4 492.3 303.5 493.9 283.5 493.1 263.5 494.6 257.5 497.1 251.5 501.5 243.5 503.6 241.2 503.1 237.7 499.1 231.6 495.8 201.6 494.7 193.6 497.2 183.6 504.6 165.6 512.0 143.7 512.8 131.7 515.6 126.8 519.0 125.6 523.0 119.6 529.0 123.7 530.0 151.7 530.4 161.7 527.0 171.6 526.0 181.6 519.7 191.6 522.3 201.6 520.1 221.6 521.9 241.5 518.9 263.5 526.6 283.5 524.6 293.5 521.9 301.5 529.0 305.9 529.0 313.4 526.2 318.2 529.0 323.4 529.9 327.6 529.0 331.4 523.6 337.8 519.0 336.3 509.0 353.4 505.3 363.4 505.0 367.4 503.6 369.7 501.1 371.4 494.5 373.4 491.6 383.3 490.8 413.3 492.5 423.3 490.7 428.5 493.1 430.7 499.1 428.0 507.1 423.3 511.5 413.3 511.3 411.9 509.0 403.3 506.1 383.3 506.9 376.7 509.0 373.4 514.7 371.4 515.5 348.1 519.0 353.4 523.0 358.4 529.0 373.4 531.6 403.3 534.0 413.3 532.6 423.3 536.1 433.3 534.7 473.2 536.4 522.4 535.0ZM622.7 489.1 620.3 487.1 615.0 485.6 611.0 486.9 609.0 489.1 615.0 490.6 622.7 489.1Z"/>
<path fill="#FFDC32" fill-rule="evenodd" d="M367.4 353.6 363.4 354.7 353.4 354.7 343.4 348.3 331.4 352.0 313.4 352.0 311.4 348.8 310.2 339.3 311.4 336.4 325.4 327.3 343.4 322.9 347.1 319.3 349.4 315.1 353.4 311.9 363.4 309.9 383.3 308.1 387.3 305.0 401.6 299.3 402.3 297.3 393.3 293.6 363.4 294.5 353.4 296.5 351.4 296.0 345.5 269.4 343.4 267.0 341.4 266.7 336.4 267.4 336.4 277.4 333.4 286.4 331.4 285.8 323.4 275.9 313.4 274.9 307.8 277.4 306.0 287.4 307.5 291.1 311.0 293.3 323.4 296.3 324.5 297.3 324.2 299.3 321.4 301.4 309.5 304.0 304.5 309.3 297.5 314.1 293.5 319.4 291.5 319.6 261.5 311.6 253.5 303.4 243.5 302.8 222.4 307.3 215.9 323.3 207.6 326.5 201.6 327.5 191.6 325.8 187.6 329.4 181.6 331.9 177.7 329.3 173.6 324.6 171.6 323.8 161.7 324.6 151.7 317.8 139.6 325.3 138.7 329.3 142.8 337.3 141.1 339.3 137.7 340.4 111.7 345.2 59.8 344.3 57.8 343.1 57.8 317.4 61.8 317.3 57.8 317.0 57.8 241.1 61.8 242.4 66.6 239.4 68.8 235.4 70.0 227.4 68.9 217.5 61.8 214.5 57.8 215.1 55.8 183.5 780.8 183.5 778.8 215.4 764.8 215.6 762.8 216.6 758.8 223.8 755.5 227.4 756.8 231.0 759.6 233.4 774.1 237.4 778.8 240.2 778.8 316.6 776.8 314.9 774.8 306.6 771.8 309.3 773.1 317.3 778.8 317.4 778.8 340.5 777.3 337.3 774.8 335.4 764.8 334.6 754.0 335.3 749.8 331.3 747.4 323.3 745.8 321.3 734.9 317.4 730.9 319.4 727.6 323.3 720.8 343.3 716.9 346.7 712.9 348.2 704.9 348.4 700.3 347.3 699.1 343.3 699.4 333.3 700.9 329.6 704.6 327.3 698.9 325.1 694.9 324.1 682.9 327.5 665.0 324.6 653.0 327.1 633.0 326.8 625.3 309.3 625.5 307.3 639.0 302.5 647.0 295.9 665.0 286.7 667.6 283.4 668.3 277.4 667.0 271.6 665.0 270.0 645.0 269.0 638.7 267.4 641.6 257.4 648.2 249.4 648.3 247.4 643.0 243.3 633.0 240.2 625.0 240.1 615.0 243.3 605.0 243.7 603.0 243.2 599.3 239.4 599.0 236.3 603.0 230.4 605.0 230.2 613.0 234.0 617.0 234.0 622.3 231.4 623.5 227.4 615.0 224.2 603.0 225.0 599.1 217.5 601.0 212.0 605.0 210.5 615.0 209.7 620.9 207.5 622.0 203.5 629.3 197.5 623.0 196.4 615.0 199.0 605.0 200.4 593.1 206.6 583.1 201.9 575.1 200.1 555.1 202.3 547.1 200.1 535.1 199.1 473.2 200.7 455.2 202.3 440.3 207.5 439.1 215.5 439.9 225.4 442.2 231.4 445.3 234.8 463.2 244.3 475.2 246.4 483.2 249.0 493.2 257.8 503.2 246.6 525.2 244.9 535.1 250.1 557.1 255.4 578.8 267.4 595.1 272.7 603.0 280.9 620.9 283.4 631.3 287.4 623.4 293.3 621.1 297.3 623.2 309.3 619.2 327.3 615.0 328.9 604.2 329.3 562.1 321.3 557.1 314.6 550.5 311.3 543.1 293.3 535.8 299.3 533.1 311.6 513.2 313.0 501.2 316.1 485.2 322.1 475.2 322.9 469.2 320.9 465.2 313.9 463.2 312.4 453.3 313.8 450.4 317.3 449.3 326.4 443.3 328.0 433.3 339.2 424.1 341.3 418.3 347.3 413.3 348.9 379.4 350.5 367.4 353.6ZM661.0 229.4 672.9 229.1 676.4 227.4 672.9 218.6 668.9 213.5 665.0 210.0 655.0 206.6 653.4 207.5 654.8 217.5 650.8 221.4 648.4 227.4 653.0 230.4 661.0 229.4ZM716.2 273.4 722.0 267.4 721.9 257.4 719.8 255.4 707.6 251.4 702.9 246.0 694.9 242.9 683.4 247.4 688.1 261.4 690.9 264.7 694.9 266.0 704.9 260.2 708.9 264.4 712.9 272.8 714.9 274.1 716.2 273.4ZM735.6 259.4 737.1 257.4 738.3 247.4 734.9 244.0 730.7 247.4 729.8 257.4 732.9 259.7 735.6 259.4ZM695.9 281.4 698.6 277.4 694.9 271.0 692.9 273.3 692.2 277.4 694.1 281.4 695.9 281.4ZM428.9 311.3 443.3 310.0 445.0 309.3 445.3 307.3 433.3 303.9 430.9 301.3 427.2 293.3 423.3 289.0 421.3 292.5 417.3 295.2 405.9 297.3 407.6 299.3 413.3 300.4 417.3 302.5 423.3 313.0 428.9 311.3ZM345.4 300.1 343.4 301.2 342.5 299.3 343.4 297.7 346.5 299.3 345.4 300.1ZM758.3 313.3 761.1 309.3 760.3 307.3 754.8 305.5 752.2 307.3 752.5 311.3 754.8 314.8 758.3 313.3ZM553.1 341.9 543.1 338.3 533.1 340.4 523.2 338.4 515.2 339.0 514.3 337.3 518.1 335.3 519.6 327.3 523.2 323.5 533.8 319.3 538.8 315.3 543.1 314.6 545.5 315.3 550.3 321.3 557.8 325.3 558.6 329.3 557.9 337.3 555.1 341.2 553.1 341.9ZM688.9 349.4 684.9 350.9 678.8 349.3 684.9 347.3 688.9 349.4ZM778.8 545.0 57.8 545.0 57.8 513.2 61.8 511.6 71.8 510.5 74.3 509.0 71.8 507.8 57.8 506.7 57.8 493.9 71.8 493.7 111.3 487.1 112.2 479.1 116.8 469.1 114.9 463.1 112.0 459.1 112.6 449.1 111.7 447.4 110.3 449.1 109.7 455.7 107.7 456.8 101.7 456.9 99.3 455.1 97.3 449.1 97.6 437.1 98.8 433.2 101.7 431.5 111.7 432.0 115.7 430.5 118.7 427.2 122.1 417.2 131.7 418.8 149.7 419.6 151.2 421.2 153.7 427.7 154.6 427.2 154.6 419.2 148.7 415.2 147.6 409.2 148.5 407.2 151.7 403.8 161.7 404.4 167.6 399.2 171.6 397.3 179.6 403.7 187.1 407.2 188.3 409.2 169.6 413.5 165.6 415.4 164.1 419.2 165.0 421.2 173.6 425.2 175.3 427.2 175.6 430.0 169.6 434.9 166.8 439.1 163.7 440.8 161.7 441.4 151.7 440.3 144.1 443.1 139.3 449.1 143.7 454.6 151.7 458.8 161.7 455.7 173.6 456.7 179.6 453.1 183.6 441.9 198.7 445.1 211.6 450.2 215.2 453.1 217.6 461.1 221.6 466.6 231.6 468.8 233.6 468.3 236.7 463.1 237.0 455.1 235.6 452.3 227.4 449.1 226.8 447.1 227.6 445.1 231.6 442.7 239.5 443.1 241.5 444.5 242.9 443.1 243.6 439.1 241.4 429.2 246.9 425.2 249.5 421.7 252.7 409.2 249.5 406.5 236.8 401.2 230.1 393.2 212.0 387.2 200.3 379.2 200.1 377.2 205.6 374.9 213.6 374.3 223.6 375.3 231.6 373.9 233.6 374.6 237.6 379.2 241.5 380.8 253.5 380.8 257.5 382.0 261.4 385.2 263.9 389.2 271.5 395.1 281.5 398.3 287.5 403.1 291.5 404.9 313.4 404.1 318.3 407.2 318.9 409.2 315.2 417.2 315.4 419.8 318.3 423.2 329.4 426.9 333.4 429.3 343.4 428.2 353.4 434.8 355.4 440.4 357.4 442.5 363.4 444.2 366.1 441.1 367.6 437.1 367.9 427.2 366.8 419.2 364.1 413.2 357.4 405.6 348.1 399.2 349.7 387.2 347.4 377.2 348.1 367.2 351.1 361.3 353.4 359.9 363.4 359.9 369.4 362.5 372.4 367.2 369.6 377.2 371.6 383.2 373.4 384.6 383.3 385.6 407.3 392.3 411.0 395.2 413.3 400.8 423.3 400.1 433.3 396.2 443.3 403.0 453.3 405.6 463.2 404.1 497.2 403.8 501.8 405.2 507.2 409.1 511.1 413.2 513.2 417.6 515.2 418.0 519.9 415.2 532.6 399.2 532.1 397.2 529.8 395.2 521.2 392.3 517.4 389.2 519.2 386.6 525.2 383.3 533.1 383.0 545.1 386.0 563.1 384.1 573.1 385.5 595.1 386.1 597.1 388.7 599.0 395.7 611.8 401.2 623.0 403.9 627.0 406.0 629.2 409.2 630.0 419.2 635.0 421.3 638.1 419.2 641.6 411.2 645.5 407.2 653.0 403.9 663.0 403.1 667.2 405.2 672.9 414.1 678.9 419.7 684.9 421.6 694.9 419.4 699.8 421.2 704.9 424.7 708.9 420.4 708.9 416.0 705.6 409.2 700.1 405.2 697.5 399.2 698.7 397.2 702.9 396.0 714.9 396.4 724.9 398.8 736.9 398.4 744.8 401.6 750.8 402.3 764.8 401.6 774.8 404.5 778.8 401.7 778.8 454.2 774.8 452.5 766.4 457.1 764.4 459.1 762.8 467.5 760.4 469.1 744.8 472.7 736.9 470.2 728.1 469.1 725.6 467.1 724.9 464.9 720.9 474.3 717.8 477.1 714.9 477.9 710.9 475.7 706.5 475.1 694.9 476.7 684.9 470.8 672.9 473.9 669.0 479.1 670.4 485.1 672.9 487.1 685.7 489.1 704.9 491.1 734.9 491.8 744.8 493.3 764.8 491.4 778.8 493.9 778.8 506.4 764.8 506.7 754.8 508.3 754.1 509.0 754.8 514.4 762.3 519.0 750.8 527.1 734.5 529.0 764.8 531.2 767.9 529.0 767.0 519.0 774.8 517.0 778.8 514.3 778.8 545.0ZM605.0 380.5 603.0 380.8 601.2 377.2 600.3 369.2 602.0 363.2 605.0 360.7 615.0 362.2 619.0 366.2 619.0 369.2 609.2 375.2 605.0 380.5ZM75.8 463.2 70.6 463.1 66.8 459.1 57.8 455.0 57.8 377.0 59.9 369.2 61.8 366.7 71.8 367.2 72.1 369.2 68.9 371.2 67.0 377.2 67.8 379.2 73.8 383.6 76.7 387.2 75.8 390.3 67.8 396.0 65.5 399.2 67.1 409.2 68.9 413.2 72.7 419.2 75.3 421.2 89.8 426.1 92.1 427.2 92.9 429.2 81.8 432.3 76.8 437.1 77.1 439.1 87.8 444.6 89.8 449.1 89.4 455.1 87.8 458.8 81.8 462.4 75.8 463.2ZM764.8 395.5 742.9 396.1 741.3 393.2 741.4 387.2 744.8 383.9 754.8 382.4 764.8 384.9 768.7 387.2 769.3 389.2 764.8 395.5ZM778.8 390.4 778.8 385.6 778.8 390.4ZM453.8 427.2 454.5 419.2 453.3 417.0 453.3 428.4 453.8 427.2ZM533.7 419.2 532.3 419.2 533.1 420.0 533.7 419.2ZM265.2 431.2 267.3 429.2 265.4 427.2 263.5 426.3 260.6 427.2 259.6 429.2 261.3 431.2 265.2 431.2ZM520.4 491.1 533.1 488.7 545.1 488.3 563.1 483.3 568.3 479.1 566.8 475.1 560.2 469.1 557.3 459.1 555.5 457.1 553.1 455.7 543.1 454.0 540.2 451.1 539.3 447.1 544.3 439.1 544.4 437.1 542.2 433.2 538.5 431.2 533.1 430.6 523.2 438.2 515.2 439.6 503.2 435.5 493.2 435.7 490.9 437.1 489.9 439.1 493.2 442.4 505.4 447.1 506.2 449.1 505.2 450.9 497.5 459.1 499.6 463.1 504.2 467.1 504.4 469.1 493.2 470.8 483.2 482.2 477.2 483.5 473.6 487.1 473.7 489.1 477.2 490.3 493.2 492.9 520.4 491.1ZM655.1 457.1 665.0 455.9 668.5 453.1 672.9 444.1 677.7 439.1 677.5 437.1 674.9 434.1 669.5 431.2 663.0 430.2 657.0 431.9 651.3 437.1 650.0 439.1 649.2 449.1 651.3 455.1 653.0 456.8 655.1 457.1ZM516.6 537.0 555.1 534.0 575.1 525.0 577.8 523.0 580.0 519.0 543.1 510.3 525.2 510.3 513.2 512.6 503.2 511.7 493.2 514.9 473.2 514.7 453.3 512.9 446.7 509.0 449.3 503.3 453.3 501.5 455.5 499.1 453.3 491.8 443.3 487.8 437.8 479.1 423.3 471.7 403.3 471.9 393.3 474.4 373.4 474.7 363.4 474.5 352.7 471.1 346.6 465.1 343.4 459.8 341.5 459.1 343.4 458.9 347.4 455.8 351.5 449.1 351.2 445.1 349.4 441.4 343.4 439.8 321.4 442.6 317.6 445.1 316.8 449.1 318.8 453.1 321.4 455.4 333.4 458.7 341.2 459.1 339.4 460.8 338.4 471.1 335.4 476.7 333.4 478.2 313.4 477.8 310.0 479.1 311.8 487.1 311.6 489.1 309.5 490.0 303.5 491.8 263.5 492.2 251.5 497.0 243.5 498.4 231.6 493.1 199.6 493.7 191.6 496.1 181.6 503.2 163.7 507.8 141.7 507.5 131.7 511.1 115.7 520.0 111.3 525.0 109.8 529.0 113.7 531.6 121.7 533.9 151.7 534.3 161.7 532.4 171.6 532.2 183.6 526.1 191.6 526.9 203.6 524.1 221.6 526.5 233.6 523.9 243.5 526.7 253.5 527.5 263.5 532.6 273.5 530.3 283.5 529.4 303.5 533.7 313.4 532.8 323.4 534.0 333.4 532.7 353.4 532.8 373.4 534.9 403.3 536.2 413.3 535.5 423.3 538.5 433.3 536.6 473.2 537.5 516.6 537.0ZM424.0 463.1 427.7 459.1 423.3 456.0 420.3 459.1 422.5 463.1 423.3 463.8 424.0 463.1ZM617.2 491.1 627.9 489.1 626.1 487.1 615.0 484.0 609.0 486.1 606.3 489.1 613.0 491.5 617.2 491.1ZM353.4 515.2 343.4 513.1 340.6 509.0 353.4 506.5 369.4 505.3 371.2 503.1 373.4 495.0 379.4 492.1 413.3 493.1 423.3 492.0 427.3 494.4 429.5 499.1 427.1 505.1 423.3 508.7 413.3 508.7 403.3 505.4 379.4 506.3 375.4 507.1 371.7 511.0 367.6 513.0 353.4 515.2Z"/>
<path fill="#FFA800" fill-rule="evenodd" d="M95.7 343.5 61.8 343.0 57.8 339.7 57.8 322.2 61.8 325.9 64.4 323.3 66.4 317.3 63.8 309.9 57.8 302.8 57.8 245.5 63.8 245.6 69.6 243.4 75.3 237.4 77.9 231.4 85.8 224.4 93.7 223.4 111.7 224.3 117.7 222.8 123.1 219.4 121.8 217.5 111.7 216.7 82.3 217.5 73.8 218.6 61.8 213.4 57.8 214.2 57.8 181.5 780.8 183.5 778.8 214.5 764.8 214.7 760.8 216.8 756.8 223.5 752.1 227.4 751.6 235.4 749.6 237.4 760.8 239.6 761.9 243.4 762.1 257.4 764.8 260.4 767.3 257.4 767.5 247.4 768.8 245.7 774.8 244.3 778.8 245.2 778.8 300.5 774.8 296.2 764.8 301.3 752.8 302.0 748.0 305.3 744.8 314.3 738.9 311.9 728.9 310.7 724.9 308.3 722.9 308.4 721.9 309.3 723.0 315.3 722.3 319.3 716.9 322.5 712.9 322.5 707.3 319.3 706.0 317.3 707.1 309.3 704.9 308.6 694.9 307.9 694.3 317.3 684.9 321.2 674.9 318.0 665.0 320.2 645.0 321.1 640.8 319.3 631.8 309.3 632.6 307.3 643.0 304.2 655.0 296.5 665.0 298.0 675.0 297.3 677.0 293.3 681.8 289.4 674.9 288.3 670.2 285.4 669.5 273.4 671.0 269.7 672.9 268.8 682.9 268.2 686.9 269.3 689.5 273.4 690.9 283.4 692.9 285.6 698.9 285.7 700.9 285.1 702.1 283.4 702.5 279.4 698.6 267.4 704.9 264.0 707.4 267.4 709.2 275.4 714.9 280.2 722.9 274.6 730.0 267.4 736.9 264.5 740.6 261.4 742.1 257.4 742.6 247.4 740.9 240.8 734.9 239.8 730.0 241.4 726.9 245.2 724.9 251.3 712.6 249.4 709.9 247.4 704.9 238.4 702.9 237.6 694.9 237.6 686.9 239.9 674.7 247.4 682.6 257.4 680.9 263.2 676.9 264.9 662.2 267.4 659.0 266.1 657.1 263.4 653.0 247.4 640.9 237.4 637.1 227.4 619.0 222.8 605.0 221.1 602.3 217.5 607.0 213.7 625.0 209.9 643.0 210.6 645.0 212.6 646.9 217.5 645.3 227.4 647.0 230.9 653.0 232.2 665.0 230.0 674.9 232.3 678.9 230.4 680.7 227.4 676.6 211.5 674.6 207.5 677.6 197.5 672.9 196.3 655.0 196.3 645.0 194.1 625.0 192.4 603.0 194.1 595.1 196.0 583.1 193.9 533.1 194.3 513.2 197.4 443.3 197.5 431.3 204.1 427.7 207.5 434.8 217.5 433.3 224.6 431.0 227.4 430.9 229.4 430.8 237.4 432.9 247.4 453.3 248.4 473.2 251.3 479.2 254.1 487.2 260.2 493.2 268.1 503.2 269.6 503.9 267.4 500.3 261.4 499.9 257.4 503.2 253.7 509.2 251.8 523.2 250.0 533.1 255.5 545.1 256.6 555.1 259.3 575.1 269.3 593.1 275.0 603.0 284.0 615.0 284.9 622.5 287.4 618.2 297.3 615.0 319.7 613.0 320.6 607.6 317.3 608.2 309.3 607.0 307.3 603.0 306.0 595.1 305.5 591.8 307.3 592.8 309.3 597.1 311.6 601.0 315.9 601.7 317.3 599.0 320.1 593.1 322.0 585.1 322.6 573.1 321.8 565.1 319.9 558.8 313.3 552.2 309.3 545.5 289.4 543.1 286.9 539.1 292.0 531.5 297.3 528.7 305.3 525.2 308.7 513.2 310.7 483.2 319.8 472.9 319.3 471.5 317.3 472.6 309.3 463.2 303.9 453.3 306.6 445.3 301.6 433.5 297.3 431.3 289.7 427.3 284.1 425.4 277.4 423.3 275.4 422.2 277.4 420.9 289.4 417.3 292.9 413.3 294.7 403.3 295.1 393.3 291.5 353.4 294.6 351.4 291.8 347.8 279.4 346.4 267.4 343.4 264.7 337.4 262.1 333.4 255.3 325.4 255.0 323.4 255.1 320.7 257.4 328.1 261.4 331.4 269.0 334.0 271.4 335.5 277.4 333.4 283.8 331.4 283.2 326.2 275.4 323.4 273.6 313.4 273.3 306.9 275.4 304.7 277.4 304.2 279.4 303.2 293.3 300.1 297.3 301.9 307.3 295.5 311.2 293.5 313.6 291.5 314.3 273.5 309.8 263.5 309.9 261.5 309.0 258.7 303.3 255.5 300.6 243.5 299.6 221.6 305.0 213.6 321.1 207.6 324.1 201.6 325.4 195.6 322.7 191.6 317.2 184.7 315.3 182.2 311.3 182.1 307.3 191.6 297.3 185.6 295.2 161.7 290.8 151.7 294.9 149.2 297.3 150.2 299.3 164.7 301.3 180.6 307.3 181.5 309.3 178.3 313.3 163.7 319.5 161.7 319.4 151.7 312.5 144.5 311.3 141.7 308.5 139.7 310.2 131.7 311.4 126.6 315.3 125.6 317.3 125.6 323.3 126.1 325.3 127.7 326.5 132.0 327.3 133.8 337.3 113.7 342.5 95.7 343.5ZM273.8 197.5 259.7 197.5 271.5 198.7 273.8 197.5ZM167.5 239.4 175.8 237.4 177.6 234.0 181.6 231.3 184.6 227.4 181.6 226.4 161.7 226.8 143.7 225.4 141.7 225.4 139.7 227.4 138.8 237.4 141.7 240.1 161.7 240.3 167.5 239.4ZM605.0 239.6 602.4 237.4 605.0 235.4 612.2 237.4 605.0 239.6ZM134.0 261.4 137.0 257.4 134.2 253.4 131.7 252.1 123.7 254.5 121.0 257.4 123.2 259.4 131.7 262.7 134.0 261.4ZM133.4 279.4 134.1 277.4 131.7 275.9 121.1 277.4 121.7 280.1 123.7 280.5 131.7 280.5 133.4 279.4ZM62.4 289.4 64.4 287.4 62.8 279.4 61.8 278.8 60.2 287.4 61.3 289.4 62.4 289.4ZM108.6 293.3 112.1 291.3 113.8 287.4 109.7 285.7 101.7 284.8 97.1 287.4 97.0 289.4 101.7 294.8 108.6 293.3ZM474.3 287.4 473.2 285.4 464.9 287.4 473.2 288.6 474.3 287.4ZM319.4 299.4 313.4 300.5 307.5 300.2 305.2 299.3 304.4 297.3 305.5 296.3 311.4 295.8 321.6 297.3 319.4 299.4ZM393.3 342.3 383.3 341.1 363.4 342.4 351.4 337.7 343.4 337.5 331.4 341.5 323.4 341.5 317.9 339.3 319.2 337.3 327.4 333.6 330.1 329.3 333.2 327.3 343.4 326.7 347.4 325.3 353.4 315.9 363.4 313.7 373.4 315.0 383.3 314.6 385.9 313.3 388.7 307.3 403.3 302.2 413.3 302.8 415.3 304.2 418.0 307.3 419.6 315.3 423.3 318.5 433.3 313.9 441.3 315.3 444.7 317.3 443.3 320.7 433.3 331.1 425.3 333.2 413.3 335.5 403.3 325.6 400.1 329.3 396.9 339.3 393.3 342.3ZM553.1 337.5 545.1 335.4 533.1 335.9 529.1 334.7 523.7 331.3 522.9 327.3 543.1 317.7 556.2 327.3 555.1 335.2 553.1 337.5ZM778.8 336.0 774.8 333.7 754.8 333.8 750.6 329.3 750.8 323.0 752.8 320.6 758.8 319.7 766.8 319.6 778.8 321.4 778.8 336.0ZM712.9 345.5 704.9 345.8 701.6 343.3 700.3 337.3 703.2 331.3 704.9 330.4 714.9 330.7 719.5 333.3 720.9 337.3 720.5 339.3 716.9 343.8 712.9 345.5ZM605.0 375.9 603.0 374.5 602.1 369.2 603.0 365.7 605.0 364.1 613.0 364.6 616.6 367.2 616.2 369.2 609.0 372.2 605.0 375.9ZM61.8 397.0 58.6 389.2 61.8 378.6 65.8 383.0 71.8 386.2 72.8 389.2 65.8 392.9 61.8 397.0ZM353.4 394.7 352.5 387.2 353.4 379.0 355.4 381.8 356.3 387.2 355.4 392.1 353.4 394.7ZM113.7 511.4 101.7 512.2 97.7 511.0 95.5 509.0 81.8 508.3 71.8 503.7 57.8 501.5 57.8 497.2 71.8 496.0 101.7 490.7 111.7 490.5 117.8 489.1 120.3 469.1 118.7 459.1 115.7 455.5 113.9 447.1 111.7 444.5 103.7 453.0 101.3 453.1 99.2 449.1 98.6 439.1 99.7 435.4 101.7 433.4 113.7 433.9 119.7 431.4 123.7 426.7 127.7 424.4 131.7 423.3 142.5 423.2 147.2 427.2 149.5 433.2 151.7 435.7 161.7 435.5 163.0 437.1 161.7 439.3 151.7 438.4 143.7 440.5 137.7 443.5 135.1 447.1 134.7 449.1 136.2 453.1 145.0 459.1 149.7 464.8 151.7 465.8 153.7 465.1 158.5 459.1 161.7 457.9 171.6 458.7 177.6 457.5 187.6 448.4 193.6 447.1 205.6 450.5 211.6 454.0 213.9 457.1 216.5 465.1 219.3 469.1 221.6 477.7 223.6 479.2 229.6 480.0 233.6 483.9 235.6 482.0 241.5 481.4 245.6 479.1 241.0 475.1 239.5 471.1 239.3 459.1 241.5 452.7 261.5 448.6 271.5 451.6 278.6 449.1 276.3 439.1 277.4 429.2 276.2 425.2 258.1 419.2 259.1 409.2 256.5 407.2 241.5 401.9 237.6 399.5 233.6 391.4 226.3 387.2 231.6 383.8 253.6 385.2 268.3 397.2 269.8 399.2 271.5 407.2 273.5 408.4 281.5 406.1 291.5 408.9 303.5 407.3 313.4 408.0 314.3 409.2 311.4 414.0 301.1 417.2 300.4 419.2 301.4 427.2 302.8 429.2 304.4 429.2 307.5 424.9 311.4 422.7 317.4 426.7 325.5 429.2 327.4 432.6 330.5 435.2 337.9 437.1 334.3 439.1 321.4 439.5 317.4 434.6 313.4 432.2 310.6 433.2 309.0 437.1 309.7 441.1 313.4 446.2 314.9 453.1 317.1 457.1 334.1 465.1 335.6 469.1 333.4 472.8 331.4 473.6 311.4 474.8 301.5 477.6 283.5 476.4 271.5 477.9 263.5 476.2 259.4 479.1 261.9 487.1 260.8 489.1 253.5 491.2 243.5 492.0 231.6 487.8 230.7 489.1 215.6 491.1 195.6 492.0 187.6 494.6 181.6 500.0 171.6 501.1 141.7 501.2 125.7 507.8 113.7 511.4ZM754.8 393.5 744.8 393.0 742.8 389.2 743.4 387.2 744.8 385.9 754.8 384.4 763.4 387.2 764.8 389.2 760.8 391.9 754.8 393.5ZM527.1 389.4 523.1 389.2 525.2 387.2 529.1 389.2 527.1 389.4ZM459.2 481.4 453.3 482.2 443.3 479.8 437.3 475.4 424.2 469.1 432.2 459.1 429.3 455.5 423.3 453.4 419.3 454.7 417.5 457.1 415.3 466.6 408.3 469.1 393.3 472.0 383.3 472.3 363.4 470.2 351.4 465.4 346.4 459.1 351.2 453.1 353.4 445.9 363.4 446.1 368.8 439.1 370.4 419.2 367.5 407.2 369.4 402.6 373.4 400.4 383.3 398.1 389.3 394.1 393.3 393.2 395.3 393.9 400.8 397.2 401.7 399.2 398.6 409.2 403.3 419.4 413.3 421.3 417.5 419.2 419.3 409.2 420.8 407.2 423.3 405.6 433.3 404.5 443.0 409.2 443.0 417.2 446.6 431.2 449.3 436.7 453.3 441.0 463.2 443.6 467.0 441.1 469.3 437.1 473.2 434.1 482.2 435.2 482.7 439.1 479.2 444.5 477.7 449.1 479.4 459.1 489.2 464.0 491.2 467.0 491.3 469.1 483.2 477.9 473.2 475.9 462.7 479.1 459.2 481.4ZM760.8 545.0 537.2 543.0 537.2 539.0 543.1 537.9 585.1 535.2 589.1 532.2 592.1 527.0 596.2 523.0 597.8 519.0 593.1 515.6 573.1 515.4 543.1 506.1 525.2 507.6 513.2 510.8 503.2 509.8 493.2 513.9 473.2 513.6 453.3 511.2 449.6 509.0 451.3 506.2 457.2 500.8 459.6 493.1 463.2 489.7 475.2 492.5 493.2 494.7 533.1 491.9 543.1 493.0 567.1 484.9 571.1 480.9 572.6 471.1 575.1 469.0 583.1 469.2 593.1 471.2 617.9 469.1 607.0 465.7 603.0 458.9 585.1 457.7 571.1 458.4 565.1 456.9 555.1 449.1 553.7 447.1 554.3 429.2 544.1 415.2 538.2 409.2 538.6 407.2 545.1 400.3 548.2 395.2 553.1 391.3 555.1 391.6 556.5 393.2 557.9 399.2 561.1 403.2 573.1 408.2 577.1 407.3 583.1 402.8 585.1 402.7 593.1 408.3 603.0 404.7 623.8 407.2 625.9 409.2 626.4 419.2 633.0 423.5 639.0 421.9 645.0 413.5 653.0 407.4 663.0 406.6 665.0 407.2 666.3 409.2 668.5 417.2 671.0 419.2 682.9 423.4 694.9 422.9 704.9 430.1 714.9 429.9 724.9 431.8 728.5 429.2 728.6 427.2 726.3 423.2 717.9 419.2 716.9 405.7 710.9 403.0 704.9 401.8 702.5 399.2 704.9 397.8 714.9 398.5 717.2 399.2 717.3 403.2 718.9 404.8 726.9 405.4 734.9 408.9 754.8 406.9 764.8 409.0 774.8 408.8 778.8 407.4 778.8 452.3 774.8 450.3 772.8 450.9 744.8 463.5 734.9 461.7 732.2 459.1 724.9 455.6 717.0 459.1 711.1 469.1 704.9 472.0 694.9 473.1 687.9 469.1 684.9 464.5 680.7 469.1 672.9 471.5 669.0 474.2 666.3 483.1 663.9 487.1 664.0 489.1 684.9 489.8 704.9 492.2 734.9 493.2 744.8 495.0 764.8 494.7 778.8 497.2 778.8 501.4 754.8 504.3 752.8 505.7 749.7 509.0 748.3 519.0 744.8 521.9 724.9 526.6 704.4 529.0 710.9 531.5 732.9 536.2 754.8 536.7 761.3 539.0 760.8 545.0ZM81.8 459.5 71.8 460.5 57.8 453.2 57.8 406.3 61.8 401.1 64.4 411.2 68.1 419.2 73.0 423.2 86.2 427.2 87.3 429.2 77.8 432.5 75.2 437.1 75.8 439.3 85.8 443.9 89.1 449.1 87.8 455.3 85.8 457.7 81.8 459.5ZM513.2 433.5 485.2 430.4 484.1 429.2 485.3 427.2 493.3 419.2 492.9 417.2 489.2 414.8 483.2 413.5 479.2 415.1 477.2 419.2 473.2 422.0 470.2 419.2 470.4 411.2 472.4 409.2 480.5 407.2 493.5 407.2 496.6 409.2 498.2 413.2 503.2 414.7 511.2 422.5 521.8 427.2 522.5 429.2 521.2 430.2 513.2 433.5ZM284.6 419.2 284.7 417.2 283.5 415.6 280.7 417.2 280.4 419.2 281.5 420.4 284.6 419.2ZM655.4 461.1 657.0 459.0 665.0 456.8 669.0 454.0 672.9 445.3 679.1 439.1 678.9 437.1 676.1 433.2 671.0 430.6 663.0 429.4 657.0 430.4 651.0 433.5 646.9 439.1 645.0 457.1 643.0 458.7 634.5 459.1 635.0 460.7 643.0 459.6 651.0 461.9 655.4 461.1ZM627.8 439.1 625.0 436.7 621.7 437.1 619.7 439.1 625.0 440.6 627.8 439.1ZM623.6 491.1 635.7 489.1 635.5 487.1 629.0 484.0 615.0 481.6 607.0 483.8 602.3 487.1 601.6 489.1 613.0 492.9 623.6 491.1ZM423.3 505.8 413.3 506.9 403.3 504.4 381.4 504.5 376.3 503.1 373.9 499.1 377.1 495.1 383.3 493.0 423.3 493.9 427.7 499.1 423.3 505.8ZM365.4 509.7 363.4 510.6 353.4 510.5 349.7 509.0 363.4 508.2 366.5 509.0 365.4 509.7ZM57.8 545.0 57.8 527.1 61.8 521.5 65.8 518.3 71.8 516.1 77.0 517.0 81.8 521.3 87.8 523.4 90.8 527.0 91.5 529.0 90.7 531.0 86.4 535.0 81.8 536.4 61.8 536.4 58.4 539.0 57.8 545.0ZM778.8 545.0 768.1 543.0 768.1 539.0 778.8 533.1 778.8 545.0Z"/>
<path fill="#FF6E00" fill-rule="evenodd" d="M203.6 322.0 201.6 322.0 197.9 319.3 191.8 307.3 197.6 302.7 207.6 298.1 208.6 297.3 207.5 295.3 199.4 289.4 194.7 283.4 191.6 283.2 183.6 288.2 180.0 287.4 175.1 277.4 175.2 269.4 173.6 266.2 171.6 264.3 151.7 263.8 149.4 257.4 151.7 255.4 163.7 254.9 171.6 253.0 188.3 241.4 201.6 236.4 213.6 236.5 220.5 243.4 223.6 243.8 225.6 242.7 229.6 237.4 237.6 233.4 241.5 226.2 247.0 221.4 248.9 217.5 241.5 207.2 233.6 209.2 229.1 207.5 231.6 204.7 237.6 202.6 239.0 197.5 233.6 193.2 231.6 192.9 223.6 195.1 220.9 197.5 219.2 207.5 215.6 210.3 211.6 211.7 201.6 211.9 181.6 216.9 171.6 217.1 161.7 218.7 155.7 217.4 111.7 215.3 74.1 215.5 61.8 211.6 57.8 212.7 55.8 183.5 58.3 187.5 63.8 189.1 111.7 188.9 115.5 187.5 115.5 183.5 350.8 183.5 351.4 188.2 353.4 189.8 363.4 192.8 366.5 197.5 373.4 202.6 383.3 202.5 387.3 200.2 393.3 194.1 398.1 197.5 398.2 207.5 399.4 209.5 403.3 212.6 413.3 214.2 414.9 217.5 413.3 221.1 403.3 224.1 393.3 224.2 389.9 227.4 393.3 232.7 403.3 231.3 406.1 235.4 406.1 239.4 403.3 242.7 393.3 241.3 391.3 242.0 386.8 247.4 379.4 252.0 373.4 253.9 370.6 257.4 368.4 267.4 369.4 268.0 373.4 270.1 394.8 271.4 399.3 273.9 403.3 279.8 407.3 271.2 423.3 260.4 433.3 264.7 437.3 262.2 440.2 257.4 443.3 255.5 463.2 254.0 471.2 257.2 485.1 267.4 483.2 270.8 473.2 273.4 453.3 271.4 450.7 273.4 447.1 281.4 443.3 285.0 433.3 282.7 428.4 273.4 423.3 271.1 421.3 272.5 420.0 275.4 418.4 287.4 413.3 292.0 393.3 287.9 373.4 290.6 353.4 291.3 348.4 277.4 350.6 267.4 339.7 257.4 340.2 253.4 343.4 249.2 345.4 240.2 347.4 238.8 356.7 237.4 359.4 234.7 367.4 230.7 369.4 227.3 363.4 222.8 353.4 222.7 348.3 227.4 345.4 232.6 338.3 237.4 336.5 247.4 333.4 248.4 331.2 247.4 328.3 241.4 321.4 238.8 309.5 230.5 307.8 227.4 306.2 217.5 303.5 214.6 291.5 214.5 284.8 221.4 281.5 222.2 271.5 221.3 268.3 223.4 266.0 227.4 267.5 229.8 271.5 232.5 293.5 233.3 299.1 237.4 293.5 248.7 289.5 247.7 283.5 243.1 281.5 243.3 275.5 248.0 267.5 251.3 265.7 253.4 264.4 257.4 265.5 260.2 275.5 263.7 280.8 267.4 279.2 273.4 263.5 280.7 258.0 279.4 253.5 275.6 243.5 275.2 239.5 277.3 233.6 283.8 221.6 285.1 219.6 287.7 220.7 289.4 227.6 293.0 229.6 297.3 218.9 301.3 211.6 317.3 203.6 322.0ZM744.8 229.5 734.9 230.4 732.4 229.4 727.6 225.4 726.1 219.4 726.6 215.5 728.9 212.3 732.9 210.5 744.8 208.6 748.8 201.5 757.3 197.5 754.8 192.7 744.8 190.7 738.1 187.5 738.1 183.5 778.8 181.5 778.8 213.2 764.8 213.2 760.8 214.5 754.8 221.8 748.8 224.4 744.8 229.5ZM276.6 213.5 286.4 211.5 289.2 197.5 277.5 191.7 265.5 190.6 251.5 191.7 247.5 193.7 244.1 197.5 245.5 202.4 265.8 207.5 268.4 211.5 271.1 213.5 276.6 213.5ZM304.1 201.5 306.2 197.5 303.5 194.6 301.5 194.6 296.4 197.5 301.5 202.0 304.1 201.5ZM623.0 217.7 615.0 218.8 610.4 217.5 615.0 216.1 623.9 217.5 623.0 217.7ZM704.9 223.0 701.7 221.4 699.8 217.5 704.9 215.7 707.8 217.5 704.9 223.0ZM669.0 257.5 665.0 257.8 659.0 254.3 655.0 244.7 649.0 237.2 659.0 232.8 665.0 231.6 670.5 233.4 672.9 235.4 674.7 237.4 672.2 247.4 671.9 255.4 671.0 257.1 669.0 257.5ZM714.9 240.5 712.8 237.4 714.9 233.5 716.9 237.4 714.9 240.5ZM93.7 279.8 91.8 280.6 81.8 279.9 79.8 277.8 79.9 273.4 85.2 267.4 81.8 262.8 79.8 262.8 78.4 261.4 78.4 259.4 79.1 257.4 81.8 256.2 101.7 252.9 105.2 255.4 109.7 263.3 114.9 267.4 111.7 270.2 101.7 273.1 98.7 277.4 93.7 279.8ZM243.8 261.4 247.3 259.4 248.6 257.4 231.6 252.8 223.6 252.8 221.4 255.4 221.6 260.7 223.6 262.8 243.8 261.4ZM523.2 298.3 519.7 291.3 516.4 287.4 515.2 283.5 511.2 282.9 510.2 281.4 508.5 267.4 510.5 261.4 513.2 259.1 525.2 261.8 529.1 264.3 531.7 267.4 527.1 273.7 518.9 277.4 517.4 279.4 519.2 281.4 533.1 284.4 536.2 287.4 533.1 290.5 527.1 292.9 523.2 298.3ZM75.8 270.0 61.8 269.9 59.3 267.4 61.8 262.9 77.8 262.8 78.4 267.4 77.5 269.4 75.8 270.0ZM323.4 269.9 303.5 270.6 298.6 269.4 297.1 267.4 307.5 262.9 313.4 261.7 323.4 264.6 325.7 267.4 323.4 269.9ZM579.1 317.5 575.1 318.4 570.6 317.3 569.1 315.0 555.1 305.5 553.1 302.0 547.9 285.4 545.1 282.4 539.9 279.4 539.8 275.4 542.2 271.4 551.6 267.4 555.1 267.3 585.8 277.4 595.4 287.4 585.4 299.3 579.5 303.3 577.1 306.7 576.7 309.3 579.8 317.3 579.1 317.5ZM678.9 283.8 674.9 284.5 671.9 281.4 671.6 275.4 674.9 271.8 682.9 273.4 686.6 277.4 684.9 281.5 678.9 283.8ZM204.8 279.4 204.9 277.4 203.6 276.8 200.3 277.4 199.3 279.4 201.6 281.2 204.8 279.4ZM333.4 279.6 331.4 278.7 331.4 276.1 333.4 275.8 333.4 279.6ZM505.2 309.7 493.2 311.2 491.2 310.6 487.1 307.3 486.6 303.3 485.2 301.4 476.8 297.3 481.2 295.7 485.2 291.9 493.2 277.0 495.6 277.4 503.2 282.7 510.2 283.4 510.2 287.4 506.6 291.3 503.6 297.3 509.6 307.3 505.2 309.7ZM496.2 299.3 501.2 297.3 493.2 295.1 488.9 297.3 490.3 299.3 496.2 299.3ZM163.7 309.3 161.7 310.1 160.1 307.3 163.8 307.3 163.7 309.3ZM413.3 310.7 409.3 309.3 410.5 307.3 413.7 307.3 413.3 310.7ZM91.8 320.3 81.8 320.2 79.1 317.3 81.8 314.7 91.8 314.5 93.8 317.3 91.8 320.3ZM770.8 331.3 754.8 330.6 753.0 327.3 754.8 324.6 764.8 322.3 774.8 324.2 778.8 326.6 778.8 329.8 770.8 331.3ZM549.1 329.5 543.1 330.8 535.1 330.4 532.0 329.3 531.9 327.3 543.1 324.1 549.5 327.3 549.1 329.5ZM103.7 339.3 91.8 341.0 81.8 339.8 61.8 339.7 60.4 337.3 61.8 334.4 81.8 333.2 91.8 331.4 111.7 335.9 113.1 337.3 103.7 339.3ZM712.9 341.6 704.9 342.2 702.6 339.3 702.9 336.4 704.9 334.0 714.9 335.0 717.0 337.3 716.7 339.3 712.9 341.6ZM754.8 389.4 753.8 389.2 754.8 389.4ZM257.5 401.6 253.5 402.7 241.5 399.5 240.1 397.2 241.5 392.4 243.5 391.0 253.5 391.7 259.9 397.2 260.6 399.2 257.5 401.6ZM81.8 457.3 71.8 457.2 57.8 450.2 57.8 423.5 61.8 423.5 71.8 431.4 73.1 439.1 83.8 443.9 87.2 447.1 87.9 449.1 86.6 453.1 81.8 457.3ZM674.9 466.7 666.5 465.1 664.4 463.1 663.1 459.1 667.0 457.9 670.4 455.1 673.2 447.1 674.9 445.0 679.1 443.1 681.3 439.1 680.9 435.0 679.1 431.2 673.4 429.2 671.6 427.2 674.9 426.5 692.9 428.1 704.9 434.9 714.9 434.0 718.9 435.2 726.9 439.1 730.9 442.5 734.9 443.5 740.0 441.1 743.1 435.2 748.2 431.2 764.8 428.7 774.8 423.5 778.8 423.5 778.8 449.2 774.8 446.4 754.8 451.1 744.8 450.3 734.9 452.6 724.9 450.1 714.9 453.7 704.9 453.8 694.9 455.7 684.9 453.9 674.9 466.7ZM635.0 431.9 625.0 430.4 615.0 430.8 611.0 429.2 613.0 426.6 623.0 425.5 639.0 429.2 635.0 431.9ZM383.3 469.1 380.5 467.1 376.2 459.1 373.4 456.9 369.4 457.5 363.4 460.7 353.4 460.5 351.9 459.1 353.4 456.1 363.4 453.8 364.9 449.1 370.0 443.1 373.4 431.1 383.3 432.1 393.3 430.4 398.1 435.2 400.2 439.1 398.4 449.1 398.3 457.1 390.2 467.1 383.3 469.1ZM123.7 455.6 120.7 455.1 117.8 451.1 115.7 440.2 111.7 439.7 108.4 441.1 101.7 447.4 100.6 439.1 101.7 436.5 121.7 439.2 126.2 441.1 128.8 445.1 129.5 449.1 127.5 453.1 123.7 455.6ZM285.5 439.5 283.5 440.1 282.7 439.1 283.5 437.0 286.4 439.1 285.5 439.5ZM575.1 441.6 573.1 441.3 571.0 439.1 573.1 437.3 575.1 437.1 578.5 439.1 575.1 441.6ZM423.3 449.2 423.3 446.9 424.0 449.1 423.3 449.2ZM615.0 455.3 608.3 449.1 610.9 447.1 615.0 446.3 623.0 446.8 627.6 449.1 623.0 454.4 615.0 455.3ZM205.6 467.3 201.6 468.1 191.1 467.1 187.6 464.7 185.7 459.1 191.6 452.9 203.6 453.4 210.4 459.1 208.6 465.1 205.6 467.3ZM297.5 465.4 285.5 464.8 273.5 461.3 251.5 463.6 243.5 460.9 242.8 459.1 244.8 457.1 251.5 455.3 273.5 457.2 293.5 452.9 301.5 455.9 304.5 459.1 303.2 463.1 297.5 465.4ZM455.2 473.3 443.3 473.1 434.4 469.1 439.0 455.1 441.2 453.1 445.3 452.7 463.2 456.2 468.0 459.1 467.2 463.2 464.9 467.1 455.2 473.3ZM323.4 469.3 310.4 469.1 311.4 467.5 313.4 467.0 321.4 468.0 323.4 469.3ZM483.2 471.1 476.8 469.1 479.2 467.4 483.2 466.9 485.4 469.1 483.2 471.1ZM674.9 531.4 655.0 531.4 645.0 527.6 633.0 525.9 628.6 523.0 625.0 518.9 603.0 518.0 597.5 515.0 593.1 507.7 585.1 507.6 578.0 511.0 573.1 511.9 566.6 509.0 563.1 505.6 548.6 499.1 555.1 496.1 575.1 490.2 593.1 490.0 613.0 495.3 643.0 490.4 646.5 489.1 646.3 487.1 638.8 479.1 643.0 475.8 655.0 470.7 659.3 473.1 662.0 477.1 662.2 479.1 658.1 487.1 658.3 489.1 661.0 490.1 684.9 491.3 704.9 494.0 734.9 495.5 751.1 499.1 745.5 503.1 740.6 513.0 734.9 517.8 714.9 518.0 694.9 521.6 688.9 525.3 674.9 531.4ZM171.6 483.1 168.9 479.1 171.6 475.8 173.6 476.2 175.6 479.1 173.6 482.3 171.6 483.1ZM115.7 505.1 101.7 505.8 91.8 503.2 81.8 502.8 74.9 499.1 81.8 496.7 91.8 496.0 101.7 493.6 121.7 493.6 125.7 495.0 127.7 496.9 128.4 499.1 125.7 501.0 115.7 505.1ZM417.3 503.2 413.3 504.0 403.3 502.8 383.3 502.5 377.6 499.1 383.3 495.2 403.3 495.2 423.3 497.2 424.6 499.1 423.3 501.1 417.3 503.2ZM495.2 511.6 473.2 511.6 457.7 509.0 461.2 504.6 463.2 498.2 465.2 497.7 483.2 496.6 493.2 497.8 513.2 495.7 523.2 495.8 532.4 497.1 538.2 499.1 513.2 507.0 503.2 504.2 500.2 509.0 495.2 511.6Z"/>
<path fill="#FF0000" fill-rule="evenodd" d="M181.6 213.9 155.7 215.3 101.7 213.2 81.8 214.3 71.8 212.9 61.8 209.7 57.8 211.2 57.8 195.9 61.8 199.4 81.8 198.1 121.7 197.8 124.5 197.5 131.7 193.8 171.6 192.8 175.6 194.1 179.9 197.5 193.6 199.4 197.2 201.5 199.2 207.5 181.6 213.9ZM754.8 217.9 749.8 217.5 750.5 207.5 752.2 205.5 758.8 201.0 767.1 197.5 772.8 192.9 774.8 192.2 778.8 194.4 778.8 211.8 774.8 212.7 760.8 212.2 756.8 213.9 754.8 217.9ZM339.4 219.6 333.4 220.2 328.0 217.5 330.4 207.5 333.4 204.2 353.4 204.2 363.4 205.5 365.5 207.5 363.4 210.0 353.4 210.2 349.4 211.4 346.7 213.5 343.4 218.8 339.4 219.6ZM736.9 221.9 734.9 222.6 731.1 217.5 734.9 214.5 742.8 217.5 736.9 221.9ZM667.0 253.7 665.0 254.8 661.0 252.4 654.0 237.4 665.0 233.2 671.7 237.4 669.7 249.4 667.0 253.7ZM361.4 265.5 353.4 265.4 344.5 257.4 348.6 245.4 353.4 241.8 363.4 240.9 369.7 243.4 373.8 247.4 368.8 253.4 363.4 265.0 361.4 265.5ZM193.6 271.9 191.6 272.1 188.4 269.4 181.2 257.4 191.6 246.6 201.6 245.5 204.4 247.4 209.9 257.4 205.6 263.9 193.6 271.9ZM519.2 269.4 515.2 270.0 513.2 268.9 512.9 267.4 515.2 266.2 523.8 267.4 519.2 269.4ZM375.4 287.4 363.4 289.1 353.4 288.2 349.3 277.4 351.4 270.6 353.4 268.8 363.4 268.6 373.4 273.2 389.3 274.3 393.3 275.2 396.2 277.4 396.0 279.4 393.3 281.8 375.4 287.4ZM413.3 289.1 408.3 287.4 407.4 279.4 409.0 275.4 413.3 271.4 415.8 273.4 417.1 277.4 415.0 287.4 413.3 289.1ZM678.9 279.9 674.9 281.3 673.2 279.4 672.9 276.8 674.9 274.7 681.6 277.4 678.9 279.9ZM567.1 289.5 563.1 291.3 555.1 290.3 553.5 287.4 551.7 277.4 563.1 276.3 567.2 277.4 568.9 279.4 568.9 287.4 567.1 289.5ZM203.6 318.4 200.8 317.3 199.8 307.3 203.6 305.6 211.6 305.6 212.7 307.3 212.0 309.3 207.6 312.4 203.6 318.4ZM768.8 329.4 761.0 329.3 758.3 327.3 764.8 325.2 772.8 327.3 768.8 329.4ZM694.9 445.6 684.9 445.0 683.7 439.1 684.9 434.0 694.9 434.9 701.4 439.1 699.2 443.1 694.9 445.6ZM776.8 441.8 774.8 442.2 768.8 440.0 767.7 439.1 768.4 437.1 774.8 433.2 776.8 434.2 778.8 435.9 780.8 439.1 778.8 441.0 776.8 441.8ZM754.8 441.3 752.5 439.1 754.8 436.7 758.8 439.1 754.8 441.3ZM714.9 442.5 712.9 441.8 711.3 439.1 715.8 439.1 714.9 442.5ZM81.8 455.6 71.8 454.8 61.6 449.1 60.9 447.1 63.9 443.1 71.8 440.5 75.8 442.8 81.8 444.0 85.8 447.1 86.7 449.1 84.8 453.1 81.8 455.6ZM123.7 451.2 121.7 452.0 119.7 449.1 121.7 444.2 125.1 447.1 125.6 449.1 123.7 451.2ZM373.4 449.5 373.4 445.5 374.3 447.1 373.4 449.5ZM674.9 460.3 671.6 459.1 673.6 449.1 674.9 447.0 678.9 447.3 681.5 449.1 674.9 460.3ZM203.6 461.6 201.6 462.4 193.1 459.1 201.6 456.3 205.5 459.1 203.6 461.6ZM443.3 461.6 443.3 458.4 445.3 459.1 443.3 461.6ZM661.0 525.1 653.0 525.1 643.0 521.1 635.0 519.9 631.0 517.2 627.0 516.3 603.0 516.0 598.8 513.0 595.1 504.3 593.1 502.9 583.1 502.4 579.1 503.4 575.1 506.2 573.1 506.1 567.8 499.1 575.1 496.0 593.1 494.8 603.0 497.0 613.0 497.7 633.0 493.6 645.0 494.5 655.0 490.7 663.0 492.4 684.9 492.7 704.9 495.9 726.9 496.9 738.7 499.1 736.1 509.0 730.3 513.0 724.9 514.5 714.9 514.5 704.9 517.2 694.9 517.4 686.8 519.0 674.9 524.1 661.0 525.1ZM113.7 501.5 101.7 502.0 93.9 499.1 101.7 496.4 111.7 496.3 119.3 499.1 113.7 501.5ZM413.3 501.2 383.3 500.3 381.2 499.1 383.3 497.5 403.3 496.7 419.1 499.1 413.3 501.2ZM513.2 501.3 506.7 499.1 513.2 498.1 520.6 499.1 513.2 501.3ZM495.2 509.7 493.2 510.4 470.2 509.0 470.8 507.1 473.2 505.2 483.2 501.9 493.2 503.1 496.4 507.1 496.5 509.0 495.2 509.7ZM644.0 515.0 647.1 509.0 645.0 504.7 643.0 505.0 638.4 509.0 641.0 514.5 644.0 515.0Z"/>
<path fill="#C40000" fill-rule="evenodd" d="M151.7 213.5 101.7 211.4 81.8 212.7 61.8 207.8 57.8 209.7 57.8 201.2 61.8 206.4 68.5 203.5 81.8 200.4 101.7 201.1 133.7 199.0 171.6 199.8 184.3 203.5 190.3 207.5 181.6 210.9 151.7 213.5ZM774.8 211.5 758.8 209.6 755.6 207.5 762.8 202.7 774.8 197.9 778.8 199.8 780.8 207.5 778.8 210.4 774.8 211.5ZM665.0 252.0 663.0 251.3 660.4 247.4 657.7 237.4 665.0 234.8 669.1 237.4 669.2 239.4 668.1 247.4 665.0 252.0ZM357.4 259.6 353.4 260.7 349.7 257.4 351.1 247.4 353.4 245.4 363.4 245.2 366.8 247.4 366.1 249.4 361.6 257.4 357.4 259.6ZM365.4 285.4 353.4 285.6 350.2 277.4 353.4 271.1 363.4 272.1 373.4 276.4 383.3 276.2 388.0 277.4 386.7 279.4 383.3 280.8 373.4 281.2 365.4 285.4ZM413.3 283.3 411.4 277.4 413.3 275.4 414.6 277.4 413.3 283.3ZM81.8 454.0 71.8 452.5 65.7 449.1 66.0 447.1 71.8 443.5 81.8 445.1 85.5 449.1 81.8 454.0ZM665.0 519.1 655.0 520.9 650.3 519.0 649.9 505.1 646.4 499.1 659.0 494.5 684.9 494.2 712.9 498.7 725.5 499.1 728.9 507.1 728.9 509.0 724.9 511.0 714.9 511.1 704.9 515.2 694.9 515.4 684.9 517.9 665.0 519.1ZM625.0 513.4 613.0 514.5 603.0 514.1 598.2 509.0 598.9 503.1 600.7 501.1 603.0 500.4 615.0 500.1 633.0 495.6 639.0 496.5 643.6 499.1 630.9 511.0 625.0 513.4ZM407.3 499.2 395.6 499.1 409.0 499.1 407.3 499.2Z"/>
<path fill="#A02424" fill-rule="evenodd" d="M153.7 209.6 111.7 209.4 101.7 207.6 81.8 209.6 75.8 207.5 81.8 204.8 101.7 207.3 111.7 204.8 133.7 204.2 151.7 204.2 160.9 207.5 153.7 209.6ZM776.8 208.3 774.8 209.1 766.8 207.5 774.8 203.9 778.8 207.5 776.8 208.3ZM357.4 279.8 353.4 280.8 352.2 277.4 353.4 275.3 360.7 277.4 357.4 279.8ZM81.8 450.7 75.3 449.1 81.8 447.3 83.0 449.1 81.8 450.7ZM684.9 515.2 667.0 515.4 661.0 514.1 656.4 509.0 659.0 500.9 660.1 499.1 665.0 497.3 684.9 497.1 695.2 499.1 698.9 501.9 704.9 504.3 709.1 509.0 704.9 511.2 694.9 511.4 684.9 515.2ZM605.0 511.1 601.9 509.0 603.0 506.6 605.0 505.6 617.0 506.7 621.9 509.0 605.0 511.1Z"/>
<path fill="#FF66AA" fill-rule="evenodd" d="M684.9 510.0 670.4 509.0 674.9 507.1 682.9 506.2 684.9 506.5 686.8 509.0 684.9 510.0Z"/>
</g>
</g>
<rect x="418.3" y="182.5" width="241" height="3.6" fill="#FF6E00"/>
<rect x="341.6" y="279.4" width="7.6" height="9.8" fill="#8020E8" stroke="#000090" stroke-width="1.2"/>
<ellipse cx="688.4" cy="274.1" rx="3.6" ry="2.2" fill="#FF66AA" stroke="#C40000" stroke-width="1"/>
<path d="M664,503.5 L684,505.5 L704,509 L702,511 L682,508.5 L664,506.5 Z" fill="#FF66AA"/>
<clipPath id="mc"><rect x="56.8" y="182.5" width="723.0" height="361.5"/></clipPath>
<g clip-path="url(#mc)" fill="none" stroke="#222" stroke-width="0.9" stroke-linejoin="round">
<path d="M45.0,291.4 L36.7,301.0 L30.7,308.0 L22.7,321.1 L21.7,333.7 L26.7,341.2 L30.7,346.2 L36.7,351.2 L41.7,354.4 L50.8,353.2 L60.8,350.6 L66.8,352.2 L69.9,354.6 L73.9,354.2 L76.5,358.2 L74.9,365.3 L80.5,371.3 L81.9,377.3 L83.9,385.3 L80.9,397.4 L85.9,408.4 L89.9,420.5 L93.8,431.5 L97.0,433.1 L108.2,431.5 L117.0,425.5 L122.1,420.5 L123.1,414.5 L128.1,411.4 L127.1,403.4 L131.1,398.4 L138.1,393.4 L137.1,384.3 L136.1,377.3 L135.1,372.3 L140.1,366.7 L147.2,360.2 L153.2,353.2 L159.2,341.2 L159.6,339.6 L155.2,340.8 L147.2,342.2 L143.8,340.2 L142.2,335.1 L135.1,331.1 L132.1,326.1 L130.1,319.1 L127.1,313.0 L124.1,308.0 L122.1,303.0 L117.0,300.4 L107.0,299.4 L97.0,302.0 L96.0,301.0 L87.9,299.0 L78.9,296.0 L77.9,288.9 L72.9,288.9 L62.8,289.3 L52.8,292.8 L45.0,291.4"/>
<path d="M768.0,291.4 L759.7,301.0 L753.7,308.0 L745.7,321.1 L744.7,333.7 L749.7,341.2 L753.7,346.2 L759.7,351.2 L764.7,354.4 L773.8,353.2 L783.8,350.6 L789.8,352.2 L792.9,354.6 L796.9,354.2 L799.5,358.2 L797.9,365.3 L803.5,371.3 L804.9,377.3 L806.9,385.3 L803.9,397.4 L808.9,408.4 L812.9,420.5 L816.8,431.5 L820.0,433.1 L831.2,431.5 L840.0,425.5 L845.1,420.5 L846.1,414.5 L851.1,411.4 L850.1,403.4 L854.1,398.4 L861.1,393.4 L860.1,384.3 L859.1,377.3 L858.1,372.3 L863.1,366.7 L870.2,360.2 L876.2,353.2 L882.2,341.2 L882.6,339.6 L878.2,340.8 L870.2,342.2 L866.8,340.2 L865.2,335.1 L858.1,331.1 L855.1,326.1 L853.1,319.1 L850.1,313.0 L847.1,308.0 L845.1,303.0 L840.0,300.4 L830.0,299.4 L820.0,302.0 L819.0,301.0 L810.9,299.0 L801.9,296.0 L800.9,288.9 L795.9,288.9 L785.8,289.3 L775.8,292.8 L768.0,291.4"/>
<path d="M155.8,387.4 L158.2,394.4 L156.2,398.4 L151.6,413.5 L147.2,414.5 L144.2,407.4 L145.2,397.4 L150.2,394.4 L155.8,387.4"/>
<path d="M45.6,290.9 L38.7,288.9 L37.7,284.9 L38.9,277.9 L40.7,275.5 L52.8,276.1 L53.8,270.9 L47.8,267.3 L52.8,265.4 L56.8,263.8 L60.0,262.4 L62.8,260.4 L65.8,258.8 L66.8,256.2 L73.9,255.2 L73.9,248.8 L77.9,247.4 L77.9,253.8 L80.9,254.2 L84.9,254.8 L95.0,254.0 L99.0,251.8 L99.0,248.8 L104.0,248.2 L105.0,244.4 L113.0,243.8 L117.0,242.8 L103.0,242.8 L100.0,241.1 L99.6,236.7 L107.0,232.7 L101.0,230.7 L99.0,234.7 L91.9,237.7 L94.6,243.2 L89.9,248.8 L85.3,251.8 L82.5,250.8 L79.9,245.8 L76.9,244.8 L70.9,246.8 L67.8,244.8 L66.8,238.7 L72.9,235.7 L76.9,233.7 L82.9,227.7 L86.9,225.7 L92.9,223.7 L99.0,222.3 L107.0,220.7 L113.0,220.7 L119.1,221.9 L123.1,223.9 L129.1,224.7 L139.1,227.7 L137.1,230.7 L127.1,233.9 L133.1,234.7 L145.2,230.7 L145.2,225.7 L151.2,227.3 L164.2,225.7 L173.3,225.7 L177.3,223.7 L189.4,223.7 L195.4,217.6 L201.4,217.0 L202.4,222.7 L205.4,227.7 L211.4,225.7 L207.4,218.7 L217.5,217.6 L221.5,219.7 L231.5,214.6 L247.6,210.6 L257.6,209.6 L265.7,207.2 L281.7,210.6 L283.7,215.6 L297.8,216.6 L309.8,215.6 L317.9,220.7 L327.9,219.7 L338.0,217.6 L352.0,218.0 L362.1,220.9 L378.1,223.3 L392.2,223.5 L398.2,222.7 L408.3,223.1 L418.3,224.9 L428.3,227.7 L438.4,230.7 L434.4,232.7 L428.3,233.1 L422.3,231.7 L418.3,232.7 L414.3,233.7 L412.3,237.7 L404.2,239.7 L398.2,242.8 L386.2,243.2 L382.2,246.8 L384.2,250.8 L378.1,256.8 L371.1,260.8 L369.1,252.8 L370.1,247.8 L380.1,241.7 L370.1,239.7 L362.1,244.8 L344.0,244.2 L331.9,254.8 L340.0,256.8 L338.0,265.8 L327.9,275.9 L321.9,276.9 L316.9,280.9 L316.9,290.9 L310.9,294.0 L310.9,287.9 L306.8,283.3 L300.8,284.9 L300.8,281.3 L293.8,284.9 L295.8,288.9 L302.8,288.9 L297.8,294.0 L300.8,299.0 L301.8,303.0 L297.8,310.0 L291.8,316.1 L283.7,318.7 L277.7,321.1 L273.7,320.1 L269.7,324.1 L275.3,332.1 L275.7,339.1 L270.7,344.2 L267.3,346.0 L267.7,342.2 L263.7,342.2 L258.6,336.1 L256.6,343.2 L259.6,350.2 L264.7,355.2 L266.1,360.4 L259.6,358.2 L254.6,347.2 L254.0,336.1 L252.6,330.1 L246.6,331.1 L244.6,324.1 L241.6,320.1 L237.6,319.1 L231.5,320.1 L227.5,324.1 L218.1,332.1 L218.1,337.1 L217.1,342.6 L212.4,347.2 L209.4,343.2 L204.4,332.1 L203.0,324.1 L202.4,320.1 L197.4,318.1 L194.4,316.1 L190.8,313.0 L181.3,312.6 L171.9,311.4 L170.3,308.6 L165.2,309.6 L158.8,304.0 L153.2,303.0 L157.2,310.0 L160.4,314.0 L169.3,313.0 L170.1,310.2 L171.3,315.5 L176.9,318.1 L174.3,322.1 L167.3,329.1 L161.2,331.1 L154.2,335.1 L147.2,337.5 L143.8,337.7 L142.6,331.5 L135.1,320.1 L127.1,307.0 L126.1,307.0 L122.1,303.0 L126.1,300.0 L128.1,292.0 L129.1,289.3 L123.1,290.5 L117.0,290.3 L112.0,288.9 L110.0,283.9 L110.0,281.9 L115.0,280.9 L109.0,281.3 L105.0,281.9 L103.0,283.9 L102.0,288.9 L100.0,288.9 L97.0,283.5 L95.6,279.3 L88.9,275.9 L83.9,271.7 L81.5,272.3 L81.9,274.9 L84.9,277.9 L88.9,279.9 L94.0,282.5 L90.9,284.9 L88.9,286.9 L88.1,282.9 L80.9,279.3 L77.9,276.9 L74.9,274.3 L69.9,276.5 L62.8,276.3 L63.2,278.9 L57.8,281.9 L56.8,285.5 L55.2,287.9 L52.8,289.5 L47.8,289.5 L45.6,290.9"/>
<path d="M768.6,290.9 L761.7,288.9 L760.7,284.9 L761.9,277.9 L763.7,275.5 L775.8,276.1 L776.8,270.9 L770.8,267.3 L775.8,265.4 L779.8,263.8 L783.0,262.4 L785.8,260.4 L788.8,258.8 L789.8,256.2 L796.9,255.2 L796.9,248.8 L800.9,247.4 L800.9,253.8 L803.9,254.2 L807.9,254.8 L818.0,254.0 L822.0,251.8 L822.0,248.8 L827.0,248.2 L828.0,244.4 L836.0,243.8 L840.0,242.8 L826.0,242.8 L823.0,241.1 L822.6,236.7 L830.0,232.7 L824.0,230.7 L822.0,234.7 L814.9,237.7 L817.6,243.2 L812.9,248.8 L808.3,251.8 L805.5,250.8 L802.9,245.8 L799.9,244.8 L793.9,246.8 L790.8,244.8 L789.8,238.7 L795.9,235.7 L799.9,233.7 L805.9,227.7 L809.9,225.7 L815.9,223.7 L822.0,222.3 L830.0,220.7 L836.0,220.7 L842.1,221.9 L846.1,223.9 L852.1,224.7 L862.1,227.7 L860.1,230.7 L850.1,233.9 L856.1,234.7 L868.2,230.7 L868.2,225.7 L874.2,227.3 L887.2,225.7 L896.3,225.7 L900.3,223.7 L912.3,223.7 L918.4,217.6 L924.4,217.0 L925.4,222.7 L928.4,227.7 L934.4,225.7 L930.4,218.7 L940.5,217.6 L944.5,219.7 L954.5,214.6 L970.6,210.6 L980.6,209.6 L988.7,207.2 L1004.7,210.6 L1006.7,215.6 L1020.8,216.6 L1032.8,215.6 L1040.9,220.7 L1050.9,219.7 L1061.0,217.6 L1075.0,218.0 L1085.1,220.9 L1101.1,223.3 L1115.2,223.5 L1121.2,222.7 L1131.3,223.1 L1141.3,224.9 L1151.3,227.7 L1161.4,230.7 L1157.4,232.7 L1151.3,233.1 L1145.3,231.7 L1141.3,232.7 L1137.3,233.7 L1135.3,237.7 L1127.2,239.7 L1121.2,242.8 L1109.2,243.2 L1105.1,246.8 L1107.2,250.8 L1101.1,256.8 L1094.1,260.8 L1092.1,252.8 L1093.1,247.8 L1103.1,241.7 L1093.1,239.7 L1085.1,244.8 L1067.0,244.2 L1054.9,254.8 L1063.0,256.8 L1061.0,265.8 L1050.9,275.9 L1044.9,276.9 L1039.9,280.9 L1039.9,290.9 L1033.9,294.0 L1033.9,287.9 L1029.8,283.3 L1023.8,284.9 L1023.8,281.3 L1016.8,284.9 L1018.8,288.9 L1025.8,288.9 L1020.8,294.0 L1023.8,299.0 L1024.8,303.0 L1020.8,310.0 L1014.8,316.1 L1006.7,318.7 L1000.7,321.1 L996.7,320.1 L992.7,324.1 L998.3,332.1 L998.7,339.1 L993.7,344.2 L990.3,346.0 L990.7,342.2 L986.7,342.2 L981.6,336.1 L979.6,343.2 L982.6,350.2 L987.7,355.2 L989.1,360.4 L982.6,358.2 L977.6,347.2 L977.0,336.1 L975.6,330.1 L969.6,331.1 L967.6,324.1 L964.6,320.1 L960.5,319.1 L954.5,320.1 L950.5,324.1 L941.1,332.1 L941.1,337.1 L940.1,342.6 L935.4,347.2 L932.4,343.2 L927.4,332.1 L926.0,324.1 L925.4,320.1 L920.4,318.1 L917.4,316.1 L913.8,313.0 L904.3,312.6 L894.9,311.4 L893.3,308.6 L888.2,309.6 L881.8,304.0 L876.2,303.0 L880.2,310.0 L883.4,314.0 L892.3,313.0 L893.1,310.2 L894.3,315.5 L899.9,318.1 L897.3,322.1 L890.3,329.1 L884.2,331.1 L877.2,335.1 L870.2,337.5 L866.8,337.7 L865.6,331.5 L858.1,320.1 L850.1,307.0 L849.1,307.0 L845.1,303.0 L849.1,300.0 L851.1,292.0 L852.1,289.3 L846.1,290.5 L840.0,290.3 L835.0,288.9 L833.0,283.9 L833.0,281.9 L838.0,280.9 L832.0,281.3 L828.0,281.9 L826.0,283.9 L825.0,288.9 L823.0,288.9 L820.0,283.5 L818.6,279.3 L811.9,275.9 L806.9,271.7 L804.5,272.3 L804.9,274.9 L807.9,277.9 L811.9,279.9 L817.0,282.5 L813.9,284.9 L811.9,286.9 L811.1,282.9 L803.9,279.3 L800.9,276.9 L797.9,274.3 L792.9,276.5 L785.8,276.3 L786.2,278.9 L780.8,281.9 L779.8,285.5 L778.2,287.9 L775.8,289.5 L770.8,289.5 L768.6,290.9"/>
<path d="M113.0,280.5 L115.0,273.9 L118.1,269.9 L123.1,270.9 L122.1,273.9 L127.1,272.9 L133.1,268.9 L130.1,272.3 L137.1,275.9 L140.1,279.9 L129.1,279.7 L119.1,280.5 L113.0,280.5"/>
<path d="M151.2,273.9 L155.2,269.9 L161.2,269.3 L163.2,271.9 L159.2,273.9 L162.2,279.3 L163.2,282.9 L165.2,287.9 L157.2,288.9 L155.2,285.9 L156.2,281.9 L152.2,276.9 L151.2,273.9"/>
<path d="M45.8,262.8 L59.8,260.8 L60.2,257.4 L56.8,255.8 L53.8,251.8 L52.8,247.8 L49.8,245.6 L46.8,245.6 L44.8,248.8 L45.8,251.8 L50.8,253.8 L47.8,256.8 L46.8,259.4 L50.8,260.2 L45.8,262.8"/>
<path d="M768.8,262.8 L782.8,260.8 L783.2,257.4 L779.8,255.8 L776.8,251.8 L775.8,247.8 L772.8,245.6 L769.8,245.6 L767.8,248.8 L768.8,251.8 L773.8,253.8 L770.8,256.8 L769.8,259.4 L773.8,260.2 L768.8,262.8"/>
<path d="M767.8,258.4 L767.8,253.8 L764.7,252.4 L759.7,254.8 L759.7,259.2 L763.7,259.6 L767.8,258.4"/>
<path d="M734.6,234.7 L731.6,231.7 L735.6,229.9 L747.7,229.7 L750.7,232.7 L742.6,235.9 L734.6,234.7"/>
<path d="M317.9,300.0 L320.9,300.4 L321.9,296.0 L327.9,296.0 L330.9,294.0 L336.0,293.4 L339.6,291.4 L340.0,286.9 L342.0,283.9 L340.8,280.1 L338.0,281.9 L337.0,285.9 L331.9,288.9 L328.9,291.8 L323.9,292.0 L319.9,294.2 L317.9,296.0 L317.9,300.0"/>
<path d="M338.0,279.9 L341.0,277.9 L346.0,276.9 L349.0,276.3 L342.0,271.9 L339.0,275.9 L338.0,279.9"/>
<path d="M342.0,270.9 L345.0,264.8 L344.0,259.8 L343.0,253.8 L341.6,258.8 L342.0,270.9"/>
<path d="M298.2,318.1 L299.8,312.6 L301.8,313.0 L299.4,319.3 L298.2,318.1"/>
<path d="M297.8,326.1 L302.4,326.1 L301.8,331.1 L305.8,337.1 L300.8,336.1 L298.8,333.1 L297.8,326.1"/>
<path d="M301.8,349.2 L310.9,348.2 L309.8,344.2 L304.8,346.2 L301.8,349.2"/>
<path d="M275.7,360.2 L279.7,360.0 L289.8,350.2 L295.8,353.2 L292.8,361.2 L290.8,368.3 L286.8,370.9 L279.7,369.3 L277.7,366.3 L275.7,360.2"/>
<path d="M248.2,352.2 L252.6,352.8 L258.6,359.2 L265.7,365.3 L269.7,369.3 L269.3,374.9 L266.7,374.9 L259.6,368.3 L254.6,360.2 L248.2,352.2"/>
<path d="M268.3,376.9 L273.7,375.3 L279.7,376.3 L286.8,378.3 L286.8,380.5 L277.7,379.7 L270.7,378.1 L268.3,376.9"/>
<path d="M296.8,374.3 L298.8,368.3 L295.8,364.3 L298.8,361.2 L306.8,361.2 L299.8,362.2 L300.8,365.3 L303.8,365.3 L300.8,368.3 L301.8,372.9 L298.8,374.3 L296.8,374.3"/>
<path d="M319.9,366.3 L325.9,364.9 L329.9,367.3 L340.0,368.5 L348.0,372.3 L353.0,375.3 L353.0,379.3 L358.1,384.3 L350.0,380.3 L345.0,381.7 L340.0,381.7 L336.0,379.3 L333.9,380.1 L332.9,374.3 L327.9,372.1 L322.9,371.3 L321.9,369.3 L319.9,366.3"/>
<path d="M217.1,343.6 L221.1,348.2 L219.9,350.8 L217.5,351.2 L217.1,343.6"/>
<path d="M161.2,219.7 L168.3,216.6 L171.3,212.6 L181.3,209.6 L194.4,208.6 L181.3,211.6 L173.3,217.6 L167.3,221.3 L161.2,219.7"/>
<path d="M78.9,205.6 L84.9,203.0 L97.0,202.0 L111.0,202.6 L101.0,205.6 L95.0,208.6 L86.9,208.2 L78.9,205.6"/>
<path d="M247.6,204.6 L257.6,201.6 L267.7,203.6 L261.6,206.6 L247.6,204.6"/>
<path d="M331.9,212.6 L342.0,211.6 L356.0,212.6 L342.0,215.0 L331.9,212.6"/>
<path d="M147.2,201.6 L167.3,200.6 L181.3,201.4 L167.3,203.0 L147.2,201.6"/>
<path d="M284.7,407.4 L285.8,415.5 L287.8,423.5 L287.8,431.5 L293.8,433.5 L304.8,431.1 L309.8,428.1 L319.9,426.5 L325.9,429.1 L329.9,433.5 L333.9,432.1 L335.0,434.7 L338.0,438.6 L345.0,441.2 L351.0,441.6 L358.1,438.6 L359.1,433.5 L363.1,427.5 L365.1,419.5 L364.1,413.5 L360.1,409.4 L356.0,404.4 L350.6,400.4 L348.8,393.4 L345.0,391.4 L343.0,384.9 L341.0,389.4 L341.0,397.4 L338.0,398.8 L330.9,394.4 L329.3,388.4 L331.9,387.4 L330.9,386.3 L322.9,385.9 L319.9,387.8 L316.9,393.4 L310.9,391.4 L307.8,395.0 L302.2,398.4 L299.8,402.4 L294.8,404.0 L290.8,404.6 L284.7,407.4"/>
<path d="M347.4,445.0 L354.6,445.4 L353.6,450.0 L350.0,450.8 L347.4,445.0"/>
<path d="M403.6,432.3 L407.3,436.6 L410.3,438.8 L415.3,439.0 L412.3,442.2 L408.9,446.6 L407.5,446.0 L408.3,441.6 L405.8,442.0 L407.3,437.6 L403.6,432.3"/>
<path d="M403.6,444.6 L406.9,447.0 L404.2,451.2 L400.2,453.2 L396.2,456.8 L391.2,455.6 L394.8,451.6 L401.2,447.0 L403.6,444.6"/>
<path d="M448.4,225.1 L452.4,228.7 L446.4,231.7 L456.5,233.7 L448.4,237.7 L449.4,241.7 L454.4,245.8 L462.5,247.8 L454.4,252.4 L468.5,247.8 L474.5,243.8 L478.6,240.7 L484.6,241.7 L496.6,242.8 L504.7,245.8 L510.7,248.8 L516.7,253.8 L518.7,258.8 L522.7,261.8 L529.8,265.8 L530.8,270.9 L529.8,277.3 L530.8,282.9 L533.8,287.9 L536.8,293.0 L541.8,295.0 L544.8,298.0 L548.8,303.0 L550.9,307.0 L554.9,313.0 L558.9,317.1 L554.9,310.0 L552.9,304.0 L549.2,300.0 L554.9,305.0 L558.9,309.0 L562.9,313.0 L567.9,318.1 L567.9,323.1 L572.9,326.7 L585.0,331.5 L591.0,331.1 L595.0,334.1 L603.1,336.5 L607.1,340.2 L608.1,343.2 L613.1,346.6 L619.1,348.6 L621.1,345.2 L624.2,347.2 L621.1,344.2 L617.1,345.6 L614.1,344.2 L612.1,341.2 L612.1,335.1 L609.1,331.1 L603.1,331.1 L602.7,326.1 L605.1,320.1 L598.0,320.9 L597.0,325.5 L590.0,326.7 L586.0,324.1 L584.0,319.1 L584.0,312.0 L584.6,307.6 L591.0,304.0 L599.0,305.0 L601.1,302.4 L609.1,303.6 L613.1,305.0 L615.1,310.0 L618.1,312.6 L619.1,309.4 L617.1,303.0 L621.1,297.0 L627.2,293.0 L627.2,288.9 L629.2,285.3 L631.2,281.9 L637.2,280.1 L639.2,278.9 L638.2,275.9 L645.2,273.3 L650.3,272.3 L657.3,272.3 L651.3,268.9 L649.3,264.8 L642.2,264.4 L646.2,262.4 L659.3,262.4 L667.3,258.8 L665.3,253.8 L657.3,250.8 L655.3,246.8 L650.3,242.1 L645.2,245.8 L639.2,244.8 L639.2,240.7 L633.2,238.1 L623.1,238.1 L623.1,242.8 L625.2,246.8 L626.2,250.8 L621.1,253.2 L620.1,258.8 L615.1,257.0 L609.1,252.2 L603.1,249.8 L594.0,248.8 L590.0,243.8 L590.0,239.7 L598.0,235.7 L605.1,233.7 L607.1,230.3 L603.1,227.7 L589.0,225.7 L583.0,227.1 L570.9,226.3 L560.9,226.7 L550.9,227.1 L544.8,224.7 L532.8,223.9 L522.7,222.7 L514.7,223.7 L506.7,224.9 L496.6,223.3 L488.6,222.5 L474.5,221.1 L465.5,220.1 L458.5,221.7 L448.4,225.1"/>
<path d="M660.9,267.7 L668.3,259.8 L673.4,266.9 L673.4,269.7 L667.3,267.9 L660.9,267.7"/>
<path d="M633.2,206.0 L647.2,201.6 L659.3,198.6 L689.4,197.6 L719.5,195.6 L739.6,198.6 L755.7,199.6 L743.6,204.6 L741.6,208.6 L735.6,212.6 L735.6,218.7 L729.6,221.7 L735.6,223.7 L715.5,226.7 L707.5,231.1 L699.5,232.7 L694.4,238.7 L691.4,242.8 L683.4,240.7 L679.4,234.7 L675.4,229.7 L677.4,224.7 L671.3,221.7 L669.3,216.6 L663.3,211.0 L647.2,210.6 L633.2,206.0"/>
<path d="M655.3,228.7 L648.3,237.7 L637.2,237.3 L623.1,233.7 L633.2,228.1 L627.2,223.7 L609.1,222.9 L601.1,215.6 L619.1,215.4 L635.2,220.1 L645.2,224.1 L655.3,228.7"/>
<path d="M577.0,222.7 L568.9,225.5 L552.9,225.7 L542.8,224.1 L540.8,220.1 L546.8,217.6 L560.9,216.6 L574.9,216.6 L577.0,222.7"/>
<path d="M655.3,198.6 L629.2,196.6 L599.0,200.2 L595.0,201.6 L599.0,204.6 L609.1,208.6 L619.1,209.6 L623.1,206.6 L633.2,203.6 L645.2,201.6 L655.3,198.6"/>
<path d="M544.8,220.7 L532.8,219.7 L528.8,216.6 L530.8,213.6 L542.8,212.8 L546.8,215.6 L544.8,220.7"/>
<path d="M619.1,213.6 L599.0,213.6 L589.0,211.6 L607.1,209.2 L619.1,210.2 L619.1,213.6"/>
<path d="M618.1,235.7 L605.1,235.7 L607.1,231.7 L617.1,232.7 L618.1,235.7"/>
<path d="M609.1,319.5 L615.1,316.7 L625.2,318.1 L630.8,322.7 L624.2,323.3 L618.1,319.7 L609.1,319.5"/>
<path d="M630.2,326.1 L633.8,323.3 L640.2,323.9 L642.6,326.1 L636.2,327.7 L630.2,326.1"/>
<path d="M624.2,347.2 L628.2,342.2 L635.2,339.1 L637.2,342.2 L643.2,342.2 L651.3,342.2 L657.3,341.8 L659.3,346.2 L665.3,351.2 L675.4,353.2 L679.4,359.6 L682.4,365.3 L691.4,368.3 L700.5,369.3 L709.5,374.3 L709.5,381.3 L704.5,388.4 L701.5,398.4 L698.5,404.4 L695.4,409.4 L689.4,411.0 L682.4,415.5 L681.4,421.5 L675.4,428.1 L672.4,431.5 L667.3,433.1 L664.3,435.5 L665.7,437.6 L664.3,440.0 L655.3,441.6 L654.3,445.6 L649.3,445.6 L650.3,448.6 L648.3,453.6 L644.2,456.6 L647.7,459.6 L642.2,464.3 L642.2,468.3 L637.2,471.3 L630.2,467.7 L628.2,459.6 L631.2,451.6 L632.2,445.6 L632.2,437.6 L636.2,427.5 L636.2,419.5 L638.2,410.4 L638.8,400.4 L635.2,397.4 L628.2,393.4 L625.2,387.4 L621.1,379.3 L617.1,375.3 L618.1,370.3 L619.1,365.3 L619.1,361.2 L621.5,358.2 L624.2,355.2 L624.6,349.2 L624.2,347.2"/>
<path d="M642.2,468.9 L648.3,473.7 L639.2,473.7 L631.2,469.7 L642.2,468.9"/>
<path d="M656.3,466.7 L663.3,466.3 L663.3,468.1 L657.3,468.1 L656.3,466.7"/>
<path d="M-304.7,532.0 L-284.6,534.0 L-254.5,534.4 L-244.4,527.9 L-254.5,521.9 L-260.5,518.7 L-244.4,516.9 L-224.4,514.9 L-204.3,512.5 L-184.2,511.5 L-164.1,512.9 L-144.0,510.9 L-124.0,509.9 L-103.9,509.9 L-93.8,506.8 L-79.8,501.8 L-71.7,495.8 L-57.7,490.4 L-63.7,492.8 L-67.7,499.8 L-67.7,505.8 L-65.7,511.9 L-53.7,518.9 L-33.6,520.9 L-13.5,519.9 L0.6,515.9 L16.6,510.9 L32.7,506.8 L56.8,503.8 L76.9,503.8 L97.0,503.8 L117.0,502.8 L137.1,500.8 L157.2,497.8 L177.3,497.8 L193.4,498.8 L201.4,503.8 L207.4,502.8 L217.5,498.8 L237.6,496.8 L257.6,495.8 L277.7,495.8 L297.8,496.8 L317.9,496.8 L338.0,497.4 L358.1,500.8 L378.1,503.8 L394.2,506.6 L388.2,511.9 L382.2,517.3 L378.1,523.9 L398.2,529.9 L418.3,532.0"/>
<path d="M418.3,532.0 L438.4,534.0 L468.5,534.4 L478.6,527.9 L468.5,521.9 L462.5,518.7 L478.6,516.9 L498.6,514.9 L518.7,512.5 L538.8,511.5 L558.9,512.9 L579.0,510.9 L599.0,509.9 L619.1,509.9 L629.2,506.8 L643.2,501.8 L651.3,495.8 L665.3,490.4 L659.3,492.8 L655.3,499.8 L655.3,505.8 L657.3,511.9 L669.3,518.9 L689.4,520.9 L709.5,519.9 L723.6,515.9 L739.6,510.9 L755.7,506.8 L779.8,503.8 L799.9,503.8 L820.0,503.8 L840.0,502.8 L860.1,500.8 L880.2,497.8 L900.3,497.8 L916.4,498.8 L924.4,503.8 L930.4,502.8 L940.5,498.8 L960.5,496.8 L980.6,495.8 L1000.7,495.8 L1020.8,496.8 L1040.9,496.8 L1061.0,497.4 L1081.0,500.8 L1101.1,503.8 L1117.2,506.6 L1111.2,511.9 L1105.1,517.3 L1101.1,523.9 L1121.2,529.9 L1141.3,532.0"/>
</g>
<rect x="56.8" y="182.5" width="723.0" height="361.5" fill="none" stroke="#000" stroke-width="1.6"/>
<line x1="76.88" y1="182.5" x2="76.88" y2="188.5" stroke="#000" stroke-width="1.3"/>
<line x1="76.88" y1="544.0" x2="76.88" y2="538.0" stroke="#000" stroke-width="1.3"/>
<line x1="96.97" y1="182.5" x2="96.97" y2="188.5" stroke="#000" stroke-width="1.3"/>
<line x1="96.97" y1="544.0" x2="96.97" y2="538.0" stroke="#000" stroke-width="1.3"/>
<line x1="117.05" y1="182.5" x2="117.05" y2="194.5" stroke="#000" stroke-width="1.3"/>
<line x1="117.05" y1="544.0" x2="117.05" y2="532.0" stroke="#000" stroke-width="1.3"/>
<line x1="137.13" y1="182.5" x2="137.13" y2="188.5" stroke="#000" stroke-width="1.3"/>
<line x1="137.13" y1="544.0" x2="137.13" y2="538.0" stroke="#000" stroke-width="1.3"/>
<line x1="157.22" y1="182.5" x2="157.22" y2="188.5" stroke="#000" stroke-width="1.3"/>
<line x1="157.22" y1="544.0" x2="157.22" y2="538.0" stroke="#000" stroke-width="1.3"/>
<line x1="177.30" y1="182.5" x2="177.30" y2="194.5" stroke="#000" stroke-width="1.3"/>
<line x1="177.30" y1="544.0" x2="177.30" y2="532.0" stroke="#000" stroke-width="1.3"/>
<line x1="197.38" y1="182.5" x2="197.38" y2="188.5" stroke="#000" stroke-width="1.3"/>
<line x1="197.38" y1="544.0" x2="197.38" y2="538.0" stroke="#000" stroke-width="1.3"/>
<line x1="217.47" y1="182.5" x2="217.47" y2="188.5" stroke="#000" stroke-width="1.3"/>
<line x1="217.47" y1="544.0" x2="217.47" y2="538.0" stroke="#000" stroke-width="1.3"/>
<line x1="237.55" y1="182.5" x2="237.55" y2="194.5" stroke="#000" stroke-width="1.3"/>
<line x1="237.55" y1="544.0" x2="237.55" y2="532.0" stroke="#000" stroke-width="1.3"/>
<line x1="257.63" y1="182.5" x2="257.63" y2="188.5" stroke="#000" stroke-width="1.3"/>
<line x1="257.63" y1="544.0" x2="257.63" y2="538.0" stroke="#000" stroke-width="1.3"/>
<line x1="277.72" y1="182.5" x2="277.72" y2="188.5" stroke="#000" stroke-width="1.3"/>
<line x1="277.72" y1="544.0" x2="277.72" y2="538.0" stroke="#000" stroke-width="1.3"/>
<line x1="297.80" y1="182.5" x2="297.80" y2="194.5" stroke="#000" stroke-width="1.3"/>
<line x1="297.80" y1="544.0" x2="297.80" y2="532.0" stroke="#000" stroke-width="1.3"/>
<line x1="317.88" y1="182.5" x2="317.88" y2="188.5" stroke="#000" stroke-width="1.3"/>
<line x1="317.88" y1="544.0" x2="317.88" y2="538.0" stroke="#000" stroke-width="1.3"/>
<line x1="337.97" y1="182.5" x2="337.97" y2="188.5" stroke="#000" stroke-width="1.3"/>
<line x1="337.97" y1="544.0" x2="337.97" y2="538.0" stroke="#000" stroke-width="1.3"/>
<line x1="358.05" y1="182.5" x2="358.05" y2="194.5" stroke="#000" stroke-width="1.3"/>
<line x1="358.05" y1="544.0" x2="358.05" y2="532.0" stroke="#000" stroke-width="1.3"/>
<line x1="378.13" y1="182.5" x2="378.13" y2="188.5" stroke="#000" stroke-width="1.3"/>
<line x1="378.13" y1="544.0" x2="378.13" y2="538.0" stroke="#000" stroke-width="1.3"/>
<line x1="398.22" y1="182.5" x2="398.22" y2="188.5" stroke="#000" stroke-width="1.3"/>
<line x1="398.22" y1="544.0" x2="398.22" y2="538.0" stroke="#000" stroke-width="1.3"/>
<line x1="418.30" y1="182.5" x2="418.30" y2="194.5" stroke="#000" stroke-width="1.3"/>
<line x1="418.30" y1="544.0" x2="418.30" y2="532.0" stroke="#000" stroke-width="1.3"/>
<line x1="438.38" y1="182.5" x2="438.38" y2="188.5" stroke="#000" stroke-width="1.3"/>
<line x1="438.38" y1="544.0" x2="438.38" y2="538.0" stroke="#000" stroke-width="1.3"/>
<line x1="458.47" y1="182.5" x2="458.47" y2="188.5" stroke="#000" stroke-width="1.3"/>
<line x1="458.47" y1="544.0" x2="458.47" y2="538.0" stroke="#000" stroke-width="1.3"/>
<line x1="478.55" y1="182.5" x2="478.55" y2="194.5" stroke="#000" stroke-width="1.3"/>
<line x1="478.55" y1="544.0" x2="478.55" y2="532.0" stroke="#000" stroke-width="1.3"/>
<line x1="498.63" y1="182.5" x2="498.63" y2="188.5" stroke="#000" stroke-width="1.3"/>
<line x1="498.63" y1="544.0" x2="498.63" y2="538.0" stroke="#000" stroke-width="1.3"/>
<line x1="518.72" y1="182.5" x2="518.72" y2="188.5" stroke="#000" stroke-width="1.3"/>
<line x1="518.72" y1="544.0" x2="518.72" y2="538.0" stroke="#000" stroke-width="1.3"/>
<line x1="538.80" y1="182.5" x2="538.80" y2="194.5" stroke="#000" stroke-width="1.3"/>
<line x1="538.80" y1="544.0" x2="538.80" y2="532.0" stroke="#000" stroke-width="1.3"/>
<line x1="558.88" y1="182.5" x2="558.88" y2="188.5" stroke="#000" stroke-width="1.3"/>
<line x1="558.88" y1="544.0" x2="558.88" y2="538.0" stroke="#000" stroke-width="1.3"/>
<line x1="578.97" y1="182.5" x2="578.97" y2="188.5" stroke="#000" stroke-width="1.3"/>
<line x1="578.97" y1="544.0" x2="578.97" y2="538.0" stroke="#000" stroke-width="1.3"/>
<line x1="599.05" y1="182.5" x2="599.05" y2="194.5" stroke="#000" stroke-width="1.3"/>
<line x1="599.05" y1="544.0" x2="599.05" y2="532.0" stroke="#000" stroke-width="1.3"/>
<line x1="619.13" y1="182.5" x2="619.13" y2="188.5" stroke="#000" stroke-width="1.3"/>
<line x1="619.13" y1="544.0" x2="619.13" y2="538.0" stroke="#000" stroke-width="1.3"/>
<line x1="639.22" y1="182.5" x2="639.22" y2="188.5" stroke="#000" stroke-width="1.3"/>
<line x1="639.22" y1="544.0" x2="639.22" y2="538.0" stroke="#000" stroke-width="1.3"/>
<line x1="659.30" y1="182.5" x2="659.30" y2="194.5" stroke="#000" stroke-width="1.3"/>
<line x1="659.30" y1="544.0" x2="659.30" y2="532.0" stroke="#000" stroke-width="1.3"/>
<line x1="679.38" y1="182.5" x2="679.38" y2="188.5" stroke="#000" stroke-width="1.3"/>
<line x1="679.38" y1="544.0" x2="679.38" y2="538.0" stroke="#000" stroke-width="1.3"/>
<line x1="699.47" y1="182.5" x2="699.47" y2="188.5" stroke="#000" stroke-width="1.3"/>
<line x1="699.47" y1="544.0" x2="699.47" y2="538.0" stroke="#000" stroke-width="1.3"/>
<line x1="719.55" y1="182.5" x2="719.55" y2="194.5" stroke="#000" stroke-width="1.3"/>
<line x1="719.55" y1="544.0" x2="719.55" y2="532.0" stroke="#000" stroke-width="1.3"/>
<line x1="739.63" y1="182.5" x2="739.63" y2="188.5" stroke="#000" stroke-width="1.3"/>
<line x1="739.63" y1="544.0" x2="739.63" y2="538.0" stroke="#000" stroke-width="1.3"/>
<line x1="759.72" y1="182.5" x2="759.72" y2="188.5" stroke="#000" stroke-width="1.3"/>
<line x1="759.72" y1="544.0" x2="759.72" y2="538.0" stroke="#000" stroke-width="1.3"/>
<line x1="56.8" y1="202.58" x2="62.8" y2="202.58" stroke="#000" stroke-width="1.3"/>
<line x1="779.8" y1="202.58" x2="773.8" y2="202.58" stroke="#000" stroke-width="1.3"/>
<line x1="56.8" y1="222.67" x2="62.8" y2="222.67" stroke="#000" stroke-width="1.3"/>
<line x1="779.8" y1="222.67" x2="773.8" y2="222.67" stroke="#000" stroke-width="1.3"/>
<line x1="56.8" y1="242.75" x2="68.8" y2="242.75" stroke="#000" stroke-width="1.3"/>
<line x1="779.8" y1="242.75" x2="767.8" y2="242.75" stroke="#000" stroke-width="1.3"/>
<line x1="56.8" y1="262.83" x2="62.8" y2="262.83" stroke="#000" stroke-width="1.3"/>
<line x1="779.8" y1="262.83" x2="773.8" y2="262.83" stroke="#000" stroke-width="1.3"/>
<line x1="56.8" y1="282.92" x2="62.8" y2="282.92" stroke="#000" stroke-width="1.3"/>
<line x1="779.8" y1="282.92" x2="773.8" y2="282.92" stroke="#000" stroke-width="1.3"/>
<line x1="56.8" y1="303.00" x2="68.8" y2="303.00" stroke="#000" stroke-width="1.3"/>
<line x1="779.8" y1="303.00" x2="767.8" y2="303.00" stroke="#000" stroke-width="1.3"/>
<line x1="56.8" y1="323.08" x2="62.8" y2="323.08" stroke="#000" stroke-width="1.3"/>
<line x1="779.8" y1="323.08" x2="773.8" y2="323.08" stroke="#000" stroke-width="1.3"/>
<line x1="56.8" y1="343.17" x2="62.8" y2="343.17" stroke="#000" stroke-width="1.3"/>
<line x1="779.8" y1="343.17" x2="773.8" y2="343.17" stroke="#000" stroke-width="1.3"/>
<line x1="56.8" y1="363.25" x2="68.8" y2="363.25" stroke="#000" stroke-width="1.3"/>
<line x1="779.8" y1="363.25" x2="767.8" y2="363.25" stroke="#000" stroke-width="1.3"/>
<line x1="56.8" y1="383.33" x2="62.8" y2="383.33" stroke="#000" stroke-width="1.3"/>
<line x1="779.8" y1="383.33" x2="773.8" y2="383.33" stroke="#000" stroke-width="1.3"/>
<line x1="56.8" y1="403.42" x2="62.8" y2="403.42" stroke="#000" stroke-width="1.3"/>
<line x1="779.8" y1="403.42" x2="773.8" y2="403.42" stroke="#000" stroke-width="1.3"/>
<line x1="56.8" y1="423.50" x2="68.8" y2="423.50" stroke="#000" stroke-width="1.3"/>
<line x1="779.8" y1="423.50" x2="767.8" y2="423.50" stroke="#000" stroke-width="1.3"/>
<line x1="56.8" y1="443.58" x2="62.8" y2="443.58" stroke="#000" stroke-width="1.3"/>
<line x1="779.8" y1="443.58" x2="773.8" y2="443.58" stroke="#000" stroke-width="1.3"/>
<line x1="56.8" y1="463.67" x2="62.8" y2="463.67" stroke="#000" stroke-width="1.3"/>
<line x1="779.8" y1="463.67" x2="773.8" y2="463.67" stroke="#000" stroke-width="1.3"/>
<line x1="56.8" y1="483.75" x2="68.8" y2="483.75" stroke="#000" stroke-width="1.3"/>
<line x1="779.8" y1="483.75" x2="767.8" y2="483.75" stroke="#000" stroke-width="1.3"/>
<line x1="56.8" y1="503.83" x2="62.8" y2="503.83" stroke="#000" stroke-width="1.3"/>
<line x1="779.8" y1="503.83" x2="773.8" y2="503.83" stroke="#000" stroke-width="1.3"/>
<line x1="56.8" y1="523.92" x2="62.8" y2="523.92" stroke="#000" stroke-width="1.3"/>
<line x1="779.8" y1="523.92" x2="773.8" y2="523.92" stroke="#000" stroke-width="1.3"/>
<text x="63.2" y="116.6" font-size="16.5" textLength="221.6" lengthAdjust="spacingAndGlyphs">2-m Air Temperature Anomaly</text>
<text x="63.2" y="140.6" font-size="16.5" textLength="220.0" lengthAdjust="spacingAndGlyphs">CMA-CPSv3 monthly forecast</text>
<text x="63.2" y="164.4" font-size="16.5" textLength="155.8" lengthAdjust="spacingAndGlyphs">Initial date: 20251201</text>
<text x="761.2" y="116.6" font-size="16.5" text-anchor="end" textLength="107.5" lengthAdjust="spacingAndGlyphs">Dates: 202604</text>
<text x="762.0" y="140.6" font-size="16.5" text-anchor="end" textLength="145.6" lengthAdjust="spacingAndGlyphs">Ensemble Size = 21</text>
<text x="761.4" y="164.4" font-size="16.5" text-anchor="end" textLength="87.2" lengthAdjust="spacingAndGlyphs">Units: degC</text>
<text x="45.5" y="188.50" font-size="16.5" text-anchor="end">90N</text>
<text x="45.5" y="248.75" font-size="16.5" text-anchor="end">60N</text>
<text x="45.5" y="309.00" font-size="16.5" text-anchor="end">30N</text>
<text x="45.5" y="369.25" font-size="16.5" text-anchor="end">0</text>
<text x="45.5" y="429.50" font-size="16.5" text-anchor="end">30S</text>
<text x="45.5" y="489.75" font-size="16.5" text-anchor="end">60S</text>
<text x="45.5" y="550.00" font-size="16.5" text-anchor="end">90S</text>
<text x="56.80" y="569" font-size="16.5" text-anchor="middle">0</text>
<text x="117.05" y="569" font-size="16.5" text-anchor="middle">30E</text>
<text x="177.30" y="569" font-size="16.5" text-anchor="middle">60E</text>
<text x="237.55" y="569" font-size="16.5" text-anchor="middle">90E</text>
<text x="297.80" y="569" font-size="16.5" text-anchor="middle">120E</text>
<text x="358.05" y="569" font-size="16.5" text-anchor="middle">150E</text>
<text x="418.30" y="569" font-size="16.5" text-anchor="middle">180</text>
<text x="478.55" y="569" font-size="16.5" text-anchor="middle">150W</text>
<text x="538.80" y="569" font-size="16.5" text-anchor="middle">120W</text>
<text x="599.05" y="569" font-size="16.5" text-anchor="middle">90W</text>
<text x="659.30" y="569" font-size="16.5" text-anchor="middle">60W</text>
<text x="719.55" y="569" font-size="16.5" text-anchor="middle">30W</text>
<text x="779.80" y="569" font-size="16.5" text-anchor="middle">0</text>
<rect x="149.40" y="607.3" width="33.59" height="15.90" fill="#8020E8" stroke="#000" stroke-width="1"/>
<rect x="182.99" y="607.3" width="33.59" height="15.90" fill="#000090" stroke="#000" stroke-width="1"/>
<rect x="216.59" y="607.3" width="33.59" height="15.90" fill="#0000D0" stroke="#000" stroke-width="1"/>
<rect x="250.18" y="607.3" width="33.59" height="15.90" fill="#4169E1" stroke="#000" stroke-width="1"/>
<rect x="283.77" y="607.3" width="33.59" height="15.90" fill="#1E8CFF" stroke="#000" stroke-width="1"/>
<rect x="317.37" y="607.3" width="33.59" height="15.90" fill="#00BFFF" stroke="#000" stroke-width="1"/>
<rect x="350.96" y="607.3" width="33.59" height="15.90" fill="#A0D2FF" stroke="#000" stroke-width="1"/>
<rect x="384.56" y="607.3" width="33.59" height="15.90" fill="#D2F5FF" stroke="#000" stroke-width="1"/>
<rect x="418.15" y="607.3" width="33.59" height="15.90" fill="#FFFCC8" stroke="#000" stroke-width="1"/>
<rect x="451.74" y="607.3" width="33.59" height="15.90" fill="#FFDC32" stroke="#000" stroke-width="1"/>
<rect x="485.34" y="607.3" width="33.59" height="15.90" fill="#FFA800" stroke="#000" stroke-width="1"/>
<rect x="518.93" y="607.3" width="33.59" height="15.90" fill="#FF6E00" stroke="#000" stroke-width="1"/>
<rect x="552.52" y="607.3" width="33.59" height="15.90" fill="#FF0000" stroke="#000" stroke-width="1"/>
<rect x="586.12" y="607.3" width="33.59" height="15.90" fill="#C40000" stroke="#000" stroke-width="1"/>
<rect x="619.71" y="607.3" width="33.59" height="15.90" fill="#A02424" stroke="#000" stroke-width="1"/>
<rect x="653.31" y="607.3" width="33.59" height="15.90" fill="#FF66AA" stroke="#000" stroke-width="1"/>
<text x="182.99" y="641" font-size="16.5" text-anchor="middle">-5</text>
<text x="216.59" y="641" font-size="16.5" text-anchor="middle">-3</text>
<text x="250.18" y="641" font-size="16.5" text-anchor="middle">-2</text>
<text x="283.77" y="641" font-size="16.5" text-anchor="middle">-1.5</text>
<text x="317.37" y="641" font-size="16.5" text-anchor="middle">-1</text>
<text x="350.96" y="641" font-size="16.5" text-anchor="middle">-0.5</text>
<text x="384.56" y="641" font-size="16.5" text-anchor="middle">-0.2</text>
<text x="418.15" y="641" font-size="16.5" text-anchor="middle">0</text>
<text x="451.74" y="641" font-size="16.5" text-anchor="middle">0.2</text>
<text x="485.34" y="641" font-size="16.5" text-anchor="middle">0.5</text>
<text x="518.93" y="641" font-size="16.5" text-anchor="middle">1</text>
<text x="552.52" y="641" font-size="16.5" text-anchor="middle">1.5</text>
<text x="586.12" y="641" font-size="16.5" text-anchor="middle">2</text>
<text x="619.71" y="641" font-size="16.5" text-anchor="middle">3</text>
<text x="653.31" y="641" font-size="16.5" text-anchor="middle">5</text>
<text x="418.3" y="600" font-size="12" text-anchor="middle" textLength="141.8" lengthAdjust="spacingAndGlyphs">Copyright © CEMC, CMA</text>
</svg></body></html>
